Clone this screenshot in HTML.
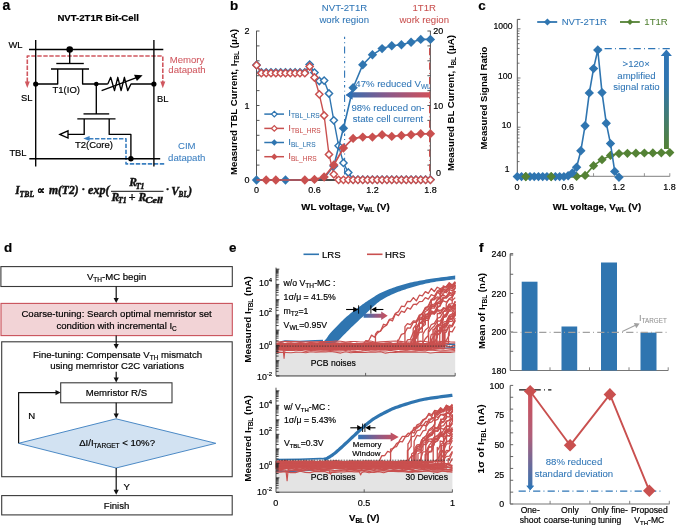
<!DOCTYPE html>
<html><head><meta charset="utf-8"><style>
html,body{margin:0;padding:0;background:#fff;width:685px;height:525px;overflow:hidden;}
svg{display:block;will-change:transform;}

</style></head><body>
<svg width="685" height="525" viewBox="0 0 685 525">
<rect width="685" height="525" fill="#fff"/>
<text x="2.50" y="9.60" font-size="14" font-weight="bold" text-anchor="start" fill="#000" stroke="#000" stroke-width="0.18" font-family='"Liberation Sans", sans-serif' >a</text>
<text x="57.40" y="20.60" font-size="9.6" font-weight="bold" text-anchor="start" fill="#000" stroke="#000" stroke-width="0.18" font-family='"Liberation Sans", sans-serif' >NVT-2T1R Bit-Cell</text>
<text x="8.40" y="48.30" font-size="9.4" font-weight="normal" text-anchor="start" fill="#000" stroke="#000" stroke-width="0.18" font-family='"Liberation Sans", sans-serif' >WL</text>
<text x="21.00" y="101.00" font-size="9.4" font-weight="normal" text-anchor="start" fill="#000" stroke="#000" stroke-width="0.18" font-family='"Liberation Sans", sans-serif' >SL</text>
<text x="157.00" y="101.60" font-size="9.4" font-weight="normal" text-anchor="start" fill="#000" stroke="#000" stroke-width="0.18" font-family='"Liberation Sans", sans-serif' >BL</text>
<text x="9.40" y="155.50" font-size="9.4" font-weight="normal" text-anchor="start" fill="#000" stroke="#000" stroke-width="0.18" font-family='"Liberation Sans", sans-serif' >TBL</text>
<text x="52.50" y="93.20" font-size="9.5" font-weight="normal" text-anchor="start" fill="#000" stroke="#000" stroke-width="0.18" font-family='"Liberation Sans", sans-serif' >T1(IO)</text>
<text x="74.90" y="147.80" font-size="9.5" font-weight="normal" text-anchor="start" fill="#000" stroke="#000" stroke-width="0.18" font-family='"Liberation Sans", sans-serif' >T2(Core)</text>
<polyline points="27.30,82.00 27.30,56.00 162.80,56.00 162.80,82.00" stroke="#d0575f" stroke-width="1.6" fill="none" stroke-linejoin="round" stroke-dasharray="4.4,1.6"/>
<polygon points="24.80,81.40 29.80,81.40 27.30,88.00" fill="#d0575f" stroke="none" stroke-width="1" />
<polygon points="160.30,81.40 165.30,81.40 162.80,88.20" fill="#d0575f" stroke="none" stroke-width="1" />
<text x="187.00" y="63.30" font-size="9.6" font-weight="normal" text-anchor="middle" fill="#d0575f" stroke="#d0575f" stroke-width="0.06" font-family='"Liberation Sans", sans-serif' >Memory</text>
<text x="187.00" y="73.30" font-size="9.6" font-weight="normal" text-anchor="middle" fill="#d0575f" stroke="#d0575f" stroke-width="0.06" font-family='"Liberation Sans", sans-serif' >datapath</text>
<polyline points="89.00,138.70 126.00,138.70 126.00,163.90 165.00,163.90" stroke="#3a7fc0" stroke-width="1.6" fill="none" stroke-linejoin="round" stroke-dasharray="4.4,1.6"/>
<polygon points="83.30,138.50 89.60,136.00 89.60,141.00" fill="#3a7fc0" stroke="none" stroke-width="1" />
<text x="186.80" y="149.20" font-size="9.6" font-weight="normal" text-anchor="middle" fill="#3a7fc0" stroke="#3a7fc0" stroke-width="0.06" font-family='"Liberation Sans", sans-serif' >CIM</text>
<text x="186.80" y="160.60" font-size="9.6" font-weight="normal" text-anchor="middle" fill="#3a7fc0" stroke="#3a7fc0" stroke-width="0.06" font-family='"Liberation Sans", sans-serif' >datapath</text>
<line x1="35.70" y1="40.00" x2="35.70" y2="166.50" stroke="#000" stroke-width="1.35" />
<line x1="153.90" y1="40.00" x2="153.90" y2="166.50" stroke="#000" stroke-width="1.35" />
<line x1="29.00" y1="49.50" x2="163.30" y2="49.50" stroke="#000" stroke-width="1.35" />
<line x1="29.30" y1="158.70" x2="160.20" y2="158.70" stroke="#000" stroke-width="1.35" />
<line x1="69.70" y1="49.50" x2="69.70" y2="63.50" stroke="#000" stroke-width="1.35" />
<line x1="56.30" y1="63.50" x2="83.80" y2="63.50" stroke="#000" stroke-width="1.35" />
<line x1="51.00" y1="69.00" x2="89.00" y2="69.00" stroke="#000" stroke-width="1.35" />
<polyline points="35.70,84.00 57.70,84.00 57.70,69.00" stroke="#000" stroke-width="1.35" fill="none" stroke-linejoin="round" />
<polyline points="82.60,69.00 82.60,84.00 107.80,84.00" stroke="#000" stroke-width="1.35" fill="none" stroke-linejoin="round" />
<polyline points="107.80,84.00 110.70,77.30 114.50,90.60 117.80,77.30 121.10,90.60 124.40,77.30 127.70,90.60 131.00,84.00 153.90,84.00" stroke="#000" stroke-width="1.35" fill="none" stroke-linejoin="round" />
<line x1="101.60" y1="90.60" x2="137.20" y2="77.40" stroke="#000" stroke-width="1.3" />
<polygon points="142.60,75.30 134.00,74.80 136.90,81.00" fill="#000" stroke="none" stroke-width="1" />
<line x1="96.30" y1="84.00" x2="96.30" y2="113.90" stroke="#000" stroke-width="1.35" />
<line x1="83.50" y1="113.90" x2="109.20" y2="113.90" stroke="#000" stroke-width="1.35" />
<line x1="77.30" y1="118.90" x2="115.50" y2="118.90" stroke="#000" stroke-width="1.35" />
<polyline points="84.20,118.90 84.20,134.40 68.00,134.40" stroke="#000" stroke-width="1.35" fill="none" stroke-linejoin="round" />
<polygon points="59.90,134.40 68.00,130.80 68.00,138.00" fill="#fff" stroke="#000" stroke-width="1.35" />
<polyline points="109.20,118.90 109.20,134.40 130.90,134.40 130.90,158.70" stroke="#000" stroke-width="1.35" fill="none" stroke-linejoin="round" />
<circle cx="69.70" cy="49.50" r="3.3" fill="#000"/>
<circle cx="35.70" cy="84.00" r="2.6" fill="#000"/>
<circle cx="96.30" cy="84.00" r="2.3" fill="#000"/>
<circle cx="153.90" cy="84.00" r="2.6" fill="#000"/>
<circle cx="130.90" cy="158.70" r="2.7" fill="#000"/>
<text x="15.3" y="194.1" font-size="11.5" style='font-family:"Liberation Serif", serif;font-weight:bold;font-style:italic' fill="#111" stroke="#111" stroke-width="0.42">I</text>
<text x="19.6" y="197.0" font-size="7.8" style='font-family:"Liberation Serif", serif;font-weight:bold;font-style:italic' fill="#111" stroke="#111" stroke-width="0.42" textLength="14.5" lengthAdjust="spacingAndGlyphs">TBL</text>
<text x="36.9" y="193.6" font-size="10.5" style='font-family:"Liberation Serif", serif;font-weight:bold' fill="#111" stroke="#111" stroke-width="0.25">∝</text>
<text x="48.9" y="194.1" font-size="11.5" style='font-family:"Liberation Serif", serif;font-weight:bold;font-style:italic' fill="#111" stroke="#111" stroke-width="0.42" textLength="29.8" lengthAdjust="spacingAndGlyphs">m(T2)</text>
<text x="81.6" y="193.3" font-size="11" style='font-family:"Liberation Serif", serif;font-weight:bold' fill="#111" stroke="#111" stroke-width="0.42">·</text>
<text x="88.1" y="194.1" font-size="11.5" style='font-family:"Liberation Serif", serif;font-weight:bold;font-style:italic' fill="#111" stroke="#111" stroke-width="0.42" textLength="21.5" lengthAdjust="spacingAndGlyphs">exp(</text>
<text x="129.2" y="185.9" font-size="11.5" style='font-family:"Liberation Serif", serif;font-weight:bold;font-style:italic' fill="#111" stroke="#111" stroke-width="0.42">R</text>
<text x="135.8" y="188.5" font-size="7.8" style='font-family:"Liberation Serif", serif;font-weight:bold;font-style:italic' fill="#111" stroke="#111" stroke-width="0.42" textLength="8.7" lengthAdjust="spacingAndGlyphs">T1</text>
<text x="111.4" y="200.8" font-size="11.5" style='font-family:"Liberation Serif", serif;font-weight:bold;font-style:italic' fill="#111" stroke="#111" stroke-width="0.42">R</text>
<text x="118.0" y="203.3" font-size="7.8" style='font-family:"Liberation Serif", serif;font-weight:bold;font-style:italic' fill="#111" stroke="#111" stroke-width="0.42" textLength="8.7" lengthAdjust="spacingAndGlyphs">T1</text>
<text x="128.6" y="201.0" font-size="12.5" style='font-family:"Liberation Serif", serif;font-weight:bold' fill="#111" stroke="#111" stroke-width="0.3">+</text>
<text x="138.6" y="200.8" font-size="11.5" style='font-family:"Liberation Serif", serif;font-weight:bold;font-style:italic' fill="#111" stroke="#111" stroke-width="0.42">R</text>
<text x="145.2" y="203.3" font-size="7.8" style='font-family:"Liberation Serif", serif;font-weight:bold;font-style:italic' fill="#111" stroke="#111" stroke-width="0.42" textLength="17.6" lengthAdjust="spacingAndGlyphs">Cell</text>
<text x="165.8" y="193.3" font-size="11" style='font-family:"Liberation Serif", serif;font-weight:bold' fill="#111" stroke="#111" stroke-width="0.42">·</text>
<text x="171.3" y="194.9" font-size="11.5" style='font-family:"Liberation Serif", serif;font-weight:bold;font-style:italic' fill="#111" stroke="#111" stroke-width="0.42">V</text>
<text x="178.6" y="197.2" font-size="7.8" style='font-family:"Liberation Serif", serif;font-weight:bold;font-style:italic' fill="#111" stroke="#111" stroke-width="0.42" textLength="9.2" lengthAdjust="spacingAndGlyphs">BL</text>
<text x="188.3" y="194.9" font-size="11.5" style='font-family:"Liberation Serif", serif;font-weight:bold;font-style:italic' fill="#111" stroke="#111" stroke-width="0.42">)</text>
<line x1="111.00" y1="191.30" x2="163.50" y2="191.30" stroke="#111" stroke-width="1.0" />
<text x="230.00" y="9.70" font-size="13.4" font-weight="bold" text-anchor="start" fill="#000" stroke="#000" stroke-width="0.18" font-family='"Liberation Sans", sans-serif' >b</text>
<text x="344.50" y="11.20" font-size="9.6" font-weight="normal" text-anchor="middle" fill="#2e75b6" stroke="#2e75b6" stroke-width="0.06" font-family='"Liberation Sans", sans-serif' >NVT-2T1R</text>
<text x="344.20" y="22.70" font-size="9.6" font-weight="normal" text-anchor="middle" fill="#2e75b6" stroke="#2e75b6" stroke-width="0.06" font-family='"Liberation Sans", sans-serif' >work region</text>
<text x="424.20" y="11.20" font-size="9.6" font-weight="normal" text-anchor="middle" fill="#c9504f" stroke="#c9504f" stroke-width="0.06" font-family='"Liberation Sans", sans-serif' >1T1R</text>
<text x="424.20" y="22.70" font-size="9.6" font-weight="normal" text-anchor="middle" fill="#c9504f" stroke="#c9504f" stroke-width="0.06" font-family='"Liberation Sans", sans-serif' >work region</text>
<line x1="256.50" y1="30.80" x2="256.50" y2="180.50" stroke="#555" stroke-width="1" />
<line x1="430.40" y1="30.80" x2="430.40" y2="176.00" stroke="#555" stroke-width="1" />
<line x1="256.50" y1="180.00" x2="259.50" y2="180.00" stroke="#444" stroke-width="0.9" />
<line x1="256.50" y1="165.10" x2="259.50" y2="165.10" stroke="#444" stroke-width="0.9" />
<line x1="427.40" y1="165.10" x2="430.40" y2="165.10" stroke="#444" stroke-width="0.9" />
<line x1="256.50" y1="150.20" x2="259.50" y2="150.20" stroke="#444" stroke-width="0.9" />
<line x1="427.40" y1="150.20" x2="430.40" y2="150.20" stroke="#444" stroke-width="0.9" />
<line x1="256.50" y1="135.30" x2="259.50" y2="135.30" stroke="#444" stroke-width="0.9" />
<line x1="427.40" y1="135.30" x2="430.40" y2="135.30" stroke="#444" stroke-width="0.9" />
<line x1="256.50" y1="120.40" x2="259.50" y2="120.40" stroke="#444" stroke-width="0.9" />
<line x1="427.40" y1="120.40" x2="430.40" y2="120.40" stroke="#444" stroke-width="0.9" />
<line x1="256.50" y1="105.50" x2="259.50" y2="105.50" stroke="#444" stroke-width="0.9" />
<line x1="427.40" y1="105.50" x2="430.40" y2="105.50" stroke="#444" stroke-width="0.9" />
<line x1="256.50" y1="90.60" x2="259.50" y2="90.60" stroke="#444" stroke-width="0.9" />
<line x1="427.40" y1="90.60" x2="430.40" y2="90.60" stroke="#444" stroke-width="0.9" />
<line x1="256.50" y1="75.70" x2="259.50" y2="75.70" stroke="#444" stroke-width="0.9" />
<line x1="427.40" y1="75.70" x2="430.40" y2="75.70" stroke="#444" stroke-width="0.9" />
<line x1="256.50" y1="60.80" x2="259.50" y2="60.80" stroke="#444" stroke-width="0.9" />
<line x1="427.40" y1="60.80" x2="430.40" y2="60.80" stroke="#444" stroke-width="0.9" />
<line x1="256.50" y1="45.90" x2="259.50" y2="45.90" stroke="#444" stroke-width="0.9" />
<line x1="427.40" y1="45.90" x2="430.40" y2="45.90" stroke="#444" stroke-width="0.9" />
<line x1="256.50" y1="31.00" x2="259.50" y2="31.00" stroke="#444" stroke-width="0.9" />
<line x1="427.40" y1="31.00" x2="430.40" y2="31.00" stroke="#444" stroke-width="0.9" />
<line x1="314.47" y1="180.00" x2="314.47" y2="177.00" stroke="#444" stroke-width="0.9" />
<line x1="372.43" y1="180.00" x2="372.43" y2="177.00" stroke="#444" stroke-width="0.9" />
<line x1="430.40" y1="180.00" x2="430.40" y2="177.00" stroke="#444" stroke-width="0.9" />
<line x1="256.50" y1="180.00" x2="430.40" y2="180.00" stroke="#111" stroke-width="1.6" />
<line x1="344.60" y1="36.70" x2="344.60" y2="180.00" stroke="#2e75b6" stroke-width="1.1" stroke-dasharray="2.4,3.2,0.9,3.2,7.2,3.2,0.9,3.2"/>
<line x1="429.60" y1="48.00" x2="429.60" y2="178.00" stroke="#c9504f" stroke-width="1.2" stroke-dasharray="7.2,3.2,0.9,3.2"/>
<text x="249.50" y="34.20" font-size="9" font-weight="normal" text-anchor="end" fill="#000" stroke="#000" stroke-width="0.18" font-family='"Liberation Sans", sans-serif' >2</text>
<text x="249.50" y="108.70" font-size="9" font-weight="normal" text-anchor="end" fill="#000" stroke="#000" stroke-width="0.18" font-family='"Liberation Sans", sans-serif' >1</text>
<text x="249.50" y="183.20" font-size="9" font-weight="normal" text-anchor="end" fill="#000" stroke="#000" stroke-width="0.18" font-family='"Liberation Sans", sans-serif' >0</text>
<text x="433.30" y="34.20" font-size="9" font-weight="normal" text-anchor="start" fill="#000" stroke="#000" stroke-width="0.18" font-family='"Liberation Sans", sans-serif' >20</text>
<text x="433.30" y="108.70" font-size="9" font-weight="normal" text-anchor="start" fill="#000" stroke="#000" stroke-width="0.18" font-family='"Liberation Sans", sans-serif' >10</text>
<text x="435.90" y="175.60" font-size="9" font-weight="normal" text-anchor="start" fill="#000" stroke="#000" stroke-width="0.18" font-family='"Liberation Sans", sans-serif' >0</text>
<text x="256.50" y="193.00" font-size="9" font-weight="normal" text-anchor="middle" fill="#000" stroke="#000" stroke-width="0.18" font-family='"Liberation Sans", sans-serif' >0</text>
<text x="314.47" y="193.00" font-size="9" font-weight="normal" text-anchor="middle" fill="#000" stroke="#000" stroke-width="0.18" font-family='"Liberation Sans", sans-serif' >0.6</text>
<text x="372.43" y="193.00" font-size="9" font-weight="normal" text-anchor="middle" fill="#000" stroke="#000" stroke-width="0.18" font-family='"Liberation Sans", sans-serif' >1.2</text>
<text x="430.40" y="193.00" font-size="9" font-weight="normal" text-anchor="middle" fill="#000" stroke="#000" stroke-width="0.18" font-family='"Liberation Sans", sans-serif' >1.8</text>
<text x="345.50" y="210.40" font-size="9.6" font-weight="bold" text-anchor="middle" fill="#000" stroke="#000" stroke-width="0.18" font-family='"Liberation Sans", sans-serif' >WL voltage, V<tspan font-size="6.5" baseline-shift="-2.3">WL</tspan> (V)</text>
<text transform="translate(237.3,102) rotate(-90)" font-size="9.6" font-weight="bold" text-anchor="middle" font-family='"Liberation Sans", sans-serif' fill="#000">Measured TBL Current, I<tspan font-size="6.5" baseline-shift="-2.3">TBL</tspan> (μA)</text>
<text transform="translate(454,103) rotate(-90)" font-size="9.6" font-weight="bold" text-anchor="middle" font-family='"Liberation Sans", sans-serif' fill="#000">Measured BL Current, I<tspan font-size="6.5" baseline-shift="-2.3">BL</tspan> (μA)</text>
<polyline points="256.50,65.00 261.33,72.30 266.16,72.30 270.99,72.30 275.82,72.30 280.65,72.30 285.48,72.30 290.31,72.30 295.14,72.30 299.98,72.30 304.81,72.30 309.64,64.60 314.47,72.60 319.30,81.00 324.13,80.60 328.96,93.50 333.79,120.30 338.62,145.80 343.45,162.90 348.28,172.50 353.11,179.60 357.94,179.60 362.77,179.60 367.60,179.60 372.43,179.60 377.26,179.60 382.09,179.60 386.92,179.60 391.76,179.60 396.59,179.60 401.42,179.60 406.25,179.60 411.08,179.60 415.91,179.60 420.74,179.60 425.57,179.60 430.40,179.60" stroke="#2f75b0" stroke-width="1.4" fill="none" stroke-linejoin="round" />
<polygon points="252.90,65.00 256.50,61.40 260.10,65.00 256.50,68.60" fill="#fff" stroke="#2f75b0" stroke-width="1.45" />
<polygon points="257.73,72.30 261.33,68.70 264.93,72.30 261.33,75.90" fill="#fff" stroke="#2f75b0" stroke-width="1.45" />
<polygon points="262.56,72.30 266.16,68.70 269.76,72.30 266.16,75.90" fill="#fff" stroke="#2f75b0" stroke-width="1.45" />
<polygon points="267.39,72.30 270.99,68.70 274.59,72.30 270.99,75.90" fill="#fff" stroke="#2f75b0" stroke-width="1.45" />
<polygon points="272.22,72.30 275.82,68.70 279.42,72.30 275.82,75.90" fill="#fff" stroke="#2f75b0" stroke-width="1.45" />
<polygon points="277.05,72.30 280.65,68.70 284.25,72.30 280.65,75.90" fill="#fff" stroke="#2f75b0" stroke-width="1.45" />
<polygon points="281.88,72.30 285.48,68.70 289.08,72.30 285.48,75.90" fill="#fff" stroke="#2f75b0" stroke-width="1.45" />
<polygon points="286.71,72.30 290.31,68.70 293.91,72.30 290.31,75.90" fill="#fff" stroke="#2f75b0" stroke-width="1.45" />
<polygon points="291.54,72.30 295.14,68.70 298.74,72.30 295.14,75.90" fill="#fff" stroke="#2f75b0" stroke-width="1.45" />
<polygon points="296.38,72.30 299.98,68.70 303.58,72.30 299.98,75.90" fill="#fff" stroke="#2f75b0" stroke-width="1.45" />
<polygon points="301.21,72.30 304.81,68.70 308.41,72.30 304.81,75.90" fill="#fff" stroke="#2f75b0" stroke-width="1.45" />
<polygon points="306.04,64.60 309.64,61.00 313.24,64.60 309.64,68.20" fill="#fff" stroke="#2f75b0" stroke-width="1.45" />
<polygon points="310.87,72.60 314.47,69.00 318.07,72.60 314.47,76.20" fill="#fff" stroke="#2f75b0" stroke-width="1.45" />
<polygon points="315.70,81.00 319.30,77.40 322.90,81.00 319.30,84.60" fill="#fff" stroke="#2f75b0" stroke-width="1.45" />
<polygon points="320.53,80.60 324.13,77.00 327.73,80.60 324.13,84.20" fill="#fff" stroke="#2f75b0" stroke-width="1.45" />
<polygon points="325.36,93.50 328.96,89.90 332.56,93.50 328.96,97.10" fill="#fff" stroke="#2f75b0" stroke-width="1.45" />
<polygon points="330.19,120.30 333.79,116.70 337.39,120.30 333.79,123.90" fill="#fff" stroke="#2f75b0" stroke-width="1.45" />
<polygon points="335.02,145.80 338.62,142.20 342.22,145.80 338.62,149.40" fill="#fff" stroke="#2f75b0" stroke-width="1.45" />
<polygon points="339.85,162.90 343.45,159.30 347.05,162.90 343.45,166.50" fill="#fff" stroke="#2f75b0" stroke-width="1.45" />
<polygon points="344.68,172.50 348.28,168.90 351.88,172.50 348.28,176.10" fill="#fff" stroke="#2f75b0" stroke-width="1.45" />
<polygon points="349.51,179.60 353.11,176.00 356.71,179.60 353.11,183.20" fill="#fff" stroke="#2f75b0" stroke-width="1.45" />
<polygon points="354.34,179.60 357.94,176.00 361.54,179.60 357.94,183.20" fill="#fff" stroke="#2f75b0" stroke-width="1.45" />
<polygon points="359.17,179.60 362.77,176.00 366.37,179.60 362.77,183.20" fill="#fff" stroke="#2f75b0" stroke-width="1.45" />
<polygon points="364.00,179.60 367.60,176.00 371.20,179.60 367.60,183.20" fill="#fff" stroke="#2f75b0" stroke-width="1.45" />
<polygon points="368.83,179.60 372.43,176.00 376.03,179.60 372.43,183.20" fill="#fff" stroke="#2f75b0" stroke-width="1.45" />
<polygon points="373.66,179.60 377.26,176.00 380.86,179.60 377.26,183.20" fill="#fff" stroke="#2f75b0" stroke-width="1.45" />
<polygon points="378.49,179.60 382.09,176.00 385.69,179.60 382.09,183.20" fill="#fff" stroke="#2f75b0" stroke-width="1.45" />
<polygon points="383.32,179.60 386.92,176.00 390.52,179.60 386.92,183.20" fill="#fff" stroke="#2f75b0" stroke-width="1.45" />
<polygon points="388.16,179.60 391.76,176.00 395.36,179.60 391.76,183.20" fill="#fff" stroke="#2f75b0" stroke-width="1.45" />
<polygon points="392.99,179.60 396.59,176.00 400.19,179.60 396.59,183.20" fill="#fff" stroke="#2f75b0" stroke-width="1.45" />
<polygon points="397.82,179.60 401.42,176.00 405.02,179.60 401.42,183.20" fill="#fff" stroke="#2f75b0" stroke-width="1.45" />
<polygon points="402.65,179.60 406.25,176.00 409.85,179.60 406.25,183.20" fill="#fff" stroke="#2f75b0" stroke-width="1.45" />
<polygon points="407.48,179.60 411.08,176.00 414.68,179.60 411.08,183.20" fill="#fff" stroke="#2f75b0" stroke-width="1.45" />
<polygon points="412.31,179.60 415.91,176.00 419.51,179.60 415.91,183.20" fill="#fff" stroke="#2f75b0" stroke-width="1.45" />
<polygon points="417.14,179.60 420.74,176.00 424.34,179.60 420.74,183.20" fill="#fff" stroke="#2f75b0" stroke-width="1.45" />
<polygon points="421.97,179.60 425.57,176.00 429.17,179.60 425.57,183.20" fill="#fff" stroke="#2f75b0" stroke-width="1.45" />
<polygon points="426.80,179.60 430.40,176.00 434.00,179.60 430.40,183.20" fill="#fff" stroke="#2f75b0" stroke-width="1.45" />
<polyline points="256.50,65.20 261.33,73.20 266.16,73.20 270.99,73.20 275.82,73.20 280.65,73.20 285.48,73.20 290.31,73.20 295.14,73.20 299.98,73.20 304.81,73.20 309.64,66.50 314.47,77.50 319.30,94.30 324.13,115.50 328.96,154.50 333.79,174.30 338.62,179.80 343.45,179.80 348.28,179.80 353.11,179.80 357.94,179.80 362.77,179.80 367.60,179.80 372.43,179.80 377.26,179.80 382.09,179.80 386.92,179.80 391.76,179.80 396.59,179.80 401.42,179.80 406.25,179.80 411.08,179.80 415.91,179.80 420.74,179.80 425.57,179.80 430.40,179.80" stroke="#c9504f" stroke-width="1.4" fill="none" stroke-linejoin="round" />
<polygon points="252.90,65.20 256.50,61.60 260.10,65.20 256.50,68.80" fill="#fff" stroke="#c9504f" stroke-width="1.45" />
<polygon points="257.73,73.20 261.33,69.60 264.93,73.20 261.33,76.80" fill="#fff" stroke="#c9504f" stroke-width="1.45" />
<polygon points="262.56,73.20 266.16,69.60 269.76,73.20 266.16,76.80" fill="#fff" stroke="#c9504f" stroke-width="1.45" />
<polygon points="267.39,73.20 270.99,69.60 274.59,73.20 270.99,76.80" fill="#fff" stroke="#c9504f" stroke-width="1.45" />
<polygon points="272.22,73.20 275.82,69.60 279.42,73.20 275.82,76.80" fill="#fff" stroke="#c9504f" stroke-width="1.45" />
<polygon points="277.05,73.20 280.65,69.60 284.25,73.20 280.65,76.80" fill="#fff" stroke="#c9504f" stroke-width="1.45" />
<polygon points="281.88,73.20 285.48,69.60 289.08,73.20 285.48,76.80" fill="#fff" stroke="#c9504f" stroke-width="1.45" />
<polygon points="286.71,73.20 290.31,69.60 293.91,73.20 290.31,76.80" fill="#fff" stroke="#c9504f" stroke-width="1.45" />
<polygon points="291.54,73.20 295.14,69.60 298.74,73.20 295.14,76.80" fill="#fff" stroke="#c9504f" stroke-width="1.45" />
<polygon points="296.38,73.20 299.98,69.60 303.58,73.20 299.98,76.80" fill="#fff" stroke="#c9504f" stroke-width="1.45" />
<polygon points="301.21,73.20 304.81,69.60 308.41,73.20 304.81,76.80" fill="#fff" stroke="#c9504f" stroke-width="1.45" />
<polygon points="306.04,66.50 309.64,62.90 313.24,66.50 309.64,70.10" fill="#fff" stroke="#c9504f" stroke-width="1.45" />
<polygon points="310.87,77.50 314.47,73.90 318.07,77.50 314.47,81.10" fill="#fff" stroke="#c9504f" stroke-width="1.45" />
<polygon points="315.70,94.30 319.30,90.70 322.90,94.30 319.30,97.90" fill="#fff" stroke="#c9504f" stroke-width="1.45" />
<polygon points="320.53,115.50 324.13,111.90 327.73,115.50 324.13,119.10" fill="#fff" stroke="#c9504f" stroke-width="1.45" />
<polygon points="325.36,154.50 328.96,150.90 332.56,154.50 328.96,158.10" fill="#fff" stroke="#c9504f" stroke-width="1.45" />
<polygon points="330.19,174.30 333.79,170.70 337.39,174.30 333.79,177.90" fill="#fff" stroke="#c9504f" stroke-width="1.45" />
<polygon points="335.02,179.80 338.62,176.20 342.22,179.80 338.62,183.40" fill="#fff" stroke="#c9504f" stroke-width="1.45" />
<polygon points="339.85,179.80 343.45,176.20 347.05,179.80 343.45,183.40" fill="#fff" stroke="#c9504f" stroke-width="1.45" />
<polygon points="344.68,179.80 348.28,176.20 351.88,179.80 348.28,183.40" fill="#fff" stroke="#c9504f" stroke-width="1.45" />
<polygon points="349.51,179.80 353.11,176.20 356.71,179.80 353.11,183.40" fill="#fff" stroke="#c9504f" stroke-width="1.45" />
<polygon points="354.34,179.80 357.94,176.20 361.54,179.80 357.94,183.40" fill="#fff" stroke="#c9504f" stroke-width="1.45" />
<polygon points="359.17,179.80 362.77,176.20 366.37,179.80 362.77,183.40" fill="#fff" stroke="#c9504f" stroke-width="1.45" />
<polygon points="364.00,179.80 367.60,176.20 371.20,179.80 367.60,183.40" fill="#fff" stroke="#c9504f" stroke-width="1.45" />
<polygon points="368.83,179.80 372.43,176.20 376.03,179.80 372.43,183.40" fill="#fff" stroke="#c9504f" stroke-width="1.45" />
<polygon points="373.66,179.80 377.26,176.20 380.86,179.80 377.26,183.40" fill="#fff" stroke="#c9504f" stroke-width="1.45" />
<polygon points="378.49,179.80 382.09,176.20 385.69,179.80 382.09,183.40" fill="#fff" stroke="#c9504f" stroke-width="1.45" />
<polygon points="383.32,179.80 386.92,176.20 390.52,179.80 386.92,183.40" fill="#fff" stroke="#c9504f" stroke-width="1.45" />
<polygon points="388.16,179.80 391.76,176.20 395.36,179.80 391.76,183.40" fill="#fff" stroke="#c9504f" stroke-width="1.45" />
<polygon points="392.99,179.80 396.59,176.20 400.19,179.80 396.59,183.40" fill="#fff" stroke="#c9504f" stroke-width="1.45" />
<polygon points="397.82,179.80 401.42,176.20 405.02,179.80 401.42,183.40" fill="#fff" stroke="#c9504f" stroke-width="1.45" />
<polygon points="402.65,179.80 406.25,176.20 409.85,179.80 406.25,183.40" fill="#fff" stroke="#c9504f" stroke-width="1.45" />
<polygon points="407.48,179.80 411.08,176.20 414.68,179.80 411.08,183.40" fill="#fff" stroke="#c9504f" stroke-width="1.45" />
<polygon points="412.31,179.80 415.91,176.20 419.51,179.80 415.91,183.40" fill="#fff" stroke="#c9504f" stroke-width="1.45" />
<polygon points="417.14,179.80 420.74,176.20 424.34,179.80 420.74,183.40" fill="#fff" stroke="#c9504f" stroke-width="1.45" />
<polygon points="421.97,179.80 425.57,176.20 429.17,179.80 425.57,183.40" fill="#fff" stroke="#c9504f" stroke-width="1.45" />
<polygon points="426.80,179.80 430.40,176.20 434.00,179.80 430.40,183.40" fill="#fff" stroke="#c9504f" stroke-width="1.45" />
<polyline points="256.50,180.00 266.16,180.00 275.82,180.00 285.48,180.00 295.14,180.00 304.81,180.00 314.47,179.50 324.13,178.00 333.79,166.00 343.45,128.30 353.11,87.80 362.77,64.70 372.43,54.80 382.09,48.60 391.76,45.70 401.42,44.70 411.08,42.30 420.74,39.40 430.40,39.40" stroke="#2f75b0" stroke-width="1.6" fill="none" stroke-linejoin="round" />
<polygon points="251.80,180.00 256.50,175.30 261.20,180.00 256.50,184.70" fill="#2f75b0" stroke="none" stroke-width="0" />
<polygon points="280.78,180.00 285.48,175.30 290.18,180.00 285.48,184.70" fill="#2f75b0" stroke="none" stroke-width="0" />
<polygon points="329.09,166.00 333.79,161.30 338.49,166.00 333.79,170.70" fill="#2f75b0" stroke="none" stroke-width="0" />
<polygon points="338.75,128.30 343.45,123.60 348.15,128.30 343.45,133.00" fill="#2f75b0" stroke="none" stroke-width="0" />
<polygon points="348.41,87.80 353.11,83.10 357.81,87.80 353.11,92.50" fill="#2f75b0" stroke="none" stroke-width="0" />
<polygon points="358.07,64.70 362.77,60.00 367.47,64.70 362.77,69.40" fill="#2f75b0" stroke="none" stroke-width="0" />
<polygon points="367.73,54.80 372.43,50.10 377.13,54.80 372.43,59.50" fill="#2f75b0" stroke="none" stroke-width="0" />
<polygon points="377.39,48.60 382.09,43.90 386.79,48.60 382.09,53.30" fill="#2f75b0" stroke="none" stroke-width="0" />
<polygon points="387.06,45.70 391.76,41.00 396.46,45.70 391.76,50.40" fill="#2f75b0" stroke="none" stroke-width="0" />
<polygon points="396.72,44.70 401.42,40.00 406.12,44.70 401.42,49.40" fill="#2f75b0" stroke="none" stroke-width="0" />
<polygon points="406.38,42.30 411.08,37.60 415.78,42.30 411.08,47.00" fill="#2f75b0" stroke="none" stroke-width="0" />
<polygon points="416.04,39.40 420.74,34.70 425.44,39.40 420.74,44.10" fill="#2f75b0" stroke="none" stroke-width="0" />
<polygon points="425.70,39.40 430.40,34.70 435.10,39.40 430.40,44.10" fill="#2f75b0" stroke="none" stroke-width="0" />
<polyline points="256.50,180.00 266.16,180.00 275.82,180.00 285.48,180.00 295.14,180.00 304.81,180.00 314.47,179.40 324.13,177.00 333.79,165.00 343.45,148.00 353.11,138.40 362.77,137.10 372.43,137.10 382.09,134.70 391.76,136.40 401.42,135.50 411.08,134.70 420.74,133.80 430.40,133.80" stroke="#c9504f" stroke-width="1.7" fill="none" stroke-linejoin="round" />
<polygon points="261.46,180.00 266.16,175.30 270.86,180.00 266.16,184.70" fill="#c9504f" stroke="none" stroke-width="0" />
<polygon points="271.12,180.00 275.82,175.30 280.52,180.00 275.82,184.70" fill="#c9504f" stroke="none" stroke-width="0" />
<polygon points="300.11,180.00 304.81,175.30 309.51,180.00 304.81,184.70" fill="#c9504f" stroke="none" stroke-width="0" />
<polygon points="309.77,179.40 314.47,174.70 319.17,179.40 314.47,184.10" fill="#c9504f" stroke="none" stroke-width="0" />
<polygon points="319.43,177.00 324.13,172.30 328.83,177.00 324.13,181.70" fill="#c9504f" stroke="none" stroke-width="0" />
<polygon points="329.09,165.00 333.79,160.30 338.49,165.00 333.79,169.70" fill="#c9504f" stroke="none" stroke-width="0" />
<polygon points="338.75,148.00 343.45,143.30 348.15,148.00 343.45,152.70" fill="#c9504f" stroke="none" stroke-width="0" />
<polygon points="348.41,138.40 353.11,133.70 357.81,138.40 353.11,143.10" fill="#c9504f" stroke="none" stroke-width="0" />
<polygon points="358.07,137.10 362.77,132.40 367.47,137.10 362.77,141.80" fill="#c9504f" stroke="none" stroke-width="0" />
<polygon points="367.73,137.10 372.43,132.40 377.13,137.10 372.43,141.80" fill="#c9504f" stroke="none" stroke-width="0" />
<polygon points="377.39,134.70 382.09,130.00 386.79,134.70 382.09,139.40" fill="#c9504f" stroke="none" stroke-width="0" />
<polygon points="387.06,136.40 391.76,131.70 396.46,136.40 391.76,141.10" fill="#c9504f" stroke="none" stroke-width="0" />
<polygon points="396.72,135.50 401.42,130.80 406.12,135.50 401.42,140.20" fill="#c9504f" stroke="none" stroke-width="0" />
<polygon points="406.38,134.70 411.08,130.00 415.78,134.70 411.08,139.40" fill="#c9504f" stroke="none" stroke-width="0" />
<polygon points="416.04,133.80 420.74,129.10 425.44,133.80 420.74,138.50" fill="#c9504f" stroke="none" stroke-width="0" />
<polygon points="425.70,133.80 430.40,129.10 435.10,133.80 430.40,138.50" fill="#c9504f" stroke="none" stroke-width="0" />
<defs><linearGradient id="gb" x1="0" x2="1" y1="0" y2="0"><stop offset="0" stop-color="#2f6fb3"/><stop offset="0.5" stop-color="#8a5a8a"/><stop offset="1" stop-color="#d0505a"/></linearGradient><linearGradient id="gc" x1="0" x2="0" y1="0" y2="1"><stop offset="0" stop-color="#2f75b6"/><stop offset="0.35" stop-color="#2f75b0"/><stop offset="1" stop-color="#548235"/></linearGradient><linearGradient id="gf" x1="0" x2="0" y1="0" y2="1"><stop offset="0" stop-color="#cf4f57"/><stop offset="0.45" stop-color="#b05f7a"/><stop offset="1" stop-color="#2f75b6"/></linearGradient><linearGradient id="ge" x1="0" x2="1" y1="0" y2="0"><stop offset="0" stop-color="#2f72b6"/><stop offset="0.5" stop-color="#8e5a86"/><stop offset="1" stop-color="#cf4f57"/></linearGradient></defs>
<polygon points="345.80,94.90 352.40,90.30 352.40,92.20 429.80,92.20 429.80,97.60 352.40,97.60 352.40,99.40" fill="url(#gb)" stroke="none" stroke-width="1" />
<polygon points="345.80,94.90 352.40,90.30 352.40,99.40" fill="#2f6fb3" stroke="none" stroke-width="1" />
<text x="355.30" y="86.70" font-size="9.6" font-weight="normal" text-anchor="start" fill="#2e75b6" stroke="#2e75b6" stroke-width="0.06" font-family='"Liberation Sans", sans-serif' >47% reduced V<tspan font-size="6.5" baseline-shift="-2.0">WL</tspan></text>
<text x="388.00" y="110.80" font-size="9.6" font-weight="normal" text-anchor="middle" fill="#2e75b6" stroke="#2e75b6" stroke-width="0.06" font-family='"Liberation Sans", sans-serif' >98% reduced on-</text>
<text x="388.00" y="122.40" font-size="9.6" font-weight="normal" text-anchor="middle" fill="#2e75b6" stroke="#2e75b6" stroke-width="0.06" font-family='"Liberation Sans", sans-serif' >state cell current</text>
<line x1="264.30" y1="114.10" x2="284.00" y2="114.10" stroke="#2f75b0" stroke-width="1.5" />
<polygon points="271.50,114.10 274.30,111.30 277.10,114.10 274.30,116.90" fill="#fff" stroke="#2f75b0" stroke-width="1.3" />
<text x="288.30" y="116.30" font-size="9.6" font-weight="normal" text-anchor="start" fill="#2f75b0" stroke="#2f75b0" stroke-width="0.06" font-family='"Liberation Sans", sans-serif' >I<tspan font-size="6.6" baseline-shift="-2.4">TBL_LRS</tspan></text>
<line x1="264.30" y1="128.40" x2="284.00" y2="128.40" stroke="#c9504f" stroke-width="1.5" />
<polygon points="271.50,128.40 274.30,125.60 277.10,128.40 274.30,131.20" fill="#fff" stroke="#c9504f" stroke-width="1.3" />
<text x="288.30" y="130.60" font-size="9.6" font-weight="normal" text-anchor="start" fill="#c9504f" stroke="#c9504f" stroke-width="0.06" font-family='"Liberation Sans", sans-serif' >I<tspan font-size="6.6" baseline-shift="-2.4">TBL_HRS</tspan></text>
<line x1="264.30" y1="142.50" x2="284.00" y2="142.50" stroke="#2f75b0" stroke-width="1.5" />
<polygon points="271.10,142.50 274.30,139.30 277.50,142.50 274.30,145.70" fill="#2f75b0" stroke="none" stroke-width="0" />
<text x="288.30" y="144.70" font-size="9.6" font-weight="normal" text-anchor="start" fill="#2f75b0" stroke="#2f75b0" stroke-width="0.06" font-family='"Liberation Sans", sans-serif' >I<tspan font-size="6.6" baseline-shift="-2.4">BL_LRS</tspan></text>
<line x1="264.30" y1="156.70" x2="284.00" y2="156.70" stroke="#c9504f" stroke-width="1.5" />
<polygon points="271.10,156.70 274.30,153.50 277.50,156.70 274.30,159.90" fill="#c9504f" stroke="none" stroke-width="0" />
<text x="288.30" y="158.90" font-size="9.6" font-weight="normal" text-anchor="start" fill="#c9504f" stroke="#c9504f" stroke-width="0.06" font-family='"Liberation Sans", sans-serif' >I<tspan font-size="6.6" baseline-shift="-2.4">BL_HRS</tspan></text>
<text x="478.30" y="9.70" font-size="13.4" font-weight="bold" text-anchor="start" fill="#000" stroke="#000" stroke-width="0.18" font-family='"Liberation Sans", sans-serif' >c</text>
<line x1="517.30" y1="19.40" x2="517.30" y2="176.40" stroke="#555" stroke-width="1" />
<line x1="517.30" y1="19.40" x2="520.30" y2="19.40" stroke="#555" stroke-width="1" />
<line x1="517.30" y1="176.40" x2="520.50" y2="176.40" stroke="#555" stroke-width="0.8" />
<line x1="517.30" y1="161.59" x2="519.50" y2="161.59" stroke="#555" stroke-width="0.8" />
<line x1="517.30" y1="152.93" x2="519.50" y2="152.93" stroke="#555" stroke-width="0.8" />
<line x1="517.30" y1="146.78" x2="519.50" y2="146.78" stroke="#555" stroke-width="0.8" />
<line x1="517.30" y1="142.01" x2="519.50" y2="142.01" stroke="#555" stroke-width="0.8" />
<line x1="517.30" y1="138.11" x2="519.50" y2="138.11" stroke="#555" stroke-width="0.8" />
<line x1="517.30" y1="134.82" x2="519.50" y2="134.82" stroke="#555" stroke-width="0.8" />
<line x1="517.30" y1="131.97" x2="519.50" y2="131.97" stroke="#555" stroke-width="0.8" />
<line x1="517.30" y1="129.45" x2="519.50" y2="129.45" stroke="#555" stroke-width="0.8" />
<line x1="517.30" y1="127.20" x2="520.50" y2="127.20" stroke="#555" stroke-width="0.8" />
<line x1="517.30" y1="112.39" x2="519.50" y2="112.39" stroke="#555" stroke-width="0.8" />
<line x1="517.30" y1="103.73" x2="519.50" y2="103.73" stroke="#555" stroke-width="0.8" />
<line x1="517.30" y1="97.58" x2="519.50" y2="97.58" stroke="#555" stroke-width="0.8" />
<line x1="517.30" y1="92.81" x2="519.50" y2="92.81" stroke="#555" stroke-width="0.8" />
<line x1="517.30" y1="88.91" x2="519.50" y2="88.91" stroke="#555" stroke-width="0.8" />
<line x1="517.30" y1="85.62" x2="519.50" y2="85.62" stroke="#555" stroke-width="0.8" />
<line x1="517.30" y1="82.77" x2="519.50" y2="82.77" stroke="#555" stroke-width="0.8" />
<line x1="517.30" y1="80.25" x2="519.50" y2="80.25" stroke="#555" stroke-width="0.8" />
<line x1="517.30" y1="78.00" x2="520.50" y2="78.00" stroke="#555" stroke-width="0.8" />
<line x1="517.30" y1="63.19" x2="519.50" y2="63.19" stroke="#555" stroke-width="0.8" />
<line x1="517.30" y1="54.53" x2="519.50" y2="54.53" stroke="#555" stroke-width="0.8" />
<line x1="517.30" y1="48.38" x2="519.50" y2="48.38" stroke="#555" stroke-width="0.8" />
<line x1="517.30" y1="43.61" x2="519.50" y2="43.61" stroke="#555" stroke-width="0.8" />
<line x1="517.30" y1="39.71" x2="519.50" y2="39.71" stroke="#555" stroke-width="0.8" />
<line x1="517.30" y1="36.42" x2="519.50" y2="36.42" stroke="#555" stroke-width="0.8" />
<line x1="517.30" y1="33.57" x2="519.50" y2="33.57" stroke="#555" stroke-width="0.8" />
<line x1="517.30" y1="31.05" x2="519.50" y2="31.05" stroke="#555" stroke-width="0.8" />
<line x1="517.30" y1="28.80" x2="520.50" y2="28.80" stroke="#555" stroke-width="0.8" />
<line x1="517.30" y1="176.40" x2="669.80" y2="176.40" stroke="#999" stroke-width="1.2" />
<line x1="542.72" y1="176.40" x2="542.72" y2="173.20" stroke="#888" stroke-width="0.9" />
<line x1="568.13" y1="176.40" x2="568.13" y2="173.20" stroke="#888" stroke-width="0.9" />
<line x1="593.55" y1="176.40" x2="593.55" y2="173.20" stroke="#888" stroke-width="0.9" />
<line x1="618.97" y1="176.40" x2="618.97" y2="173.20" stroke="#888" stroke-width="0.9" />
<line x1="644.38" y1="176.40" x2="644.38" y2="173.20" stroke="#888" stroke-width="0.9" />
<line x1="669.80" y1="176.40" x2="669.80" y2="173.20" stroke="#888" stroke-width="0.9" />
<text x="512.50" y="28.90" font-size="8.6" font-weight="normal" text-anchor="end" fill="#000" stroke="#000" stroke-width="0.18" font-family='"Liberation Sans", sans-serif' >1000</text>
<text x="512.30" y="79.20" font-size="8.6" font-weight="normal" text-anchor="end" fill="#000" stroke="#000" stroke-width="0.18" font-family='"Liberation Sans", sans-serif' >100</text>
<text x="511.30" y="127.60" font-size="8.6" font-weight="normal" text-anchor="end" fill="#000" stroke="#000" stroke-width="0.18" font-family='"Liberation Sans", sans-serif' >10</text>
<text x="509.60" y="172.20" font-size="8.6" font-weight="normal" text-anchor="end" fill="#000" stroke="#000" stroke-width="0.18" font-family='"Liberation Sans", sans-serif' >1</text>
<text x="517.00" y="189.80" font-size="9" font-weight="normal" text-anchor="middle" fill="#000" stroke="#000" stroke-width="0.18" font-family='"Liberation Sans", sans-serif' >0</text>
<text x="567.83" y="189.80" font-size="9" font-weight="normal" text-anchor="middle" fill="#000" stroke="#000" stroke-width="0.18" font-family='"Liberation Sans", sans-serif' >0.6</text>
<text x="618.67" y="189.80" font-size="9" font-weight="normal" text-anchor="middle" fill="#000" stroke="#000" stroke-width="0.18" font-family='"Liberation Sans", sans-serif' >1.2</text>
<text x="669.50" y="189.80" font-size="9" font-weight="normal" text-anchor="middle" fill="#000" stroke="#000" stroke-width="0.18" font-family='"Liberation Sans", sans-serif' >1.8</text>
<text x="597.00" y="210.20" font-size="9.6" font-weight="bold" text-anchor="middle" fill="#000" stroke="#000" stroke-width="0.18" font-family='"Liberation Sans", sans-serif' >WL voltage, V<tspan font-size="6.5" baseline-shift="-2.3">WL</tspan> (V)</text>
<text transform="translate(487.3,98) rotate(-90)" font-size="9.6" font-weight="bold" text-anchor="middle" font-family='"Liberation Sans", sans-serif' fill="#000">Measured Signal Ratio</text>
<line x1="537.20" y1="22.00" x2="557.20" y2="22.00" stroke="#2f75b0" stroke-width="1.8" />
<polygon points="543.80,22.00 547.40,18.40 551.00,22.00 547.40,25.60" fill="#2f75b0" stroke="none" stroke-width="0" />
<text x="561.70" y="25.40" font-size="9.6" font-weight="normal" text-anchor="start" fill="#2e75b6" stroke="#2e75b6" stroke-width="0.06" font-family='"Liberation Sans", sans-serif' >NVT-2T1R</text>
<line x1="620.00" y1="22.00" x2="639.80" y2="22.00" stroke="#548235" stroke-width="1.8" />
<polygon points="627.00,22.00 630.00,19.00 633.00,22.00 630.00,25.00" fill="#548235" stroke="none" stroke-width="0" />
<text x="644.30" y="25.40" font-size="9.6" font-weight="normal" text-anchor="start" fill="#548235" stroke="#548235" stroke-width="0.06" font-family='"Liberation Sans", sans-serif' >1T1R</text>
<line x1="600.50" y1="48.70" x2="672.60" y2="48.70" stroke="#2e75b6" stroke-width="1.2" stroke-dasharray="0.9,3.2,7.2,3.2"/>
<polyline points="551.19,176.60 559.66,177.20 568.13,177.20 576.61,176.40 585.08,175.40 593.55,165.70 602.02,159.70 610.49,155.40 618.97,153.60 627.44,153.30 635.91,153.20 644.38,153.00 652.86,152.90 661.33,152.80 669.80,152.60" stroke="#548235" stroke-width="1.6" fill="none" stroke-linejoin="round" />
<polygon points="521.17,176.60 525.77,172.00 530.37,176.60 525.77,181.20" fill="#548235" stroke="none" stroke-width="0" />
<polygon points="546.59,176.60 551.19,172.00 555.79,176.60 551.19,181.20" fill="#548235" stroke="none" stroke-width="0" />
<polygon points="572.01,176.40 576.61,171.80 581.21,176.40 576.61,181.00" fill="#548235" stroke="none" stroke-width="0" />
<polygon points="580.48,175.40 585.08,170.80 589.68,175.40 585.08,180.00" fill="#548235" stroke="none" stroke-width="0" />
<polygon points="588.95,165.70 593.55,161.10 598.15,165.70 593.55,170.30" fill="#548235" stroke="none" stroke-width="0" />
<polygon points="597.42,159.70 602.02,155.10 606.62,159.70 602.02,164.30" fill="#548235" stroke="none" stroke-width="0" />
<polygon points="605.89,155.40 610.49,150.80 615.09,155.40 610.49,160.00" fill="#548235" stroke="none" stroke-width="0" />
<polygon points="614.37,153.60 618.97,149.00 623.57,153.60 618.97,158.20" fill="#548235" stroke="none" stroke-width="0" />
<polygon points="622.84,153.30 627.44,148.70 632.04,153.30 627.44,157.90" fill="#548235" stroke="none" stroke-width="0" />
<polygon points="631.31,153.20 635.91,148.60 640.51,153.20 635.91,157.80" fill="#548235" stroke="none" stroke-width="0" />
<polygon points="639.78,153.00 644.38,148.40 648.98,153.00 644.38,157.60" fill="#548235" stroke="none" stroke-width="0" />
<polygon points="648.26,152.90 652.86,148.30 657.46,152.90 652.86,157.50" fill="#548235" stroke="none" stroke-width="0" />
<polygon points="656.73,152.80 661.33,148.20 665.93,152.80 661.33,157.40" fill="#548235" stroke="none" stroke-width="0" />
<polygon points="665.20,152.60 669.80,148.00 674.40,152.60 669.80,157.20" fill="#548235" stroke="none" stroke-width="0" />
<polyline points="517.30,176.60 521.54,176.60 525.77,176.60 530.01,176.60 534.24,176.60 538.48,176.60 542.72,176.60 546.95,176.60 551.19,176.60 555.42,176.60 559.66,176.60 563.90,176.60 568.13,175.70 572.37,172.90 576.61,167.30 580.84,150.70 585.08,125.70 589.31,92.90 593.55,68.60 597.79,50.00 602.02,92.60 606.26,123.20 610.49,143.60 614.73,171.40 618.97,177.20" stroke="#2f75b0" stroke-width="1.6" fill="none" stroke-linejoin="round" />
<polygon points="512.60,176.60 517.30,171.90 522.00,176.60 517.30,181.30" fill="#2f75b0" stroke="none" stroke-width="0" />
<polygon points="516.84,176.60 521.54,171.90 526.24,176.60 521.54,181.30" fill="#2f75b0" stroke="none" stroke-width="0" />
<polygon points="525.31,176.60 530.01,171.90 534.71,176.60 530.01,181.30" fill="#2f75b0" stroke="none" stroke-width="0" />
<polygon points="529.54,176.60 534.24,171.90 538.94,176.60 534.24,181.30" fill="#2f75b0" stroke="none" stroke-width="0" />
<polygon points="533.78,176.60 538.48,171.90 543.18,176.60 538.48,181.30" fill="#2f75b0" stroke="none" stroke-width="0" />
<polygon points="538.02,176.60 542.72,171.90 547.42,176.60 542.72,181.30" fill="#2f75b0" stroke="none" stroke-width="0" />
<polygon points="542.25,176.60 546.95,171.90 551.65,176.60 546.95,181.30" fill="#2f75b0" stroke="none" stroke-width="0" />
<polygon points="550.72,176.60 555.42,171.90 560.12,176.60 555.42,181.30" fill="#2f75b0" stroke="none" stroke-width="0" />
<polygon points="554.96,176.60 559.66,171.90 564.36,176.60 559.66,181.30" fill="#2f75b0" stroke="none" stroke-width="0" />
<polygon points="559.20,176.60 563.90,171.90 568.60,176.60 563.90,181.30" fill="#2f75b0" stroke="none" stroke-width="0" />
<polygon points="563.43,175.70 568.13,171.00 572.83,175.70 568.13,180.40" fill="#2f75b0" stroke="none" stroke-width="0" />
<polygon points="567.67,172.90 572.37,168.20 577.07,172.90 572.37,177.60" fill="#2f75b0" stroke="none" stroke-width="0" />
<polygon points="571.91,167.30 576.61,162.60 581.31,167.30 576.61,172.00" fill="#2f75b0" stroke="none" stroke-width="0" />
<polygon points="576.14,150.70 580.84,146.00 585.54,150.70 580.84,155.40" fill="#2f75b0" stroke="none" stroke-width="0" />
<polygon points="580.38,125.70 585.08,121.00 589.78,125.70 585.08,130.40" fill="#2f75b0" stroke="none" stroke-width="0" />
<polygon points="584.61,92.90 589.31,88.20 594.01,92.90 589.31,97.60" fill="#2f75b0" stroke="none" stroke-width="0" />
<polygon points="588.85,68.60 593.55,63.90 598.25,68.60 593.55,73.30" fill="#2f75b0" stroke="none" stroke-width="0" />
<polygon points="593.09,50.00 597.79,45.30 602.49,50.00 597.79,54.70" fill="#2f75b0" stroke="none" stroke-width="0" />
<polygon points="597.32,92.60 602.02,87.90 606.72,92.60 602.02,97.30" fill="#2f75b0" stroke="none" stroke-width="0" />
<polygon points="601.56,123.20 606.26,118.50 610.96,123.20 606.26,127.90" fill="#2f75b0" stroke="none" stroke-width="0" />
<polygon points="605.79,143.60 610.49,138.90 615.19,143.60 610.49,148.30" fill="#2f75b0" stroke="none" stroke-width="0" />
<polygon points="610.03,171.40 614.73,166.70 619.43,171.40 614.73,176.10" fill="#2f75b0" stroke="none" stroke-width="0" />
<polygon points="614.27,177.20 618.97,172.50 623.67,177.20 618.97,181.90" fill="#2f75b0" stroke="none" stroke-width="0" />
<polygon points="521.17,176.60 525.77,172.00 530.37,176.60 525.77,181.20" fill="#548235" stroke="none" stroke-width="0" />
<polygon points="546.59,176.60 551.19,172.00 555.79,176.60 551.19,181.20" fill="#548235" stroke="none" stroke-width="0" />
<polygon points="664.00,149.00 668.90,149.00 668.90,56.00 671.90,56.00 666.40,49.40 660.70,56.00 664.00,56.00" fill="url(#gc)" stroke="none" stroke-width="1" />
<text x="636.20" y="67.00" font-size="9.6" font-weight="normal" text-anchor="middle" fill="#2e75b6" stroke="#2e75b6" stroke-width="0.06" font-family='"Liberation Sans", sans-serif' >&gt;120×</text>
<text x="636.50" y="79.40" font-size="9.6" font-weight="normal" text-anchor="middle" fill="#2e75b6" stroke="#2e75b6" stroke-width="0.06" font-family='"Liberation Sans", sans-serif' >amplified</text>
<text x="636.50" y="90.10" font-size="9.6" font-weight="normal" text-anchor="middle" fill="#2e75b6" stroke="#2e75b6" stroke-width="0.06" font-family='"Liberation Sans", sans-serif' >signal ratio</text>
<text x="4.10" y="252.20" font-size="13.4" font-weight="bold" text-anchor="start" fill="#000" stroke="#000" stroke-width="0.18" font-family='"Liberation Sans", sans-serif' >d</text>
<text x="229.00" y="252.20" font-size="13.4" font-weight="bold" text-anchor="start" fill="#000" stroke="#000" stroke-width="0.18" font-family='"Liberation Sans", sans-serif' >e</text>
<rect x="0.9" y="266.6" width="231.4" height="19.9" fill="#fff" stroke="#3a3a3a" stroke-width="1.1"/>
<text x="116.60" y="280.40" font-size="9.6" font-weight="normal" text-anchor="middle" fill="#000" stroke="#000" stroke-width="0.18" font-family='"Liberation Sans", sans-serif' >V<tspan font-size="6.5" baseline-shift="-2.3">TH</tspan>-MC begin</text>
<rect x="1.0" y="303.4" width="231.3" height="32.2" fill="#f2d3d6" stroke="#c9505a" stroke-width="1.1"/>
<text x="116.60" y="317.20" font-size="9.6" font-weight="normal" text-anchor="middle" fill="#000" stroke="#000" stroke-width="0.18" font-family='"Liberation Sans", sans-serif' >Coarse-tuning: Search optimal memristor set</text>
<text x="116.60" y="328.70" font-size="9.6" font-weight="normal" text-anchor="middle" fill="#000" stroke="#000" stroke-width="0.18" font-family='"Liberation Sans", sans-serif' >condition with incremental I<tspan font-size="6.5" baseline-shift="-2.3">C</tspan></text>
<rect x="1.7" y="341.8" width="230.5" height="134.9" fill="none" stroke="#3a3a3a" stroke-width="1.1"/>
<text x="117.50" y="357.90" font-size="9.6" font-weight="normal" text-anchor="middle" fill="#000" stroke="#000" stroke-width="0.18" font-family='"Liberation Sans", sans-serif' >Fine-tuning: Compensate V<tspan font-size="6.5" baseline-shift="-2.3">TH</tspan> mismatch</text>
<text x="117.10" y="369.20" font-size="9.6" font-weight="normal" text-anchor="middle" fill="#000" stroke="#000" stroke-width="0.18" font-family='"Liberation Sans", sans-serif' >using memristor C2C variations</text>
<rect x="60.7" y="382.8" width="111.3" height="20" fill="#fff" stroke="#3a3a3a" stroke-width="1.1"/>
<text x="116.40" y="396.30" font-size="9.6" font-weight="normal" text-anchor="middle" fill="#000" stroke="#000" stroke-width="0.18" font-family='"Liberation Sans", sans-serif' >Memristor R/S</text>
<polygon points="116.00,418.80 215.80,443.30 116.00,468.00 18.60,443.30" fill="#d2e2f2" stroke="#3a7ec0" stroke-width="0.9" />
<text x="117.10" y="445.60" font-size="9.6" font-weight="normal" text-anchor="middle" fill="#000" stroke="#000" stroke-width="0.18" font-family='"Liberation Sans", sans-serif' >ΔI/I<tspan font-size="6.5" baseline-shift="-2.3">TARGET</tspan> &lt; 10%?</text>
<rect x="1.7" y="495.6" width="230.5" height="19.3" fill="#fff" stroke="#3a3a3a" stroke-width="1.1"/>
<text x="116.60" y="508.70" font-size="9.6" font-weight="normal" text-anchor="middle" fill="#000" stroke="#000" stroke-width="0.18" font-family='"Liberation Sans", sans-serif' >Finish</text>
<text x="28.20" y="419.40" font-size="9.6" font-weight="normal" text-anchor="start" fill="#000" stroke="#000" stroke-width="0.18" font-family='"Liberation Sans", sans-serif' >N</text>
<text x="123.50" y="489.50" font-size="9.6" font-weight="normal" text-anchor="start" fill="#000" stroke="#000" stroke-width="0.18" font-family='"Liberation Sans", sans-serif' >Y</text>
<line x1="116.20" y1="286.50" x2="116.20" y2="298.50" stroke="#111" stroke-width="1.2" />
<polygon points="113.60,298.00 118.80,298.00 116.20,303.00" fill="#111" stroke="none" stroke-width="1" />
<line x1="116.20" y1="335.60" x2="116.20" y2="344.50" stroke="#111" stroke-width="1.2" />
<polygon points="113.60,344.00 118.80,344.00 116.20,349.00" fill="#111" stroke="none" stroke-width="1" />
<line x1="116.20" y1="371.80" x2="116.20" y2="377.90" stroke="#111" stroke-width="1.2" />
<polygon points="113.60,377.40 118.80,377.40 116.20,382.40" fill="#111" stroke="none" stroke-width="1" />
<line x1="116.20" y1="402.80" x2="116.20" y2="414.10" stroke="#111" stroke-width="1.2" />
<polygon points="113.60,413.60 118.80,413.60 116.20,418.60" fill="#111" stroke="none" stroke-width="1" />
<line x1="116.20" y1="468.00" x2="116.20" y2="490.30" stroke="#111" stroke-width="1.2" />
<polygon points="113.60,489.80 118.80,489.80 116.20,494.80" fill="#111" stroke="none" stroke-width="1" />
<polyline points="18.60,443.30 18.60,392.60 56.00,392.60" stroke="#111" stroke-width="1.2" fill="none" stroke-linejoin="round" />
<polygon points="55.50,390.00 55.50,395.20 60.60,392.60" fill="#111" stroke="none" stroke-width="1" />
<line x1="303.50" y1="254.30" x2="319.00" y2="254.30" stroke="#2f75b0" stroke-width="1.6" />
<text x="322.00" y="258.20" font-size="9.6" font-weight="normal" text-anchor="start" fill="#000" stroke="#000" stroke-width="0.18" font-family='"Liberation Sans", sans-serif' >LRS</text>
<line x1="367.00" y1="254.30" x2="382.50" y2="254.30" stroke="#c9504f" stroke-width="1.6" />
<text x="385.10" y="258.20" font-size="9.6" font-weight="normal" text-anchor="start" fill="#000" stroke="#000" stroke-width="0.18" font-family='"Liberation Sans", sans-serif' >HRS</text>
<rect x="276.0" y="351.5" width="179.2" height="24.40" fill="#e4e4e4"/>
<rect x="276.0" y="466.5" width="176.39999999999998" height="25.80" fill="#e4e4e4"/>
<polyline points="276.50,352.50 278.00,347.00 281.00,342.00 285.00,341.00 300.00,341.50 315.00,340.80 323.00,340.50" stroke="#2f75b0" stroke-width="1.6" fill="none" stroke-linejoin="round" />
<polygon points="318.00,343.20 318.47,343.07 319.10,342.93 319.85,342.76 320.68,342.56 321.56,342.30 322.45,341.97 323.31,341.54 324.10,341.00 324.84,340.33 325.55,339.53 326.25,338.64 326.96,337.67 327.67,336.65 328.41,335.62 329.18,334.59 330.00,333.60 330.87,332.62 331.78,331.61 332.73,330.59 333.69,329.56 334.68,328.53 335.66,327.51 336.64,326.49 337.60,325.50 338.55,324.52 339.50,323.53 340.45,322.56 341.39,321.59 342.34,320.63 343.29,319.70 344.25,318.78 345.20,317.90 346.16,317.05 347.12,316.22 348.08,315.42 349.05,314.63 350.02,313.86 350.98,313.10 351.94,312.35 352.90,311.60 353.85,310.86 354.81,310.12 355.76,309.40 356.71,308.69 357.65,307.98 358.60,307.28 359.55,306.59 360.50,305.90 361.41,305.24 362.28,304.61 363.12,304.00 363.97,303.39 364.86,302.76 365.83,302.10 366.90,301.38 368.10,300.60 369.45,299.72 370.93,298.75 372.51,297.72 374.16,296.66 375.86,295.60 377.59,294.57 379.31,293.59 381.00,292.70 382.68,291.89 384.38,291.13 386.10,290.40 387.84,289.72 389.58,289.06 391.32,288.43 393.06,287.81 394.80,287.20 396.53,286.60 398.27,286.03 400.01,285.47 401.74,284.93 403.48,284.42 405.22,283.92 406.96,283.45 408.70,283.00 410.44,282.58 412.18,282.19 413.92,281.82 415.66,281.47 417.39,281.14 419.13,280.82 420.87,280.51 422.60,280.20 424.30,279.90 425.94,279.61 427.56,279.34 429.19,279.07 430.86,278.81 432.60,278.55 434.44,278.28 436.40,278.00 438.64,277.69 441.19,277.36 443.91,277.01 446.66,276.66 449.31,276.33 451.70,276.04 453.72,275.79 455.20,275.60 455.20,279.40 453.72,279.57 451.70,279.78 449.31,280.04 446.66,280.32 443.91,280.63 441.19,280.96 438.64,281.28 436.40,281.60 434.44,281.91 432.60,282.23 430.86,282.56 429.19,282.89 427.56,283.24 425.94,283.61 424.30,283.99 422.60,284.40 420.87,284.83 419.13,285.27 417.39,285.74 415.66,286.22 413.92,286.72 412.18,287.23 410.44,287.76 408.70,288.30 406.96,288.85 405.22,289.40 403.48,289.97 401.74,290.55 400.01,291.16 398.27,291.80 396.53,292.48 394.80,293.20 393.04,293.98 391.23,294.81 389.41,295.68 387.59,296.59 385.82,297.51 384.11,298.45 382.49,299.38 381.00,300.30 379.64,301.21 378.40,302.13 377.25,303.05 376.17,303.98 375.13,304.92 374.10,305.87 373.07,306.83 372.00,307.80 370.93,308.78 369.89,309.76 368.87,310.75 367.85,311.75 366.82,312.77 365.76,313.81 364.66,314.89 363.50,316.00 362.27,317.16 360.96,318.37 359.62,319.62 358.24,320.89 356.86,322.17 355.50,323.44 354.17,324.69 352.90,325.90 351.67,327.09 350.45,328.28 349.26,329.46 348.08,330.63 346.93,331.78 345.82,332.89 344.74,333.97 343.70,335.00 342.71,336.00 341.77,337.00 340.86,337.96 339.99,338.89 339.13,339.77 338.29,340.59 337.45,341.34 336.60,342.00 335.77,342.57 334.99,343.07 334.24,343.49 333.48,343.86 332.70,344.16 331.88,344.42 330.98,344.63 330.00,344.80 328.84,344.91 327.50,344.94 326.06,344.90 324.59,344.83 323.17,344.73 321.88,344.63 320.79,344.54 320.00,344.50" fill="#2f75b0" stroke="none" stroke-width="1" />
<polyline points="276.00,341.82 280.98,341.75 285.96,341.31 290.93,341.58 295.91,341.45 300.89,341.87 305.87,341.75 310.84,341.67 315.82,341.85 320.80,341.46 325.78,341.44 330.76,341.41 335.73,341.08 340.71,341.24 345.69,341.95 350.67,341.59 355.64,341.52 360.62,342.05 365.60,341.77 370.58,340.98 375.56,342.30 380.53,341.85 385.51,341.63 390.49,341.31 395.47,341.08 400.44,341.36 405.42,341.98 410.40,341.98 415.38,342.07 420.36,341.11 425.33,341.58 430.31,342.15 435.29,341.03 440.27,341.47 445.24,341.11 450.22,341.73 455.20,341.99" stroke="#c9504f" stroke-width="1.05" fill="none" stroke-linejoin="round" />
<polyline points="276.00,343.81 280.98,342.86 285.96,343.69 290.93,343.25 295.91,343.22 300.89,342.70 305.87,343.30 310.84,342.25 315.82,343.22 320.80,342.29 325.78,342.92 330.76,343.03 335.73,344.15 340.71,343.57 345.69,343.08 350.67,343.54 355.64,343.77 360.62,343.82 365.60,342.95 370.58,342.64 375.56,342.89 380.53,344.17 385.51,343.15 390.49,342.65 395.47,344.18 400.44,343.01 405.42,343.26 410.40,343.34 415.38,342.60 420.36,343.52 425.33,343.47 430.31,342.30 435.29,342.79 440.27,342.49 445.24,343.33 450.22,343.31 455.20,343.14" stroke="#c9504f" stroke-width="1.05" fill="none" stroke-linejoin="round" />
<polyline points="276.00,344.54 280.98,345.22 285.96,345.59 290.93,345.27 295.91,345.05 300.89,344.98 305.87,345.53 310.84,344.77 315.82,345.03 320.80,345.51 325.78,344.88 330.76,345.14 335.73,345.16 340.71,345.19 345.69,345.05 350.67,344.86 355.64,344.41 360.62,345.19 365.60,345.95 370.58,345.40 375.56,344.67 380.53,345.23 385.51,344.85 390.49,345.38 395.47,345.34 400.44,345.92 405.42,345.58 410.40,344.63 415.38,345.12 420.36,345.29 425.33,345.07 430.31,345.40 435.29,345.18 440.27,344.77 445.24,345.33 450.22,344.02 455.20,345.92" stroke="#c9504f" stroke-width="1.05" fill="none" stroke-linejoin="round" />
<polyline points="276.00,344.66 280.98,344.57 285.96,345.78 290.93,344.56 295.91,343.97 300.89,344.67 305.87,343.72 310.84,344.42 315.82,344.91 320.80,344.96 325.78,344.61 330.76,344.78 335.73,344.30 340.71,344.43 345.69,344.71 350.67,343.83 355.64,344.88 360.62,344.44 365.60,344.40 370.58,344.33 375.56,344.77 380.53,344.89 385.51,344.12 390.49,343.40 395.47,344.14 400.44,345.05 405.42,344.73 410.40,344.85 415.38,344.38 420.36,343.86 425.33,343.86 430.31,345.02 435.29,343.94 440.27,344.83 445.24,343.57 450.22,344.24 455.20,344.41" stroke="#2f75b0" stroke-width="1.3" fill="none" stroke-linejoin="round" />
<polyline points="276.00,348.69 280.98,347.48 285.96,347.99 290.93,348.04 295.91,346.92 300.89,346.71 305.87,347.01 310.84,347.41 315.82,347.12 320.80,348.11 325.78,347.50 330.76,347.06 335.73,347.78 340.71,347.33 345.69,347.12 350.67,347.88 355.64,347.90 360.62,347.29 365.60,348.00 370.58,348.00 375.56,347.18 380.53,347.92 385.51,347.64 390.49,347.59 395.47,346.78 400.44,348.33 405.42,348.35 410.40,347.84 415.38,347.71 420.36,348.06 425.33,347.64 430.31,347.97 435.29,347.01 440.27,348.21 445.24,348.17 450.22,347.65 455.20,347.37" stroke="#2f75b0" stroke-width="1.3" fill="none" stroke-linejoin="round" />
<polyline points="276.00,345.44 280.98,346.38 285.96,346.12 290.93,345.23 295.91,346.29 300.89,346.74 305.87,347.08 310.84,346.67 315.82,347.30 320.80,346.19 325.78,346.45 330.76,346.93 335.73,347.29 340.71,346.81 345.69,346.81 350.67,346.75 355.64,347.03 360.62,346.28 365.60,345.86 370.58,347.01 375.56,346.79 380.53,346.95 385.51,346.31 390.49,346.74 395.47,346.76 400.44,346.39 405.42,347.31 410.40,347.05 415.38,346.88 420.36,347.44 425.33,346.82 430.31,347.26 435.29,346.63 440.27,345.47 445.24,345.88 450.22,346.66 455.20,345.67" stroke="#c9504f" stroke-width="1.05" fill="none" stroke-linejoin="round" />
<polyline points="276.00,347.82 280.98,347.79 282.99,347.84 284.06,358.36 285.14,348.55 285.96,348.07 290.93,347.47 295.91,348.35 300.89,347.58 305.87,348.05 310.84,347.38 315.82,347.79 320.80,348.03 325.78,347.97 330.76,348.23 335.73,348.37 340.71,347.96 345.69,348.58 350.67,347.74 355.64,347.08 360.62,348.46 365.60,348.43 370.58,347.42 375.56,348.35 380.53,348.09 385.51,348.19 390.49,347.75 395.47,349.42 400.44,347.19 405.42,348.08 410.40,348.34 415.38,348.48 420.36,348.33 425.33,348.20 430.31,347.22 435.29,347.47 440.27,347.84 445.24,348.12 450.22,348.16 455.20,348.36" stroke="#c9504f" stroke-width="1.05" fill="none" stroke-linejoin="round" />
<polyline points="276.00,349.43 280.98,349.13 285.96,349.92 290.93,349.94 295.91,349.30 300.89,348.97 305.87,349.89 310.84,349.87 315.82,350.31 320.80,349.96 325.78,349.93 330.76,350.48 335.73,349.01 340.71,349.88 345.69,349.14 350.67,349.76 355.64,349.74 360.62,348.63 365.60,349.70 370.58,349.41 375.56,349.28 380.53,349.25 385.51,349.31 390.49,349.90 395.47,348.76 400.44,349.94 405.42,349.67 410.40,349.13 415.38,350.23 420.36,350.03 425.33,349.74 430.31,349.82 435.29,349.76 440.27,349.93 445.24,350.23 450.22,349.65 455.20,349.16" stroke="#c9504f" stroke-width="1.05" fill="none" stroke-linejoin="round" />
<polyline points="276.00,351.39 280.98,350.65 285.96,350.60 290.93,350.17 295.91,350.70 300.89,350.18 305.87,351.39 310.84,350.42 315.82,350.87 320.80,351.01 325.78,350.74 330.76,350.94 335.73,350.74 340.71,350.99 345.69,350.49 350.67,351.34 355.64,351.43 360.62,351.28 365.60,350.42 370.58,350.97 375.56,350.74 380.53,350.97 385.51,350.95 390.49,350.27 395.47,351.54 400.44,351.44 405.42,350.88 410.40,351.26 415.38,351.11 420.36,350.48 425.33,350.74 430.31,349.96 435.29,350.48 440.27,351.28 445.24,350.95 450.22,350.90 455.20,350.60" stroke="#c9504f" stroke-width="1.05" fill="none" stroke-linejoin="round" />
<polyline points="276.00,352.51 280.98,352.56 285.96,352.46 290.93,352.78 295.91,352.34 300.89,352.22 305.87,352.75 310.84,351.85 315.82,352.15 320.80,351.86 325.78,352.06 330.76,351.52 335.73,352.29 340.71,353.12 345.69,351.66 350.67,352.65 355.64,352.17 360.62,352.36 365.60,352.44 370.58,351.97 375.56,352.26 380.53,351.80 385.51,353.14 390.49,352.31 395.47,352.44 400.44,351.87 405.42,352.16 410.40,352.35 415.38,352.15 420.36,352.25 425.33,352.10 430.31,353.02 435.29,352.52 440.27,352.45 445.24,352.28 450.22,352.51 455.20,351.77" stroke="#c9504f" stroke-width="1.05" fill="none" stroke-linejoin="round" />
<polyline points="276.00,345.23 278.99,345.88 281.97,345.63 284.96,345.74 287.95,346.41 290.93,345.54 293.92,346.09 296.91,346.23 299.89,345.44 302.88,345.48 305.87,345.69 308.85,345.32 311.84,345.74 314.83,345.72 317.81,345.65 320.80,345.46 323.79,345.25 326.77,345.96 329.76,345.41 332.75,345.24 335.73,345.43 338.72,345.38 341.71,345.69 344.69,345.69 347.68,345.56 350.67,345.85 353.65,345.51 356.64,344.85 359.63,345.53 361.12,345.70 361.12,344.18 362.61,345.17 365.60,340.76 368.59,340.93 371.57,335.11 374.56,337.23 377.55,332.84 380.53,330.95 383.52,327.11 386.51,325.12 389.49,319.32 392.48,318.70 395.47,313.34 398.45,311.68 401.44,306.23 404.43,306.72 407.41,301.32 410.40,301.68 413.39,297.57 416.37,300.90 419.36,295.21 422.35,295.97 425.33,291.59 428.32,293.40 431.31,288.51 434.29,291.57 437.28,287.23 440.27,288.76 443.25,287.07 446.24,286.39 449.23,282.89 452.21,285.16 455.20,281.58" stroke="#c9504f" stroke-width="1.3" fill="none" stroke-linejoin="round" />
<polyline points="276.00,346.18 278.99,346.72 281.97,346.55 284.96,346.73 287.95,346.75 290.93,346.52 293.92,346.44 296.91,346.80 299.89,347.70 302.88,346.25 305.87,346.09 308.85,347.25 311.84,346.93 314.83,346.49 317.81,346.63 320.80,346.93 323.79,346.67 326.77,346.29 329.76,346.41 332.75,346.35 335.73,345.82 338.72,346.64 341.71,346.84 344.69,346.84 347.68,346.66 350.67,346.48 353.65,346.66 356.64,346.06 359.63,346.39 362.61,346.80 365.60,346.47 368.59,347.10 371.57,346.74 374.56,347.01 375.46,346.59 375.46,334.09 377.55,331.48 380.53,331.16 383.52,324.25 386.51,325.20 389.49,319.76 392.48,320.97 395.47,313.86 398.45,315.63 401.44,311.09 404.43,312.30 407.41,307.73 410.40,309.16 413.39,304.35 416.37,304.08 416.37,304.87 419.36,301.62 422.35,301.40 425.33,297.66 428.32,299.15 431.31,294.58 434.29,296.03 437.28,292.05 440.27,294.60 443.25,290.70 446.24,292.80 449.23,289.25 452.21,291.00 455.20,287.57" stroke="#c9504f" stroke-width="1.3" fill="none" stroke-linejoin="round" />
<polyline points="276.00,347.42 278.99,346.51 281.97,347.68 284.96,347.36 287.95,347.74 290.93,346.57 293.92,347.62 296.91,347.36 299.89,347.52 302.88,347.35 305.87,347.61 308.85,347.60 311.84,347.51 314.83,346.86 317.81,347.35 320.80,347.41 323.79,347.61 326.77,347.42 329.76,346.88 332.75,347.58 335.73,347.36 338.72,347.13 341.71,346.85 344.69,346.61 347.68,347.48 350.67,346.97 353.65,347.80 356.64,347.30 359.63,347.77 362.61,347.67 365.60,346.99 368.59,347.02 371.57,347.49 374.56,347.01 377.55,347.50 380.53,347.15 383.52,347.70 386.51,347.43 389.49,347.69 392.48,346.98 395.47,347.44 397.66,347.37 397.66,340.07 398.45,340.52 401.44,334.35 404.43,333.45 407.41,327.88 410.40,328.08 413.39,322.13 416.37,322.25 419.36,318.66 422.35,320.01 425.33,315.95 428.32,316.03 431.31,311.52 434.29,312.76 434.29,314.20 437.28,309.63 440.27,313.07 443.25,308.84 446.24,308.91 446.24,310.70 449.23,306.50 452.21,308.00 455.20,304.97" stroke="#c9504f" stroke-width="1.3" fill="none" stroke-linejoin="round" />
<polyline points="276.00,346.15 278.99,346.54 281.97,346.12 284.96,346.52 287.95,346.00 290.93,346.67 293.92,346.52 296.91,346.47 299.89,346.21 302.88,346.52 305.87,346.69 308.85,346.61 311.84,346.94 314.83,346.11 317.81,346.27 320.80,346.37 323.79,346.42 326.77,346.69 329.76,346.63 332.75,346.25 335.73,346.75 338.72,346.75 341.71,346.02 344.69,346.02 347.68,346.41 350.67,346.34 353.65,346.45 356.64,346.06 359.63,346.64 362.61,346.48 365.60,346.35 368.59,346.06 371.57,346.58 374.56,346.43 377.55,346.65 380.53,346.71 383.52,346.71 386.51,346.48 389.49,346.23 392.48,346.72 395.47,346.69 398.45,346.63 401.44,346.39 404.43,346.29 404.95,346.50 404.95,326.58 407.41,323.65 410.40,324.66 413.39,320.91 416.37,321.18 419.36,316.80 422.35,317.62 425.33,314.08 428.32,314.75 431.31,312.53 431.31,310.94 434.29,312.28 437.28,309.61 440.27,310.54 443.25,308.64 443.25,307.62 446.24,308.77 449.23,304.39 452.21,306.96 455.20,304.78 455.20,303.66" stroke="#c9504f" stroke-width="1.3" fill="none" stroke-linejoin="round" />
<polyline points="276.00,347.44 278.99,347.19 281.97,347.06 284.96,347.10 287.95,346.87 290.93,347.37 293.92,347.07 296.91,347.20 299.89,347.16 302.88,347.06 305.87,347.25 308.85,347.10 311.84,347.17 314.83,346.85 317.81,347.19 320.80,347.07 323.79,346.37 326.77,346.97 329.76,347.00 332.75,346.83 335.73,347.47 338.72,346.94 341.71,346.93 344.69,347.03 347.68,346.86 350.67,346.92 353.65,346.80 356.64,347.36 359.63,347.03 362.61,347.33 365.60,346.78 368.59,347.12 371.57,347.56 374.56,347.13 377.55,347.47 380.53,346.86 383.52,347.26 386.51,347.83 389.49,347.28 392.48,346.85 395.47,347.06 398.45,347.35 401.44,346.96 404.43,346.99 405.62,347.16 405.62,343.63 407.41,339.94 410.40,339.30 413.39,332.31 416.37,329.84 419.36,323.54 422.35,321.03 425.33,315.48 428.32,312.89 431.31,306.49 434.29,306.53 437.28,299.06 440.27,297.42 440.27,291.81 443.25,287.52 443.25,285.84 446.24,287.26 449.23,282.97 452.21,285.25 455.20,281.88" stroke="#c9504f" stroke-width="1.3" fill="none" stroke-linejoin="round" />
<polyline points="276.00,350.00 278.99,349.08 281.97,349.28 284.96,349.47 287.95,349.60 290.93,348.70 293.92,349.64 296.91,349.24 299.89,349.81 302.88,349.13 305.87,348.97 308.85,349.47 311.84,348.92 314.83,349.40 317.81,348.88 320.80,348.98 323.79,349.41 326.77,349.27 329.76,349.24 332.75,349.33 335.73,349.63 338.72,349.48 341.71,349.10 344.69,349.53 347.68,349.27 350.67,349.08 353.65,349.20 356.64,348.95 359.63,349.64 362.61,348.92 365.60,349.31 368.59,349.04 371.57,349.31 374.56,348.45 377.55,349.00 380.53,349.82 383.52,349.55 386.51,349.53 389.49,348.96 392.48,348.87 395.47,349.41 398.45,349.32 401.44,349.25 404.43,349.20 407.41,349.45 408.38,349.32 408.38,343.24 410.40,344.41 413.39,338.37 416.37,337.87 416.37,328.95 419.36,323.58 422.35,322.02 425.33,316.97 428.32,316.18 431.31,307.82 434.29,308.07 437.28,302.57 440.27,301.04 440.27,293.36 443.25,288.80 446.24,291.26 449.23,285.80 452.21,289.01 455.20,285.30" stroke="#c9504f" stroke-width="1.3" fill="none" stroke-linejoin="round" />
<polyline points="276.00,343.42 278.99,343.43 281.97,343.16 284.96,343.66 287.95,343.82 290.93,342.93 293.92,343.51 296.91,343.40 299.89,343.19 302.88,343.43 305.87,343.65 308.85,343.35 311.84,343.57 314.83,343.13 317.81,343.42 320.80,343.37 323.79,343.06 326.77,343.75 329.76,343.74 332.75,343.07 335.73,342.91 338.72,343.26 341.71,343.50 344.69,342.92 347.68,343.14 350.67,342.98 353.65,343.83 356.64,343.33 359.63,343.60 362.61,343.62 365.60,343.12 368.59,343.07 371.57,343.43 374.56,343.37 377.55,342.88 380.53,343.09 383.52,343.33 386.51,343.14 389.49,343.26 392.48,343.67 395.47,343.45 398.45,343.21 401.44,343.11 404.43,343.65 407.41,343.53 410.40,343.47 411.03,343.29 411.03,340.36 413.39,338.45 416.37,338.18 419.36,332.19 422.35,332.10 422.35,326.71 425.33,324.57 425.33,317.56 428.32,317.79 431.31,312.16 434.29,313.74 437.28,311.29 437.28,303.69 440.27,303.62 443.25,298.17 446.24,297.71 449.23,292.59 452.21,293.06 455.20,288.25 455.20,284.71" stroke="#c9504f" stroke-width="1.3" fill="none" stroke-linejoin="round" />
<polyline points="276.00,349.42 278.99,348.91 281.97,349.32 284.96,349.26 287.95,348.83 290.93,349.35 293.92,349.68 296.91,349.40 299.89,349.29 302.88,349.48 305.87,348.67 308.85,349.27 311.84,349.18 314.83,349.37 317.81,349.07 320.80,349.23 323.79,349.28 326.77,349.19 329.76,349.04 332.75,350.05 335.73,349.05 338.72,349.46 341.71,349.25 344.69,349.05 347.68,349.23 350.67,349.52 353.65,348.74 356.64,348.65 359.63,349.16 362.61,349.21 365.60,349.13 368.59,349.17 371.57,348.84 374.56,349.45 377.55,348.93 380.53,348.97 383.52,349.10 386.51,348.85 389.49,349.23 392.48,349.30 395.47,349.15 398.45,349.31 401.44,348.43 404.43,349.31 407.41,349.51 410.40,348.89 413.17,349.17 413.17,329.84 413.39,328.08 416.37,324.53 416.37,321.18 419.36,315.13 422.35,313.79 425.33,307.49 428.32,307.08 431.31,300.12 434.29,299.17 437.28,292.60 440.27,290.89 440.27,291.93 443.25,289.93 443.25,289.63 446.24,289.90 449.23,287.88 452.21,288.52 455.20,285.02" stroke="#c9504f" stroke-width="1.3" fill="none" stroke-linejoin="round" />
<polyline points="276.00,345.36 278.99,344.95 281.97,345.56 284.96,345.10 287.95,344.94 290.93,345.21 293.92,345.37 296.91,345.26 299.89,345.63 302.88,345.30 305.87,344.92 308.85,344.90 311.84,345.17 314.83,345.19 317.81,345.12 320.80,345.47 323.79,345.58 326.77,345.17 329.76,345.13 332.75,345.26 335.73,345.24 338.72,345.16 341.71,345.37 344.69,344.97 347.68,344.90 350.67,345.12 353.65,345.58 356.64,345.02 359.63,344.90 362.61,345.29 365.60,345.63 368.59,345.25 371.57,344.47 374.56,345.44 377.55,344.90 380.53,345.18 383.52,344.80 386.51,344.55 389.49,344.86 392.48,345.00 395.47,345.19 398.45,345.53 401.44,345.69 404.43,344.71 407.41,345.28 410.40,344.79 413.39,345.08 413.93,345.16 413.93,335.60 416.37,334.43 419.36,329.36 419.36,320.46 422.35,317.44 425.33,311.50 428.32,309.89 431.31,304.58 434.29,304.12 437.28,300.61 440.27,297.86 443.25,293.13 446.24,291.59 449.23,284.85 452.21,285.44 455.20,283.23 455.20,282.34" stroke="#c9504f" stroke-width="1.3" fill="none" stroke-linejoin="round" />
<polyline points="276.00,346.75 278.99,346.42 281.97,346.63 284.96,346.73 287.95,346.94 290.93,346.81 293.92,347.05 296.91,346.82 299.89,346.80 302.88,346.80 305.87,347.18 308.85,346.54 311.84,347.01 314.83,346.70 317.81,346.64 320.80,346.88 323.79,346.08 326.77,346.78 329.76,346.69 332.75,346.89 335.73,346.72 338.72,347.20 341.71,346.62 344.69,346.93 347.68,346.97 350.67,346.59 353.65,346.54 356.64,346.94 359.63,347.12 362.61,347.42 365.60,347.12 368.59,346.67 371.57,346.63 374.56,347.19 377.55,346.80 380.53,346.50 383.52,347.04 386.51,346.98 389.49,347.09 392.48,346.69 395.47,347.38 398.45,346.86 401.44,346.68 404.43,346.83 407.41,346.53 410.40,346.63 413.39,346.97 414.56,346.82 414.56,330.89 416.37,330.90 419.36,328.27 419.36,315.89 422.35,313.29 425.33,308.86 428.32,309.19 431.31,304.47 434.29,306.28 437.28,302.62 440.27,303.22 440.27,303.84 443.25,300.74 446.24,302.20 449.23,299.24 452.21,300.47 455.20,297.60" stroke="#c9504f" stroke-width="1.3" fill="none" stroke-linejoin="round" />
<polyline points="276.00,343.93 278.99,343.18 281.97,343.84 284.96,343.70 287.95,342.99 290.93,343.44 293.92,344.00 296.91,343.60 299.89,343.33 302.88,343.87 305.87,343.92 308.85,343.67 311.84,343.68 314.83,343.91 317.81,344.18 320.80,343.58 323.79,343.80 326.77,343.77 329.76,343.54 332.75,343.22 335.73,343.69 338.72,343.81 341.71,343.51 344.69,343.68 347.68,343.61 350.67,343.56 353.65,344.07 356.64,343.53 359.63,343.56 362.61,343.82 365.60,343.72 368.59,343.81 371.57,343.88 374.56,343.79 377.55,343.74 380.53,343.59 383.52,343.70 386.51,343.83 389.49,343.65 392.48,343.95 395.47,344.04 398.45,343.91 401.44,344.29 404.43,343.63 407.41,343.46 410.40,343.79 413.39,343.99 415.16,343.67 415.16,339.11 416.37,337.07 419.36,329.97 422.35,327.60 422.35,314.56 425.33,308.19 428.32,305.86 431.31,299.65 434.29,299.78 437.28,296.95 440.27,297.58 443.25,294.66 446.24,297.01 449.23,292.23 452.21,294.74 455.20,291.30" stroke="#c9504f" stroke-width="1.3" fill="none" stroke-linejoin="round" />
<polyline points="276.00,344.48 278.99,344.81 281.97,344.19 284.96,344.71 287.95,344.69 290.93,344.26 293.92,344.73 296.91,344.51 299.89,344.57 302.88,345.28 305.87,344.57 308.85,345.14 311.84,344.72 314.83,344.24 317.81,344.69 320.80,344.73 323.79,345.20 326.77,344.56 329.76,345.14 332.75,344.90 335.73,345.36 338.72,344.82 341.71,344.82 344.69,344.09 347.68,345.39 350.67,344.74 353.65,344.67 356.64,344.85 359.63,344.66 362.61,344.87 365.60,344.68 368.59,344.77 371.57,344.75 374.56,345.01 377.55,344.66 380.53,344.82 383.52,345.08 386.51,344.40 389.49,344.12 392.48,344.41 395.47,345.06 398.45,344.71 401.44,344.47 404.43,345.07 407.41,344.68 410.40,344.44 413.39,344.72 415.50,344.78 415.50,325.69 416.37,327.09 419.36,322.81 422.35,323.24 425.33,318.19 428.32,318.98 431.31,313.55 434.29,313.81 437.28,307.63 440.27,306.05 440.27,300.88 443.25,297.27 443.25,297.18 446.24,298.19 449.23,295.34 449.23,294.62 452.21,296.10 455.20,292.72" stroke="#c9504f" stroke-width="1.3" fill="none" stroke-linejoin="round" />
<polyline points="276.00,348.60 278.99,348.77 281.97,348.55 284.96,348.76 287.95,348.91 290.93,349.01 293.92,348.85 296.91,349.01 299.89,349.16 302.88,348.39 305.87,348.53 308.85,349.03 311.84,348.66 314.83,348.47 317.81,349.22 320.80,348.97 323.79,348.38 326.77,348.54 329.76,348.55 332.75,348.42 335.73,348.59 338.72,348.43 341.71,349.02 344.69,348.45 347.68,348.71 350.67,349.13 353.65,348.74 356.64,348.66 359.63,348.60 362.61,348.91 365.60,348.77 368.59,348.91 371.57,349.01 374.56,348.84 377.55,348.67 380.53,349.03 383.52,348.14 386.51,348.84 389.49,348.67 392.48,349.22 395.47,348.20 398.45,348.57 401.44,348.66 404.43,348.69 407.41,348.36 410.40,348.94 413.39,348.77 416.37,348.63 417.86,348.80 417.86,331.58 419.36,329.08 422.35,326.88 425.33,320.12 428.32,320.45 431.31,312.77 434.29,312.08 437.28,306.51 440.27,305.65 443.25,298.77 446.24,296.58 449.23,292.31 449.23,286.03 452.21,286.65 452.21,287.94 455.20,283.60" stroke="#c9504f" stroke-width="1.3" fill="none" stroke-linejoin="round" />
<polyline points="276.00,346.19 278.99,345.91 281.97,345.34 284.96,345.24 287.95,345.32 290.93,346.09 293.92,345.34 296.91,345.05 299.89,345.98 302.88,346.19 305.87,345.34 308.85,345.56 311.84,345.73 314.83,345.73 317.81,346.22 320.80,345.96 323.79,345.66 326.77,345.58 329.76,345.45 332.75,345.44 335.73,345.85 338.72,345.74 341.71,345.30 344.69,346.11 347.68,345.56 350.67,345.96 353.65,345.65 356.64,345.17 359.63,345.60 362.61,345.85 365.60,345.92 368.59,346.13 371.57,345.72 374.56,346.38 377.55,345.74 380.53,345.68 383.52,345.98 386.51,345.95 389.49,345.37 392.48,345.35 395.47,345.12 398.45,345.38 401.44,345.62 404.43,345.78 407.41,345.36 410.40,345.52 413.39,345.66 416.37,345.19 419.36,345.76 422.35,345.66 422.67,345.72 422.67,343.46 425.33,338.78 428.32,335.49 428.32,330.69 431.31,324.58 434.29,323.45 437.28,318.51 440.27,317.15 443.25,311.45 446.24,309.36 449.23,304.07 452.21,303.55 452.21,297.19 455.20,290.91" stroke="#c9504f" stroke-width="1.3" fill="none" stroke-linejoin="round" />
<polyline points="276.00,350.00 278.99,349.37 281.97,349.44 284.96,349.83 287.95,349.56 290.93,349.15 293.92,349.60 296.91,349.03 299.89,349.09 302.88,349.85 305.87,349.47 308.85,349.26 311.84,349.02 314.83,349.40 317.81,349.42 320.80,349.39 323.79,349.49 326.77,349.21 329.76,349.30 332.75,348.99 335.73,349.64 338.72,349.55 341.71,349.45 344.69,349.63 347.68,349.29 350.67,349.49 353.65,349.82 356.64,349.68 359.63,349.46 362.61,349.77 365.60,349.12 368.59,349.73 371.57,349.47 374.56,349.54 377.55,349.29 380.53,349.11 383.52,349.55 386.51,349.46 389.49,349.44 392.48,349.70 395.47,349.79 398.45,349.36 401.44,349.28 404.43,349.64 407.41,349.81 410.40,349.57 413.39,349.57 416.37,349.64 419.36,349.48 422.35,349.08 422.91,349.42 422.91,334.15 425.33,329.99 428.32,327.59 428.32,313.96 431.31,308.03 431.31,299.57 434.29,297.25 437.28,291.03 440.27,289.19 440.27,290.84 443.25,287.55 446.24,288.17 449.23,284.36 452.21,286.21 455.20,283.31" stroke="#c9504f" stroke-width="1.3" fill="none" stroke-linejoin="round" />
<polyline points="276.00,345.66 278.99,345.44 281.97,345.59 284.96,345.70 287.95,345.66 290.93,344.90 293.92,345.19 296.91,345.33 299.89,345.03 302.88,345.86 305.87,345.45 308.85,345.34 311.84,345.72 314.83,345.07 317.81,345.50 320.80,346.24 323.79,345.76 326.77,345.59 329.76,344.95 332.75,345.25 335.73,345.41 338.72,345.30 341.71,345.81 344.69,345.90 347.68,345.51 350.67,345.27 353.65,345.51 356.64,345.80 359.63,345.34 362.61,345.62 365.60,346.11 368.59,345.19 371.57,345.92 374.56,345.08 377.55,345.25 380.53,344.75 383.52,345.76 386.51,345.37 389.49,345.65 392.48,345.33 395.47,345.75 398.45,345.59 401.44,345.75 404.43,345.06 407.41,345.74 410.40,345.03 413.39,345.44 416.37,345.82 419.36,345.36 422.35,345.47 425.33,345.41 428.32,345.12 428.60,345.38 428.60,332.42 431.31,328.68 434.29,326.06 437.28,320.82 440.27,321.15 443.25,316.13 446.24,313.80 449.23,307.71 452.21,307.17 455.20,305.15 455.20,303.92" stroke="#c9504f" stroke-width="1.3" fill="none" stroke-linejoin="round" />
<polyline points="276.00,344.42 278.99,345.18 281.97,344.75 284.96,344.89 287.95,343.91 290.93,343.96 293.92,344.41 296.91,344.61 299.89,344.58 302.88,344.64 305.87,343.67 308.85,344.69 311.84,345.07 314.83,344.57 317.81,344.62 320.80,344.71 323.79,344.27 326.77,344.03 329.76,344.95 332.75,344.05 335.73,343.86 338.72,344.83 341.71,344.67 344.69,344.31 347.68,344.43 350.67,344.92 353.65,344.63 356.64,344.86 359.63,343.90 362.61,344.84 365.60,344.55 368.59,344.55 371.57,344.81 374.56,344.71 377.55,344.52 380.53,344.51 383.52,343.55 386.51,344.86 389.49,344.84 392.48,344.80 395.47,344.99 398.45,344.88 401.44,344.63 404.43,344.54 407.41,344.53 410.40,344.36 413.39,344.37 416.37,344.13 419.36,344.56 422.35,344.70 425.33,344.40 428.32,344.72 430.39,344.59 430.39,338.27 431.31,334.37 434.29,333.91 437.28,327.21 440.27,324.56 443.25,317.74 446.24,314.94 449.23,310.72 452.21,309.11 455.20,301.38" stroke="#c9504f" stroke-width="1.3" fill="none" stroke-linejoin="round" />
<polyline points="276.00,348.86 278.99,349.22 281.97,348.79 284.96,349.09 287.95,348.54 290.93,349.32 293.92,348.60 296.91,349.25 299.89,348.83 302.88,348.95 305.87,349.43 308.85,349.61 311.84,349.09 314.83,349.13 317.81,349.22 320.80,348.83 323.79,348.95 326.77,348.86 329.76,349.35 332.75,349.08 335.73,349.09 338.72,348.74 341.71,348.67 344.69,349.19 347.68,349.05 350.67,349.76 353.65,348.44 356.64,348.93 359.63,348.89 362.61,348.94 365.60,349.09 368.59,349.56 371.57,349.32 374.56,349.28 377.55,349.11 380.53,349.37 383.52,348.98 386.51,348.85 389.49,348.99 392.48,349.00 395.47,348.34 398.45,349.28 401.44,349.24 404.43,348.80 407.41,349.15 410.40,348.53 413.39,349.24 416.37,349.05 419.36,348.53 422.35,349.52 425.33,348.73 428.32,348.96 431.31,348.98 431.48,349.06 431.48,339.32 434.29,335.96 437.28,331.25 440.27,331.17 443.25,326.26 446.24,325.67 449.23,319.95 452.21,319.05 455.20,315.48 455.20,304.76" stroke="#c9504f" stroke-width="1.3" fill="none" stroke-linejoin="round" />
<polyline points="276.00,347.58 278.99,347.72 281.97,347.33 284.96,347.53 287.95,347.90 290.93,347.73 293.92,347.67 296.91,346.90 299.89,347.89 302.88,347.82 305.87,347.15 308.85,347.08 311.84,347.62 314.83,347.11 317.81,347.54 320.80,347.79 323.79,347.55 326.77,347.25 329.76,347.08 332.75,347.58 335.73,347.90 338.72,347.45 341.71,347.65 344.69,347.72 347.68,347.39 350.67,347.45 353.65,347.88 356.64,347.72 359.63,347.10 362.61,347.58 365.60,346.98 368.59,348.24 371.57,347.84 374.56,347.51 377.55,347.81 380.53,347.47 383.52,347.49 386.51,347.92 389.49,346.97 392.48,346.99 395.47,348.02 398.45,347.60 401.44,347.91 404.43,347.64 407.41,347.65 410.40,347.59 413.39,347.18 416.37,347.16 419.36,347.61 422.35,347.39 425.33,347.32 428.32,347.98 431.31,347.49 431.78,347.52 431.78,342.98 434.29,342.22 437.28,337.35 437.28,325.49 440.27,325.46 443.25,317.58 446.24,316.73 449.23,309.83 452.21,307.63 455.20,301.86" stroke="#c9504f" stroke-width="1.3" fill="none" stroke-linejoin="round" />
<polyline points="276.00,345.64 278.99,345.59 281.97,344.93 284.96,345.49 287.95,345.59 290.93,345.18 293.92,345.54 296.91,345.59 299.89,344.88 302.88,345.43 305.87,345.58 308.85,345.24 311.84,345.34 314.83,345.88 317.81,345.43 320.80,345.15 323.79,345.43 326.77,345.16 329.76,345.64 332.75,345.04 335.73,345.40 338.72,345.52 341.71,345.67 344.69,345.02 347.68,345.31 350.67,345.41 353.65,345.19 356.64,345.34 359.63,345.40 362.61,345.19 365.60,345.43 368.59,345.02 371.57,344.60 374.56,345.80 377.55,345.29 380.53,345.42 383.52,345.11 386.51,345.88 389.49,344.65 392.48,345.06 395.47,344.67 398.45,344.95 401.44,345.60 404.43,345.34 407.41,344.80 410.40,344.95 413.39,345.52 416.37,345.21 419.36,344.88 422.35,344.90 425.33,345.40 428.32,345.17 431.31,345.13 432.94,345.29 432.94,329.35 434.29,329.15 437.28,325.22 437.28,313.39 440.27,313.63 443.25,308.45 446.24,308.10 446.24,304.05 449.23,298.61 452.21,297.11 455.20,291.20" stroke="#c9504f" stroke-width="1.3" fill="none" stroke-linejoin="round" />
<polyline points="276.00,349.23 278.99,348.91 281.97,348.88 284.96,349.33 287.95,348.97 290.93,348.33 293.92,349.01 296.91,349.22 299.89,349.03 302.88,348.73 305.87,349.46 308.85,348.97 311.84,349.29 314.83,349.42 317.81,349.36 320.80,349.31 323.79,349.13 326.77,348.82 329.76,349.78 332.75,348.91 335.73,348.77 338.72,348.66 341.71,349.21 344.69,348.92 347.68,348.99 350.67,349.03 353.65,348.91 356.64,349.23 359.63,348.76 362.61,349.91 365.60,349.26 368.59,349.38 371.57,349.36 374.56,349.12 377.55,349.19 380.53,348.92 383.52,348.96 386.51,348.80 389.49,349.44 392.48,349.23 395.47,349.20 398.45,349.02 401.44,348.95 404.43,348.98 407.41,348.86 410.40,349.03 413.39,349.21 416.37,348.67 419.36,349.26 422.35,348.60 425.33,348.53 428.32,349.43 431.31,349.10 433.95,349.19 433.95,336.88 434.29,336.24 437.28,330.20 440.27,330.59 443.25,324.75 446.24,323.47 449.23,316.24 452.21,316.33 455.20,312.60" stroke="#c9504f" stroke-width="1.3" fill="none" stroke-linejoin="round" />
<polyline points="276.00,347.27 278.99,346.73 281.97,346.15 284.96,347.30 287.95,346.52 290.93,345.56 293.92,346.58 296.91,346.49 299.89,346.60 302.88,346.33 305.87,346.45 308.85,346.39 311.84,346.92 314.83,346.58 317.81,346.43 320.80,346.57 323.79,346.41 326.77,346.26 329.76,346.18 332.75,346.51 335.73,346.40 338.72,346.69 341.71,346.68 344.69,346.35 347.68,346.96 350.67,346.22 353.65,346.92 356.64,346.60 359.63,346.81 362.61,346.84 365.60,346.44 368.59,347.10 371.57,346.15 374.56,347.08 377.55,346.36 380.53,346.66 383.52,346.67 386.51,346.48 389.49,346.19 392.48,346.52 395.47,346.79 398.45,346.57 401.44,346.28 404.43,346.88 407.41,346.49 410.40,346.20 413.39,346.76 416.37,346.62 419.36,346.30 422.35,346.75 425.33,346.58 428.32,346.66 431.31,346.50 434.04,346.57 434.04,330.03 434.29,329.85 437.28,325.05 440.27,323.75 443.25,316.78 446.24,315.98 449.23,310.87 452.21,311.16 455.20,304.96" stroke="#c9504f" stroke-width="1.3" fill="none" stroke-linejoin="round" />
<polyline points="276.00,345.97 278.99,346.20 281.97,346.22 284.96,346.33 287.95,346.45 290.93,346.10 293.92,346.11 296.91,345.93 299.89,346.04 302.88,346.14 305.87,345.81 308.85,345.73 311.84,346.26 314.83,345.97 317.81,345.98 320.80,346.97 323.79,345.99 326.77,345.66 329.76,346.97 332.75,345.47 335.73,346.65 338.72,346.49 341.71,346.20 344.69,346.26 347.68,346.56 350.67,345.95 353.65,346.04 356.64,346.01 359.63,345.43 362.61,346.16 365.60,346.18 368.59,346.21 371.57,346.40 374.56,346.99 377.55,346.02 380.53,346.59 383.52,346.52 386.51,345.96 389.49,345.80 392.48,346.28 395.47,345.97 398.45,346.04 401.44,345.66 404.43,346.26 407.41,345.96 410.40,346.19 413.39,345.75 416.37,345.83 419.36,346.42 422.35,345.97 425.33,346.06 428.32,345.60 431.31,346.02 434.29,346.60 436.14,346.12 436.14,334.76 437.28,333.33 440.27,332.84 443.25,327.00 446.24,327.14 449.23,321.36 452.21,321.28 455.20,314.47" stroke="#c9504f" stroke-width="1.3" fill="none" stroke-linejoin="round" />
<polyline points="276.00,344.84 278.99,344.70 281.97,344.61 284.96,344.23 287.95,344.73 290.93,344.91 293.92,345.29 296.91,344.68 299.89,344.17 302.88,344.75 305.87,344.58 308.85,345.28 311.84,344.67 314.83,344.58 317.81,344.73 320.80,344.68 323.79,344.89 326.77,344.82 329.76,344.17 332.75,344.88 335.73,344.13 338.72,344.94 341.71,344.14 344.69,344.56 347.68,344.33 350.67,344.58 353.65,344.37 356.64,343.80 359.63,345.22 362.61,344.70 365.60,344.39 368.59,344.07 371.57,344.91 374.56,344.50 377.55,344.25 380.53,344.67 383.52,344.50 386.51,344.43 389.49,344.21 392.48,344.38 395.47,344.39 398.45,344.71 401.44,344.66 404.43,343.84 407.41,344.90 410.40,344.62 413.39,344.72 416.37,344.49 419.36,344.78 422.35,344.29 425.33,344.74 428.32,344.69 431.31,344.98 434.29,344.66 436.91,344.51 436.91,335.15 437.28,335.34 440.27,333.13 443.25,327.23 446.24,325.09 449.23,318.72 452.21,318.32 455.20,313.68" stroke="#c9504f" stroke-width="1.3" fill="none" stroke-linejoin="round" />
<polyline points="276.00,345.45 278.99,344.97 281.97,344.95 284.96,345.12 287.95,344.86 290.93,345.13 293.92,344.62 296.91,344.56 299.89,344.84 302.88,345.18 305.87,345.32 308.85,344.62 311.84,345.04 314.83,344.63 317.81,344.79 320.80,344.96 323.79,344.35 326.77,345.17 329.76,344.72 332.75,344.95 335.73,344.84 338.72,344.64 341.71,344.62 344.69,344.34 347.68,345.48 350.67,345.20 353.65,345.31 356.64,344.93 359.63,344.80 362.61,344.99 365.60,344.86 368.59,344.35 371.57,345.40 374.56,345.23 377.55,344.42 380.53,344.96 383.52,345.34 386.51,345.27 389.49,345.16 392.48,344.99 395.47,345.26 398.45,344.33 401.44,345.02 404.43,344.96 407.41,345.56 410.40,345.70 413.39,345.20 416.37,345.20 419.36,345.36 422.35,344.83 425.33,345.21 428.32,345.18 431.31,344.42 434.29,345.31 437.28,344.85 439.74,344.95 439.74,326.98 440.27,328.63 443.25,322.18 446.24,321.46 449.23,315.33 452.21,313.90 455.20,307.52" stroke="#c9504f" stroke-width="1.3" fill="none" stroke-linejoin="round" />
<polyline points="276.00,344.71 278.99,344.64 281.97,344.29 284.96,344.50 287.95,344.55 290.93,344.16 293.92,344.73 296.91,345.04 299.89,344.78 302.88,344.31 305.87,344.92 308.85,344.88 311.84,344.47 314.83,343.86 317.81,344.74 320.80,344.28 323.79,344.14 326.77,344.78 329.76,344.82 332.75,344.69 335.73,344.83 338.72,344.61 341.71,344.99 344.69,344.69 347.68,344.66 350.67,343.98 353.65,345.04 356.64,344.59 359.63,344.86 362.61,344.63 365.60,344.75 368.59,344.87 371.57,344.69 374.56,344.85 377.55,344.56 380.53,344.31 383.52,344.46 386.51,344.59 389.49,344.42 392.48,344.68 395.47,344.47 398.45,343.79 401.44,344.49 404.43,344.00 407.41,344.38 410.40,344.74 413.39,344.53 416.37,344.93 419.36,344.45 422.35,344.25 425.33,344.47 428.32,344.35 431.31,344.59 434.29,344.75 437.28,345.18 440.27,344.47 442.45,344.60 442.45,321.41 443.25,319.88 443.25,311.64 446.24,311.09 449.23,306.20 452.21,307.17 455.20,301.32" stroke="#c9504f" stroke-width="1.3" fill="none" stroke-linejoin="round" />
<polyline points="276.00,346.60 278.99,346.70 281.97,346.41 284.96,346.19 287.95,346.56 290.93,346.48 293.92,346.98 296.91,345.89 299.89,346.78 302.88,346.50 305.87,346.94 308.85,346.36 311.84,346.80 314.83,346.49 317.81,346.70 320.80,346.60 323.79,346.62 326.77,346.78 329.76,346.56 332.75,346.76 335.73,346.62 338.72,346.64 341.71,346.84 344.69,346.45 347.68,346.33 350.67,346.47 353.65,346.99 356.64,346.36 359.63,346.26 362.61,347.03 365.60,346.21 368.59,347.23 371.57,346.43 374.56,346.32 377.55,346.14 380.53,346.07 383.52,346.39 386.51,346.24 389.49,346.05 392.48,345.97 395.47,346.43 398.45,346.27 401.44,346.88 404.43,346.75 407.41,346.10 410.40,346.39 413.39,346.87 416.37,346.56 419.36,347.03 422.35,346.54 425.33,346.22 428.32,347.03 431.31,346.53 434.29,346.41 437.28,346.55 440.27,346.47 443.17,346.49 443.17,330.40 443.25,330.07 446.24,330.36 449.23,325.26 452.21,325.86 455.20,319.97" stroke="#c9504f" stroke-width="1.3" fill="none" stroke-linejoin="round" />
<polyline points="276.00,343.65 278.99,344.15 281.97,343.65 284.96,344.12 287.95,344.23 290.93,343.86 293.92,344.12 296.91,343.91 299.89,344.04 302.88,344.32 305.87,344.01 308.85,344.13 311.84,344.59 314.83,344.02 317.81,344.29 320.80,344.50 323.79,343.91 326.77,344.15 329.76,344.51 332.75,344.08 335.73,343.92 338.72,344.92 341.71,344.53 344.69,344.54 347.68,344.67 350.67,344.03 353.65,344.47 356.64,344.77 359.63,344.22 362.61,344.25 365.60,344.50 368.59,344.01 371.57,343.74 374.56,344.26 377.55,343.96 380.53,344.20 383.52,343.73 386.51,344.63 389.49,344.77 392.48,344.49 395.47,344.38 398.45,344.07 401.44,344.31 404.43,344.96 407.41,344.67 410.40,344.28 413.39,344.04 416.37,344.14 419.36,344.15 422.35,344.23 425.33,344.51 428.32,343.95 431.31,344.72 434.29,343.94 437.28,344.15 440.27,344.22 443.25,343.96 443.67,344.20 443.67,342.01 446.24,340.46 449.23,335.16 449.23,327.19 452.21,326.63 455.20,320.63" stroke="#c9504f" stroke-width="1.3" fill="none" stroke-linejoin="round" />
<polyline points="276.00,346.29 278.99,346.16 281.97,346.15 284.96,346.00 287.95,346.53 290.93,345.74 293.92,346.32 296.91,345.84 299.89,345.82 302.88,345.64 305.87,346.32 308.85,345.91 311.84,346.02 314.83,346.32 317.81,345.68 320.80,345.86 323.79,346.07 326.77,346.16 329.76,346.42 332.75,345.54 335.73,346.37 338.72,346.08 341.71,345.89 344.69,345.88 347.68,346.64 350.67,346.41 353.65,346.48 356.64,346.75 359.63,346.16 362.61,346.00 365.60,346.22 368.59,345.82 371.57,345.94 374.56,346.02 377.55,345.51 380.53,346.41 383.52,345.98 386.51,345.97 389.49,345.88 392.48,346.08 395.47,346.13 398.45,345.86 401.44,346.04 404.43,345.99 407.41,346.57 410.40,345.94 413.39,345.74 416.37,345.91 419.36,345.70 422.35,345.67 425.33,345.55 428.32,346.41 431.31,346.23 434.29,346.10 437.28,346.09 440.27,346.18 443.25,346.02 443.99,346.06 443.99,324.13 446.24,323.15 449.23,317.95 452.21,316.40 455.20,312.30" stroke="#c9504f" stroke-width="1.3" fill="none" stroke-linejoin="round" />
<polyline points="276.00,348.71 278.99,348.52 281.97,348.38 284.96,348.38 287.95,348.51 290.93,348.83 293.92,348.67 296.91,348.15 299.89,348.17 302.88,348.69 305.87,348.42 308.85,349.09 311.84,348.27 314.83,348.63 317.81,349.27 320.80,348.88 323.79,348.69 326.77,348.72 329.76,348.62 332.75,348.85 335.73,349.15 338.72,348.12 341.71,348.91 344.69,348.95 347.68,349.05 350.67,348.72 353.65,348.24 356.64,348.24 359.63,348.00 362.61,348.80 365.60,348.63 368.59,348.19 371.57,348.66 374.56,348.48 377.55,348.04 380.53,348.91 383.52,348.92 386.51,348.42 389.49,348.80 392.48,348.68 395.47,348.22 398.45,348.48 401.44,348.16 404.43,348.82 407.41,348.59 410.40,348.49 413.39,348.49 416.37,349.22 419.36,348.93 422.35,348.44 425.33,349.18 428.32,349.12 431.31,348.84 434.29,348.76 437.28,348.36 440.27,348.42 443.25,348.75 444.44,348.61 444.44,332.83 446.24,332.23 449.23,325.40 452.21,325.14 455.20,317.98" stroke="#c9504f" stroke-width="1.3" fill="none" stroke-linejoin="round" />
<polyline points="276.00,345.93 278.99,346.57 281.97,345.89 284.96,345.56 287.95,346.21 290.93,345.96 293.92,345.81 296.91,346.15 299.89,345.89 302.88,346.25 305.87,345.47 308.85,345.32 311.84,345.86 314.83,345.83 317.81,345.67 320.80,345.89 323.79,345.77 326.77,345.91 329.76,345.73 332.75,346.03 335.73,345.99 338.72,346.15 341.71,345.91 344.69,345.94 347.68,345.40 350.67,345.42 353.65,346.17 356.64,345.88 359.63,345.53 362.61,345.82 365.60,346.02 368.59,345.77 371.57,346.39 374.56,345.76 377.55,346.16 380.53,345.62 383.52,345.80 386.51,345.58 389.49,345.28 392.48,345.76 395.47,345.58 398.45,346.12 401.44,346.25 404.43,345.89 407.41,345.95 410.40,346.34 413.39,346.03 416.37,346.26 419.36,346.34 422.35,345.66 425.33,345.83 428.32,345.69 431.31,345.93 434.29,345.74 437.28,345.77 440.27,346.14 443.25,345.95 444.97,345.94 444.97,323.27 446.24,323.60 449.23,316.83 452.21,315.69 455.20,311.27" stroke="#c9504f" stroke-width="1.3" fill="none" stroke-linejoin="round" />
<polyline points="276.00,344.21 278.99,343.55 281.97,343.99 284.96,343.86 287.95,344.17 290.93,343.59 293.92,343.86 296.91,343.78 299.89,344.38 302.88,343.60 305.87,344.05 308.85,344.36 311.84,343.17 314.83,343.14 317.81,343.72 320.80,344.34 323.79,343.72 326.77,343.44 329.76,343.95 332.75,343.41 335.73,343.38 338.72,343.51 341.71,343.49 344.69,344.02 347.68,343.84 350.67,344.04 353.65,344.14 356.64,343.44 359.63,343.78 362.61,343.43 365.60,343.77 368.59,343.99 371.57,343.28 374.56,343.33 377.55,343.75 380.53,343.53 383.52,344.24 386.51,343.86 389.49,343.30 392.48,343.64 395.47,343.72 398.45,343.25 401.44,343.26 404.43,343.98 407.41,343.82 410.40,343.60 413.39,344.01 416.37,343.51 419.36,343.48 422.35,343.66 425.33,344.13 428.32,343.74 431.31,343.69 434.29,343.57 437.28,343.69 440.27,343.79 443.25,343.16 446.24,343.26 448.47,343.69 448.47,333.43 449.23,331.35 452.21,331.89 455.20,326.47" stroke="#c9504f" stroke-width="1.3" fill="none" stroke-linejoin="round" />
<line x1="276.00" y1="346.10" x2="455.20" y2="346.10" stroke="#333" stroke-width="0.8" stroke-dasharray="1.5,1.2"/>
<polyline points="276.50,459.50 300.00,459.20 320.00,458.60 327.30,458.80" stroke="#2f75b0" stroke-width="1.6" fill="none" stroke-linejoin="round" />
<polyline points="276.50,471.00 290.00,471.50 305.00,470.50 312.00,470.00" stroke="#2f75b0" stroke-width="1.6" fill="none" stroke-linejoin="round" />
<polyline points="324.00,459.20 324.23,459.14 324.52,459.09 324.85,459.04 325.24,458.96 325.68,458.84 326.19,458.67 326.76,458.43 327.40,458.10 328.11,457.70 328.88,457.26 329.72,456.76 330.62,456.20 331.58,455.57 332.60,454.87 333.67,454.08 334.80,453.20 336.02,452.20 337.34,451.06 338.74,449.83 340.19,448.52 341.66,447.19 343.12,445.85 344.54,444.54 345.90,443.30 347.21,442.09 348.52,440.87 349.81,439.66 351.08,438.46 352.32,437.28 353.53,436.14 354.69,435.04 355.80,434.00 356.83,433.04 357.77,432.15 358.65,431.32 359.50,430.52 360.35,429.73 361.23,428.93 362.17,428.09 363.20,427.20 364.30,426.25 365.43,425.27 366.60,424.25 367.81,423.23 369.06,422.19 370.36,421.17 371.70,420.17 373.10,419.20 374.58,418.25 376.14,417.29 377.77,416.35 379.44,415.42 381.13,414.51 382.80,413.63 384.43,412.79 386.00,412.00 387.44,411.27 388.75,410.61 389.99,410.00 391.24,409.41 392.55,408.83 394.01,408.23 395.67,407.59 397.60,406.90 399.87,406.12 402.45,405.27 405.25,404.38 408.18,403.47 411.16,402.58 414.09,401.73 416.90,400.96 419.50,400.30 421.91,399.75 424.23,399.27 426.48,398.87 428.66,398.51 430.78,398.19 432.88,397.90 434.94,397.60 437.00,397.30 439.13,396.99 441.36,396.68 443.61,396.39 445.79,396.11 447.85,395.86 449.68,395.64 451.23,395.45 452.40,395.30" stroke="#2f75b0" stroke-width="3.2" fill="none" stroke-linejoin="round" />
<polyline points="275.80,464.14 280.71,463.71 285.61,463.81 290.52,464.54 295.42,463.94 300.33,464.50 305.23,463.25 310.14,464.36 315.04,465.02 319.95,464.33 324.86,464.09 329.76,463.73 334.67,463.15 339.57,464.64 344.48,463.85 349.38,464.70 354.29,463.71 359.19,463.93 364.10,464.02 369.01,464.07 373.91,464.14 378.82,463.73 383.72,463.75 388.63,464.15 393.53,463.71 398.44,463.80 403.34,463.51 408.25,464.30 413.16,463.52 418.06,464.57 422.97,463.06 427.87,465.10 432.78,464.12 437.68,464.14 442.59,463.26 447.49,463.50 452.40,465.48" stroke="#c9504f" stroke-width="1.2" fill="none" stroke-linejoin="round" />
<polyline points="275.80,466.09 280.71,465.47 285.61,465.01 290.52,466.40 295.42,465.32 300.33,466.03 305.23,465.12 310.14,465.58 315.04,465.25 319.95,466.31 324.86,464.94 329.76,464.19 334.67,465.58 339.57,465.68 344.48,465.45 349.38,466.35 354.29,465.56 359.19,465.49 364.10,466.31 369.01,466.77 373.91,465.05 378.82,465.72 383.72,465.64 388.63,465.77 393.53,465.89 398.44,465.54 403.34,465.82 408.25,465.53 413.16,466.04 418.06,465.36 422.97,465.60 427.87,464.30 432.78,464.77 437.68,465.81 442.59,465.28 447.49,466.25 452.40,465.46" stroke="#c9504f" stroke-width="1.2" fill="none" stroke-linejoin="round" />
<polyline points="275.80,466.38 280.71,466.73 285.61,466.86 290.52,466.95 295.42,467.06 300.33,466.67 305.23,467.22 310.14,466.00 315.04,466.30 319.95,466.79 324.86,466.40 329.76,467.29 334.67,467.37 339.57,466.36 344.48,466.44 349.38,467.38 354.29,467.57 359.19,466.39 364.10,466.40 369.01,467.14 373.91,466.21 378.82,466.10 383.72,466.54 388.63,465.93 393.53,466.24 398.44,466.63 403.34,466.49 408.25,467.24 413.16,466.67 418.06,465.63 422.97,466.77 427.87,466.18 432.78,466.99 437.68,467.19 442.59,466.38 447.49,467.09 452.40,467.47" stroke="#c9504f" stroke-width="1.2" fill="none" stroke-linejoin="round" />
<polyline points="275.80,467.65 280.71,467.12 285.61,467.38 290.52,468.86 295.42,466.71 300.33,467.71 305.23,469.36 310.14,467.41 315.04,466.84 319.95,468.42 324.86,467.69 329.76,468.88 334.67,468.37 339.57,467.12 344.48,466.83 349.38,467.84 354.29,466.71 359.19,468.53 364.10,467.45 369.01,467.38 373.91,467.59 378.82,469.18 383.72,468.54 388.63,468.17 393.53,467.71 398.44,468.29 403.34,467.27 408.25,468.55 413.16,466.71 418.06,467.84 422.97,466.78 427.87,467.63 432.78,467.40 437.68,468.55 442.59,467.79 447.49,467.13 452.40,468.43" stroke="#c9504f" stroke-width="1.2" fill="none" stroke-linejoin="round" />
<polyline points="275.80,468.31 280.71,468.50 285.61,468.55 290.52,468.80 295.42,469.24 300.33,469.11 305.23,469.02 310.14,468.65 315.04,468.17 319.95,469.39 324.86,469.52 329.76,468.72 334.67,468.48 339.57,468.12 344.48,468.81 349.38,469.18 354.29,468.38 359.19,468.28 364.10,468.41 369.01,468.37 373.91,468.83 378.82,468.63 383.72,469.38 388.63,467.91 393.53,469.19 398.44,468.92 403.34,468.57 408.25,468.73 413.16,467.83 418.06,468.87 422.97,469.39 427.87,469.25 432.78,468.64 437.68,469.04 442.59,468.61 447.49,469.88 452.40,469.08" stroke="#c9504f" stroke-width="1.2" fill="none" stroke-linejoin="round" />
<polyline points="275.80,468.36 280.71,469.42 285.61,470.02 286.04,470.90 287.10,480.70 288.16,469.39 290.52,470.50 295.42,469.95 300.33,470.06 305.23,470.47 310.14,469.39 315.04,469.77 319.95,469.44 324.86,469.87 329.76,469.74 334.67,470.54 339.57,469.94 344.48,469.91 349.38,469.49 354.29,469.64 359.19,470.71 364.10,470.13 369.01,469.20 373.91,470.46 378.82,470.01 383.72,469.25 388.63,469.89 393.53,470.20 398.44,470.66 403.34,470.58 408.25,469.40 413.16,470.55 418.06,470.20 422.97,469.64 427.87,468.57 432.78,470.02 437.68,470.24 442.59,469.58 447.49,469.84 452.40,470.30" stroke="#c9504f" stroke-width="1.2" fill="none" stroke-linejoin="round" />
<polyline points="275.80,471.37 280.71,470.55 285.61,471.23 290.52,470.54 295.42,470.72 300.33,470.73 305.23,470.02 310.14,469.95 315.04,470.94 319.95,470.57 324.86,470.05 329.76,470.91 334.67,471.13 339.57,470.66 344.48,470.01 349.38,471.11 354.29,470.49 359.19,471.03 364.10,470.54 369.01,471.41 373.91,472.50 378.82,470.93 383.72,470.59 388.63,471.04 393.53,470.29 398.44,470.63 403.34,470.50 408.25,471.67 413.16,471.28 418.06,471.87 422.97,471.42 427.87,470.67 432.78,471.18 437.68,471.08 442.59,470.73 447.49,471.68 452.40,470.73" stroke="#c9504f" stroke-width="1.2" fill="none" stroke-linejoin="round" />
<polyline points="275.80,472.15 280.71,472.23 285.61,471.69 290.52,472.66 295.42,472.64 300.33,471.28 305.23,472.29 310.14,472.63 315.04,471.31 319.95,471.67 324.86,471.67 329.49,473.23 329.76,471.40 330.55,474.18 331.61,472.36 334.67,472.39 339.57,471.90 344.48,471.87 349.38,471.42 354.29,471.87 359.19,471.53 359.51,471.98 360.57,474.90 361.63,472.75 364.10,471.60 369.01,472.77 373.91,471.95 378.82,471.68 383.72,472.72 388.63,471.18 393.53,471.39 398.44,471.53 403.34,471.66 408.25,472.16 413.16,472.03 418.06,471.38 422.97,471.22 427.87,470.80 432.78,471.96 437.68,472.34 442.59,471.04 447.49,471.59 452.40,472.11" stroke="#c9504f" stroke-width="1.2" fill="none" stroke-linejoin="round" />
<polyline points="275.80,466.64 280.71,467.82 285.61,466.33 290.52,467.15 295.42,467.77 300.33,467.32 305.23,466.93 310.14,466.58 315.04,466.84 319.95,467.99 324.86,468.26 329.76,467.76 334.67,466.89 339.57,467.60 344.48,467.53 349.38,468.85 354.29,466.66 359.19,467.08 364.10,466.73 369.01,466.54 373.91,466.34 378.82,466.73 383.72,467.54 388.63,467.34 393.53,467.80 398.44,466.75 403.34,466.86 408.25,467.09 413.16,465.59 418.06,466.74 422.97,466.82 427.87,466.88 432.78,466.28 437.68,468.30 442.59,467.31 447.49,464.44 452.40,467.05" stroke="#c9504f" stroke-width="1.2" fill="none" stroke-linejoin="round" />
<polyline points="275.80,468.60 280.71,470.07 285.61,467.98 290.52,467.55 295.42,469.72 300.33,469.79 305.23,467.60 310.14,469.47 315.04,468.98 319.95,468.74 324.86,469.54 329.76,468.67 334.67,468.41 339.57,468.18 344.48,468.21 349.38,467.15 354.29,469.64 359.19,469.00 364.10,470.16 369.01,469.68 373.91,470.06 378.82,467.81 383.72,470.75 388.63,466.91 393.53,469.11 398.44,468.20 403.34,469.86 408.25,469.40 413.16,469.43 418.06,467.27 422.97,468.86 427.87,467.25 432.78,469.92 437.68,468.83 442.59,469.20 447.49,469.72 452.40,468.77" stroke="#c9504f" stroke-width="1.2" fill="none" stroke-linejoin="round" />
<polyline points="275.80,464.61 278.74,464.65 281.69,465.25 284.63,464.64 287.57,464.31 290.52,464.45 293.46,464.69 296.40,464.68 299.35,464.96 302.29,464.32 305.23,465.07 308.18,464.49 311.12,464.51 314.06,464.45 317.01,464.36 319.95,464.41 322.89,464.28 325.84,464.81 328.78,464.59 331.72,464.91 334.67,464.63 337.61,464.76 340.55,464.74 343.50,464.21 346.44,464.68 349.38,464.93 352.33,464.43 355.27,464.51 358.21,464.57 361.16,464.40 364.10,464.56 367.04,464.81 369.99,464.18 372.93,465.02 375.87,464.36 376.46,464.63 376.46,463.18 378.82,462.12 381.76,455.76 384.70,455.61 387.65,451.45 390.59,452.29 393.53,447.36 396.48,446.72 399.42,441.37 402.36,441.85 405.31,436.95 408.25,436.14 411.19,432.07 414.14,433.04 417.08,426.31 420.02,425.59 422.97,420.79 425.91,418.10 428.85,414.61 431.80,416.42 434.74,410.31 437.68,411.45 440.63,407.76 443.57,410.40 446.51,405.14 449.46,407.54 452.40,404.23" stroke="#c9504f" stroke-width="1.3" fill="none" stroke-linejoin="round" />
<polyline points="275.80,463.43 278.74,463.44 281.69,464.06 284.63,464.00 287.57,463.53 290.52,463.54 293.46,463.07 296.40,463.73 299.35,463.45 302.29,463.26 305.23,463.61 308.18,463.94 311.12,463.13 314.06,463.84 317.01,463.23 319.95,463.28 322.89,463.05 325.84,463.55 328.78,463.45 331.72,463.37 334.67,463.57 337.61,462.74 340.55,463.82 343.50,463.58 346.44,463.57 349.38,463.36 352.33,463.47 355.27,463.85 358.21,463.29 361.16,463.28 364.10,463.60 367.04,463.31 369.99,463.25 372.93,463.46 375.87,463.45 378.82,463.96 381.76,463.70 384.70,463.25 387.65,463.42 390.59,463.54 390.59,449.24 393.53,448.45 396.48,443.60 399.42,441.91 399.42,440.63 402.36,436.44 405.31,436.47 408.25,433.23 411.19,433.70 414.14,427.36 417.08,428.14 420.02,425.61 422.97,425.53 425.91,421.31 428.85,422.10 431.80,417.30 434.74,418.15 437.68,411.96 440.63,412.77 443.57,411.19 443.57,410.51 446.51,411.05 449.46,408.56 452.40,408.21" stroke="#c9504f" stroke-width="1.3" fill="none" stroke-linejoin="round" />
<polyline points="275.80,463.59 278.74,463.63 281.69,463.74 284.63,463.30 287.57,463.73 290.52,463.61 293.46,463.69 296.40,463.70 299.35,463.06 302.29,464.10 305.23,464.13 308.18,463.46 311.12,464.14 314.06,463.73 317.01,464.08 319.95,463.50 322.89,463.78 325.84,463.58 328.78,463.99 331.72,463.82 334.67,464.44 337.61,463.54 340.55,463.66 343.50,463.78 346.44,463.77 349.38,463.89 352.33,463.80 355.27,463.23 358.21,463.96 361.16,463.92 364.10,463.58 367.04,463.71 369.99,463.96 372.93,463.30 375.87,463.30 378.82,463.88 381.76,463.25 384.70,464.19 387.65,463.33 390.59,464.25 393.53,463.67 396.48,463.82 399.42,463.89 399.92,463.80 399.92,464.58 402.36,463.98 405.31,460.81 408.25,460.30 411.19,456.36 414.14,455.34 417.08,450.94 420.02,450.98 422.97,445.67 422.97,444.14 425.91,444.78 428.85,440.94 431.80,441.54 434.74,439.41 434.74,438.57 437.68,439.55 440.63,436.01 443.57,437.21 446.51,435.55 446.51,434.80 449.46,436.23 452.40,433.09" stroke="#c9504f" stroke-width="1.3" fill="none" stroke-linejoin="round" />
<polyline points="275.80,464.71 278.74,464.97 281.69,465.00 284.63,464.92 287.57,464.64 290.52,464.73 293.46,464.51 296.40,464.24 299.35,464.77 302.29,464.82 305.23,464.57 308.18,464.55 311.12,465.31 314.06,464.87 317.01,464.66 319.95,464.51 322.89,464.82 325.84,464.98 328.78,464.09 331.72,465.59 334.67,464.28 337.61,464.88 340.55,464.81 343.50,464.70 346.44,464.60 349.38,464.98 352.33,465.10 355.27,464.61 358.21,464.34 361.16,464.79 364.10,464.05 367.04,465.07 369.99,464.47 372.93,464.57 375.87,464.33 378.82,465.02 381.76,464.52 384.70,464.74 387.65,465.37 390.59,464.84 393.53,465.12 396.48,464.81 399.42,464.53 402.36,464.73 405.31,464.17 407.43,464.70 407.43,450.62 408.25,450.05 411.19,446.42 411.19,436.99 414.14,436.20 417.08,430.66 420.02,429.94 422.97,424.91 425.91,425.87 428.85,419.05 431.80,419.11 434.74,417.01 434.74,415.94 437.68,417.46 440.63,415.08 440.63,414.57 443.57,414.11 443.57,414.68 446.51,412.95 449.46,413.52 452.40,411.21 452.40,409.05" stroke="#c9504f" stroke-width="1.3" fill="none" stroke-linejoin="round" />
<polyline points="275.80,466.35 278.74,466.54 281.69,466.70 284.63,466.44 287.57,465.88 290.52,466.07 293.46,466.46 296.40,466.95 299.35,465.93 302.29,466.14 305.23,466.84 308.18,466.31 311.12,466.56 314.06,465.96 317.01,466.07 319.95,466.44 322.89,466.89 325.84,466.34 328.78,465.51 331.72,466.11 334.67,466.40 337.61,465.98 340.55,466.40 343.50,465.78 346.44,466.75 349.38,466.38 352.33,465.81 355.27,465.92 358.21,466.09 361.16,466.68 364.10,466.24 367.04,466.06 369.99,466.38 372.93,466.25 375.87,466.00 378.82,466.37 381.76,466.10 384.70,466.33 387.65,466.59 390.59,466.70 393.53,466.47 396.48,466.52 399.42,465.97 402.36,466.24 405.31,466.82 407.93,466.28 407.93,443.66 408.25,443.76 411.19,438.19 411.19,431.68 414.14,430.14 417.08,424.90 420.02,423.55 422.97,419.62 425.91,418.69 428.85,413.37 431.80,414.75 434.74,410.66 437.68,411.10 440.63,409.37 443.57,409.55 446.51,405.48 449.46,406.67 449.46,408.40 452.40,405.71 452.40,405.39" stroke="#c9504f" stroke-width="1.3" fill="none" stroke-linejoin="round" />
<polyline points="275.80,464.29 278.74,463.84 281.69,463.58 284.63,464.35 287.57,464.51 290.52,464.86 293.46,464.18 296.40,464.47 299.35,463.87 302.29,463.65 305.23,464.67 308.18,464.29 311.12,463.75 314.06,464.68 317.01,464.60 319.95,464.00 322.89,464.14 325.84,464.78 328.78,464.11 331.72,464.35 334.67,464.24 337.61,464.13 340.55,463.74 343.50,463.99 346.44,464.52 349.38,463.83 352.33,464.03 355.27,464.11 358.21,464.45 361.16,464.51 364.10,464.24 367.04,463.82 369.99,464.11 372.93,464.20 375.87,464.16 378.82,464.16 381.76,464.34 384.70,464.24 387.65,464.80 390.59,464.27 393.53,463.99 396.48,464.19 399.42,463.82 402.36,463.80 405.31,464.35 408.25,464.63 411.19,464.25 411.62,464.27 411.62,453.94 414.14,451.96 417.08,447.31 420.02,445.34 422.97,441.02 425.91,440.58 428.85,435.26 431.80,435.21 434.74,429.28 434.74,420.57 437.68,419.37 440.63,414.34 443.57,415.50 446.51,412.90 449.46,413.31 452.40,411.98 452.40,410.70" stroke="#c9504f" stroke-width="1.3" fill="none" stroke-linejoin="round" />
<polyline points="275.80,462.82 278.74,463.23 281.69,462.74 284.63,462.95 287.57,462.88 290.52,463.17 293.46,462.87 296.40,462.86 299.35,463.38 302.29,463.40 305.23,463.48 308.18,462.64 311.12,463.14 314.06,462.81 317.01,463.49 319.95,463.70 322.89,463.23 325.84,462.93 328.78,463.23 331.72,463.01 334.67,462.92 337.61,462.94 340.55,463.12 343.50,463.11 346.44,463.13 349.38,463.17 352.33,463.13 355.27,463.71 358.21,463.08 361.16,463.17 364.10,463.24 367.04,463.17 369.99,463.33 372.93,463.00 375.87,463.54 378.82,463.45 381.76,463.23 384.70,462.95 387.65,463.17 390.59,462.99 393.53,463.26 396.48,462.98 399.42,463.03 402.36,462.62 405.31,463.02 408.25,463.00 411.19,462.80 411.87,463.15 411.87,455.73 414.14,455.66 417.08,448.61 420.02,447.53 422.97,441.00 425.91,439.26 428.85,434.81 431.80,433.94 434.74,428.29 437.68,429.08 440.63,423.47 443.57,421.91 446.51,416.57 449.46,416.99 452.40,410.87" stroke="#c9504f" stroke-width="1.3" fill="none" stroke-linejoin="round" />
<polyline points="275.80,462.11 278.74,462.12 281.69,462.88 284.63,461.92 287.57,462.08 290.52,462.32 293.46,462.63 296.40,462.70 299.35,462.53 302.29,462.30 305.23,462.22 308.18,462.19 311.12,462.19 314.06,462.26 317.01,462.34 319.95,462.66 322.89,461.66 325.84,462.00 328.78,461.98 331.72,462.31 334.67,462.66 337.61,461.83 340.55,462.52 343.50,462.69 346.44,462.09 349.38,461.85 352.33,462.37 355.27,462.25 358.21,462.06 361.16,462.21 364.10,462.26 367.04,462.05 369.99,462.03 372.93,462.43 375.87,462.24 378.82,462.15 381.76,462.00 384.70,462.18 387.65,462.38 390.59,462.22 393.53,462.55 396.48,462.31 399.42,461.95 402.36,462.24 405.31,462.18 408.25,462.13 411.19,462.28 413.92,462.28 413.92,453.07 414.14,455.01 417.08,450.07 420.02,449.48 420.02,445.04 422.97,437.95 425.91,436.17 428.85,430.66 431.80,429.74 434.74,423.40 434.74,414.39 437.68,413.71 440.63,409.92 443.57,410.07 446.51,407.01 449.46,406.88 449.46,408.60 452.40,405.24" stroke="#c9504f" stroke-width="1.3" fill="none" stroke-linejoin="round" />
<polyline points="275.80,462.00 278.74,461.08 281.69,461.60 284.63,461.31 287.57,461.72 290.52,461.62 293.46,462.07 296.40,461.81 299.35,461.88 302.29,461.40 305.23,461.71 308.18,461.57 311.12,461.59 314.06,461.52 317.01,462.13 319.95,461.33 322.89,462.06 325.84,461.60 328.78,461.37 331.72,461.75 334.67,461.07 337.61,461.40 340.55,461.64 343.50,461.88 346.44,461.98 349.38,461.50 352.33,461.64 355.27,461.54 358.21,461.47 361.16,461.72 364.10,461.65 367.04,461.49 369.99,461.93 372.93,461.80 375.87,461.87 378.82,461.57 381.76,461.76 384.70,461.50 387.65,461.81 390.59,462.02 393.53,461.68 396.48,461.81 399.42,461.96 402.36,461.66 405.31,461.74 408.25,461.98 411.19,461.72 413.92,461.64 413.92,446.72 414.14,445.46 414.14,441.26 417.08,435.27 420.02,436.01 422.97,430.96 425.91,430.19 425.91,426.80 428.85,422.78 431.80,421.88 434.74,418.64 434.74,411.49 437.68,413.34 440.63,408.50 443.57,410.91 446.51,407.46 449.46,408.45 452.40,405.05" stroke="#c9504f" stroke-width="1.3" fill="none" stroke-linejoin="round" />
<polyline points="275.80,461.51 278.74,461.03 281.69,462.04 284.63,460.52 287.57,460.88 290.52,461.66 293.46,461.29 296.40,461.32 299.35,461.05 302.29,461.80 305.23,461.70 308.18,461.88 311.12,461.52 314.06,461.68 317.01,461.61 319.95,461.57 322.89,461.75 325.84,460.81 328.78,461.44 331.72,461.10 334.67,461.23 337.61,461.50 340.55,461.84 343.50,461.70 346.44,461.67 349.38,461.40 352.33,460.94 355.27,461.53 358.21,462.03 361.16,461.61 364.10,461.51 367.04,461.42 369.99,462.26 372.93,461.70 375.87,461.16 378.82,461.09 381.76,460.94 384.70,461.56 387.65,461.63 390.59,461.66 393.53,461.95 396.48,461.88 399.42,461.38 402.36,461.13 405.31,461.71 408.25,462.28 411.19,461.40 414.14,461.85 414.91,461.53 414.91,447.99 417.08,444.79 420.02,444.38 422.97,438.25 425.91,436.17 428.85,429.66 431.80,427.62 434.74,424.63 434.74,412.61 437.68,415.20 440.63,412.06 440.63,410.67 443.57,411.90 446.51,407.45 449.46,411.34 452.40,408.19 452.40,406.82" stroke="#c9504f" stroke-width="1.3" fill="none" stroke-linejoin="round" />
<polyline points="275.80,464.83 278.74,465.26 281.69,465.29 284.63,465.06 287.57,465.41 290.52,465.02 293.46,465.48 296.40,464.94 299.35,465.45 302.29,465.71 305.23,464.46 308.18,464.81 311.12,465.22 314.06,465.56 317.01,465.23 319.95,465.28 322.89,465.38 325.84,464.90 328.78,465.30 331.72,464.79 334.67,465.18 337.61,464.60 340.55,465.50 343.50,465.18 346.44,465.10 349.38,465.50 352.33,465.36 355.27,465.31 358.21,464.94 361.16,465.19 364.10,465.05 367.04,465.51 369.99,465.08 372.93,465.69 375.87,464.96 378.82,465.62 381.76,464.98 384.70,465.16 387.65,465.52 390.59,465.38 393.53,465.13 396.48,465.40 399.42,465.71 402.36,464.66 405.31,465.27 408.25,464.80 411.19,465.25 414.14,465.96 416.06,465.17 416.06,449.11 417.08,446.44 420.02,445.92 422.97,440.73 425.91,439.20 428.85,433.96 431.80,431.91 434.74,427.68 437.68,427.79 440.63,420.75 443.57,418.59 446.51,413.08 449.46,411.36 452.40,406.73" stroke="#c9504f" stroke-width="1.3" fill="none" stroke-linejoin="round" />
<polyline points="275.80,463.27 278.74,463.33 281.69,463.00 284.63,462.84 287.57,463.17 290.52,462.98 293.46,463.11 296.40,463.47 299.35,463.13 302.29,463.11 305.23,462.90 308.18,462.87 311.12,463.38 314.06,463.76 317.01,464.11 319.95,463.65 322.89,463.74 325.84,463.37 328.78,463.69 331.72,464.05 334.67,463.88 337.61,463.44 340.55,463.27 343.50,463.27 346.44,463.30 349.38,463.81 352.33,462.88 355.27,463.01 358.21,462.96 361.16,463.33 364.10,462.81 367.04,463.04 369.99,463.40 372.93,463.26 375.87,463.22 378.82,463.17 381.76,462.89 384.70,463.57 387.65,463.65 390.59,462.93 393.53,463.42 396.48,463.23 399.42,462.66 402.36,462.90 405.31,463.62 408.25,463.40 411.19,463.55 414.14,463.49 417.08,462.96 417.97,463.19 417.97,453.75 420.02,452.73 422.97,449.92 422.97,442.95 425.91,442.52 428.85,439.21 431.80,438.87 431.80,440.10 434.74,436.36 437.68,437.11 440.63,433.11 443.57,435.44 446.51,431.61 449.46,433.70 452.40,430.74" stroke="#c9504f" stroke-width="1.3" fill="none" stroke-linejoin="round" />
<polyline points="275.80,466.99 278.74,467.01 281.69,466.92 284.63,466.76 287.57,467.26 290.52,467.17 293.46,467.46 296.40,467.20 299.35,467.14 302.29,467.40 305.23,467.06 308.18,467.07 311.12,467.60 314.06,467.13 317.01,466.98 319.95,467.33 322.89,467.15 325.84,467.37 328.78,467.87 331.72,467.19 334.67,467.05 337.61,467.62 340.55,466.35 343.50,466.70 346.44,467.53 349.38,466.93 352.33,467.15 355.27,467.18 358.21,467.70 361.16,467.00 364.10,467.25 367.04,467.55 369.99,467.27 372.93,466.88 375.87,467.47 378.82,467.19 381.76,467.19 384.70,467.19 387.65,466.83 390.59,467.00 393.53,466.76 396.48,467.41 399.42,467.41 402.36,467.54 405.31,467.31 408.25,466.93 411.19,467.71 414.14,466.95 417.08,466.98 419.28,467.26 419.28,459.81 420.02,460.70 422.97,451.82 425.91,451.72 428.85,445.66 431.80,441.98 434.74,437.12 437.68,435.35 440.63,431.68 443.57,433.82 446.51,429.14 449.46,431.66 452.40,428.32" stroke="#c9504f" stroke-width="1.3" fill="none" stroke-linejoin="round" />
<polyline points="275.80,463.82 278.74,463.81 281.69,463.50 284.63,463.53 287.57,463.41 290.52,463.57 293.46,463.98 296.40,464.21 299.35,463.92 302.29,463.60 305.23,463.03 308.18,463.85 311.12,464.06 314.06,463.49 317.01,463.73 319.95,463.94 322.89,463.44 325.84,464.48 328.78,463.81 331.72,463.62 334.67,463.41 337.61,463.56 340.55,464.15 343.50,463.69 346.44,463.56 349.38,464.02 352.33,463.64 355.27,463.41 358.21,463.94 361.16,464.13 364.10,463.78 367.04,463.86 369.99,463.99 372.93,463.19 375.87,463.59 378.82,463.98 381.76,463.51 384.70,464.13 387.65,463.77 390.59,463.34 393.53,463.14 396.48,463.31 399.42,463.23 402.36,463.60 405.31,463.71 408.25,464.16 411.19,463.81 414.14,463.71 417.08,463.49 420.02,463.45 421.24,463.64 421.24,440.58 422.97,438.32 425.91,438.05 428.85,434.23 431.80,434.41 434.74,428.77 437.68,427.87 440.63,421.48 443.57,421.82 446.51,418.19 446.51,408.08 449.46,410.03 452.40,407.64 452.40,407.39" stroke="#c9504f" stroke-width="1.3" fill="none" stroke-linejoin="round" />
<polyline points="275.80,465.72 278.74,465.37 281.69,465.17 284.63,465.38 287.57,465.44 290.52,465.70 293.46,465.41 296.40,465.26 299.35,465.09 302.29,465.51 305.23,465.21 308.18,465.22 311.12,465.82 314.06,465.40 317.01,465.44 319.95,465.31 322.89,465.73 325.84,466.07 328.78,465.44 331.72,466.04 334.67,465.51 337.61,465.39 340.55,465.53 343.50,465.26 346.44,465.61 349.38,465.76 352.33,465.51 355.27,465.50 358.21,465.50 361.16,465.85 364.10,465.49 367.04,465.53 369.99,464.92 372.93,465.74 375.87,465.45 378.82,465.36 381.76,465.26 384.70,465.63 387.65,465.16 390.59,465.02 393.53,465.61 396.48,465.31 399.42,465.24 402.36,465.36 405.31,465.46 408.25,464.95 411.19,465.64 414.14,465.30 417.08,465.57 420.02,465.23 422.97,465.70 425.10,465.42 425.10,454.45 425.91,455.07 428.85,447.52 431.80,446.47 434.74,442.35 434.74,430.84 437.68,430.91 440.63,427.68 443.57,429.53 446.51,426.04 449.46,426.68 452.40,423.58" stroke="#c9504f" stroke-width="1.3" fill="none" stroke-linejoin="round" />
<polyline points="275.80,462.02 278.74,462.39 281.69,461.74 284.63,462.13 287.57,462.06 290.52,461.92 293.46,461.89 296.40,462.50 299.35,461.67 302.29,461.98 305.23,462.11 308.18,462.27 311.12,461.81 314.06,461.83 317.01,462.30 319.95,462.20 322.89,462.03 325.84,462.03 328.78,462.30 331.72,461.96 334.67,461.58 337.61,462.33 340.55,461.77 343.50,462.22 346.44,462.07 349.38,462.44 352.33,461.80 355.27,462.20 358.21,462.12 361.16,462.34 364.10,462.22 367.04,461.91 369.99,461.80 372.93,461.89 375.87,462.67 378.82,462.29 381.76,461.75 384.70,461.48 387.65,461.91 390.59,462.48 393.53,462.35 396.48,461.97 399.42,462.44 402.36,462.28 405.31,461.99 408.25,462.05 411.19,461.61 414.14,462.35 417.08,461.84 420.02,462.19 422.97,462.23 425.78,462.02 425.78,441.91 425.91,441.34 428.85,436.86 431.80,435.29 434.74,430.80 437.68,431.32 440.63,426.43 443.57,425.69 446.51,420.86 449.46,420.55 452.40,417.87" stroke="#c9504f" stroke-width="1.3" fill="none" stroke-linejoin="round" />
<polyline points="275.80,466.61 278.74,466.39 281.69,466.70 284.63,466.53 287.57,465.89 290.52,466.97 293.46,466.71 296.40,466.83 299.35,466.39 302.29,466.42 305.23,466.74 308.18,466.36 311.12,466.72 314.06,467.13 317.01,466.94 319.95,466.39 322.89,466.29 325.84,466.52 328.78,466.35 331.72,466.45 334.67,466.44 337.61,466.86 340.55,466.69 343.50,467.25 346.44,466.22 349.38,466.21 352.33,466.82 355.27,466.49 358.21,466.86 361.16,466.49 364.10,466.43 367.04,466.84 369.99,466.38 372.93,466.74 375.87,466.18 378.82,466.70 381.76,466.62 384.70,466.81 387.65,466.60 390.59,466.79 393.53,466.66 396.48,467.01 399.42,466.17 402.36,466.47 405.31,466.54 408.25,466.39 411.19,466.05 414.14,466.33 417.08,466.08 420.02,466.40 422.97,466.33 425.91,466.43 427.11,466.49 427.11,455.32 428.85,452.49 431.80,451.68 431.80,444.51 434.74,438.72 437.68,438.17 440.63,432.87 440.63,419.06 443.57,419.35 446.51,413.04 449.46,413.41 449.46,415.16 452.40,410.65" stroke="#c9504f" stroke-width="1.3" fill="none" stroke-linejoin="round" />
<polyline points="275.80,465.57 278.74,465.82 281.69,465.85 284.63,466.14 287.57,466.09 290.52,465.63 293.46,465.65 296.40,465.82 299.35,466.04 302.29,465.93 305.23,465.63 308.18,465.61 311.12,465.55 314.06,466.01 317.01,466.48 319.95,465.56 322.89,465.43 325.84,465.71 328.78,464.99 331.72,466.29 334.67,465.90 337.61,465.57 340.55,465.84 343.50,466.12 346.44,465.65 349.38,465.74 352.33,465.55 355.27,466.07 358.21,465.44 361.16,466.17 364.10,465.90 367.04,465.52 369.99,466.07 372.93,465.61 375.87,465.81 378.82,465.52 381.76,465.80 384.70,465.53 387.65,465.97 390.59,466.07 393.53,465.43 396.48,465.66 399.42,465.17 402.36,466.11 405.31,465.61 408.25,466.35 411.19,465.58 414.14,465.32 417.08,465.95 420.02,465.60 422.97,466.34 425.91,465.40 427.94,465.80 427.94,448.92 428.85,446.72 431.80,446.95 434.74,440.20 437.68,439.17 440.63,434.50 443.57,434.32 446.51,429.61 446.51,421.75 449.46,419.83 452.40,414.31" stroke="#c9504f" stroke-width="1.3" fill="none" stroke-linejoin="round" />
<polyline points="275.80,466.13 278.74,465.68 281.69,465.70 284.63,466.15 287.57,465.56 290.52,466.08 293.46,466.32 296.40,465.92 299.35,465.80 302.29,466.22 305.23,466.41 308.18,465.98 311.12,465.83 314.06,466.08 317.01,466.01 319.95,466.57 322.89,466.29 325.84,465.95 328.78,465.99 331.72,466.08 334.67,466.50 337.61,465.83 340.55,466.30 343.50,465.49 346.44,466.17 349.38,466.13 352.33,465.78 355.27,465.70 358.21,465.94 361.16,466.29 364.10,466.32 367.04,466.65 369.99,466.27 372.93,465.85 375.87,466.19 378.82,465.90 381.76,466.01 384.70,465.83 387.65,466.10 390.59,465.64 393.53,466.13 396.48,465.71 399.42,466.03 402.36,465.96 405.31,465.80 408.25,466.16 411.19,465.89 414.14,465.95 417.08,466.04 420.02,465.76 422.97,466.12 425.91,466.17 428.08,466.04 428.08,454.12 428.85,451.58 431.80,450.87 434.74,442.39 437.68,440.59 440.63,433.75 443.57,430.60 446.51,425.90 449.46,425.72 452.40,421.77 452.40,414.44" stroke="#c9504f" stroke-width="1.3" fill="none" stroke-linejoin="round" />
<polyline points="275.80,462.13 278.74,462.70 281.69,462.52 284.63,462.51 287.57,462.66 290.52,462.93 293.46,462.47 296.40,462.32 299.35,462.79 302.29,461.97 305.23,462.50 308.18,462.41 311.12,462.77 314.06,462.81 317.01,462.62 319.95,462.17 322.89,462.65 325.84,462.10 328.78,462.30 331.72,462.62 334.67,461.88 337.61,462.40 340.55,462.82 343.50,462.24 346.44,462.71 349.38,462.46 352.33,462.37 355.27,462.81 358.21,462.11 361.16,462.22 364.10,462.07 367.04,462.43 369.99,462.18 372.93,462.38 375.87,462.16 378.82,462.42 381.76,462.60 384.70,462.31 387.65,462.43 390.59,461.84 393.53,462.45 396.48,462.20 399.42,462.51 402.36,461.88 405.31,462.38 408.25,462.56 411.19,462.42 414.14,462.19 417.08,462.54 420.02,462.12 422.97,461.95 425.91,462.41 428.85,462.55 431.80,462.49 433.19,462.38 433.19,446.81 434.74,442.23 437.68,440.61 440.63,435.38 443.57,435.94 446.51,430.61 449.46,428.32 452.40,423.15" stroke="#c9504f" stroke-width="1.3" fill="none" stroke-linejoin="round" />
<polyline points="275.80,464.22 278.74,463.92 281.69,464.16 284.63,464.17 287.57,463.90 290.52,464.70 293.46,463.70 296.40,464.55 299.35,464.44 302.29,464.36 305.23,464.43 308.18,464.89 311.12,464.05 314.06,464.16 317.01,464.21 319.95,464.50 322.89,464.37 325.84,464.09 328.78,464.26 331.72,464.37 334.67,464.17 337.61,464.12 340.55,464.65 343.50,464.24 346.44,464.24 349.38,464.34 352.33,464.43 355.27,463.98 358.21,464.10 361.16,464.22 364.10,463.52 367.04,464.45 369.99,464.99 372.93,464.62 375.87,464.34 378.82,463.79 381.76,464.29 384.70,465.02 387.65,464.21 390.59,463.95 393.53,463.85 396.48,464.46 399.42,464.57 402.36,464.50 405.31,463.87 408.25,464.70 411.19,464.04 414.14,463.84 417.08,464.52 420.02,463.83 422.97,464.31 425.91,463.92 428.85,464.14 431.80,464.36 434.74,464.49 435.18,464.32 435.18,460.95 437.68,459.05 440.63,454.18 443.57,450.43 443.57,439.90 446.51,436.18 446.51,431.12 449.46,431.68 452.40,429.94 452.40,428.70" stroke="#c9504f" stroke-width="1.3" fill="none" stroke-linejoin="round" />
<polyline points="275.80,467.15 278.74,466.90 281.69,467.41 284.63,467.05 287.57,467.28 290.52,467.40 293.46,466.97 296.40,466.87 299.35,466.66 302.29,466.79 305.23,467.32 308.18,467.27 311.12,466.90 314.06,467.41 317.01,466.97 319.95,466.97 322.89,467.09 325.84,467.41 328.78,467.38 331.72,467.39 334.67,466.91 337.61,467.07 340.55,467.44 343.50,467.02 346.44,466.75 349.38,467.64 352.33,467.67 355.27,467.25 358.21,467.08 361.16,467.45 364.10,467.21 367.04,467.33 369.99,467.18 372.93,466.97 375.87,467.30 378.82,467.27 381.76,466.84 384.70,467.29 387.65,467.10 390.59,467.47 393.53,466.89 396.48,467.50 399.42,467.21 402.36,467.51 405.31,467.58 408.25,466.89 411.19,467.06 414.14,467.02 417.08,467.49 420.02,467.02 422.97,466.99 425.91,467.11 428.85,467.23 431.80,466.67 434.74,467.01 437.29,467.21 437.29,447.29 437.68,450.23 440.63,444.69 443.57,442.30 443.57,434.57 446.51,428.93 449.46,430.41 452.40,427.35" stroke="#c9504f" stroke-width="1.3" fill="none" stroke-linejoin="round" />
<polyline points="275.80,465.21 278.74,465.31 281.69,465.83 284.63,465.42 287.57,465.21 290.52,464.99 293.46,465.14 296.40,464.86 299.35,465.58 302.29,465.17 305.23,465.23 308.18,465.28 311.12,465.24 314.06,465.03 317.01,464.81 319.95,465.68 322.89,465.41 325.84,465.78 328.78,465.18 331.72,464.83 334.67,465.51 337.61,464.90 340.55,464.95 343.50,464.92 346.44,465.11 349.38,465.11 352.33,465.43 355.27,464.76 358.21,465.45 361.16,465.38 364.10,465.28 367.04,465.47 369.99,464.67 372.93,465.16 375.87,465.51 378.82,465.37 381.76,464.91 384.70,465.22 387.65,465.12 390.59,465.72 393.53,464.65 396.48,464.91 399.42,465.36 402.36,465.31 405.31,465.60 408.25,464.79 411.19,464.66 414.14,465.20 417.08,465.19 420.02,465.37 422.97,465.24 425.91,465.86 428.85,466.07 431.80,465.12 434.74,464.72 437.68,465.01 438.94,465.17 438.94,453.48 440.63,450.68 443.57,450.39 446.51,443.89 449.46,443.62 452.40,437.75" stroke="#c9504f" stroke-width="1.3" fill="none" stroke-linejoin="round" />
<polyline points="275.80,461.58 278.74,461.68 281.69,460.74 284.63,461.57 287.57,461.82 290.52,461.24 293.46,460.82 296.40,461.58 299.35,461.25 302.29,461.63 305.23,460.99 308.18,461.48 311.12,461.50 314.06,461.08 317.01,461.83 319.95,461.32 322.89,461.37 325.84,461.54 328.78,461.49 331.72,462.16 334.67,461.08 337.61,461.09 340.55,461.79 343.50,461.64 346.44,461.85 349.38,461.35 352.33,461.45 355.27,461.36 358.21,461.41 361.16,461.37 364.10,461.32 367.04,461.36 369.99,461.08 372.93,461.30 375.87,461.38 378.82,461.63 381.76,461.60 384.70,461.78 387.65,461.27 390.59,461.36 393.53,461.89 396.48,461.58 399.42,461.35 402.36,461.48 405.31,461.90 408.25,461.27 411.19,461.68 414.14,461.37 417.08,461.33 420.02,461.25 422.97,461.51 425.91,461.56 428.85,461.35 431.80,461.27 434.74,461.44 437.68,461.55 440.14,461.44 440.14,440.98 440.63,441.04 443.57,441.87 446.51,436.14 449.46,435.57 452.40,430.84" stroke="#c9504f" stroke-width="1.3" fill="none" stroke-linejoin="round" />
<polyline points="275.80,465.96 278.74,465.95 281.69,465.82 284.63,465.81 287.57,466.24 290.52,465.91 293.46,466.05 296.40,466.12 299.35,465.67 302.29,465.93 305.23,465.96 308.18,466.04 311.12,466.19 314.06,465.96 317.01,465.63 319.95,465.74 322.89,465.90 325.84,465.79 328.78,466.33 331.72,465.98 334.67,465.85 337.61,466.15 340.55,465.19 343.50,465.73 346.44,465.90 349.38,466.25 352.33,466.65 355.27,465.35 358.21,465.32 361.16,466.00 364.10,465.97 367.04,465.97 369.99,465.50 372.93,465.71 375.87,465.71 378.82,465.77 381.76,466.05 384.70,465.77 387.65,466.53 390.59,465.78 393.53,465.93 396.48,465.96 399.42,465.61 402.36,465.93 405.31,465.85 408.25,466.03 411.19,465.90 414.14,465.56 417.08,466.16 420.02,466.02 422.97,465.50 425.91,465.63 428.85,465.29 431.80,466.18 434.74,465.84 437.68,466.10 440.63,465.89 440.96,465.87 440.96,458.70 443.57,454.63 443.57,445.42 446.51,441.75 446.51,432.40 449.46,429.25 449.46,422.79 452.40,418.25" stroke="#c9504f" stroke-width="1.3" fill="none" stroke-linejoin="round" />
<polyline points="275.80,464.32 278.74,464.37 281.69,464.46 284.63,464.02 287.57,464.27 290.52,464.28 293.46,464.61 296.40,464.42 299.35,464.75 302.29,464.59 305.23,464.24 308.18,464.33 311.12,464.06 314.06,464.37 317.01,464.30 319.95,463.93 322.89,464.05 325.84,464.40 328.78,464.20 331.72,464.01 334.67,464.00 337.61,464.24 340.55,464.54 343.50,463.76 346.44,464.21 349.38,464.37 352.33,464.76 355.27,464.32 358.21,464.09 361.16,464.20 364.10,464.48 367.04,464.40 369.99,464.02 372.93,464.51 375.87,463.97 378.82,464.47 381.76,464.28 384.70,464.30 387.65,464.50 390.59,464.38 393.53,464.47 396.48,464.12 399.42,464.23 402.36,464.51 405.31,464.68 408.25,464.02 411.19,464.53 414.14,464.27 417.08,464.31 420.02,464.28 422.97,464.29 425.91,464.27 428.85,464.31 431.80,464.44 434.74,463.98 437.68,464.01 440.63,464.63 441.59,464.25 441.59,445.38 443.57,445.07 446.51,441.59 449.46,440.59 452.40,433.95" stroke="#c9504f" stroke-width="1.3" fill="none" stroke-linejoin="round" />
<polyline points="275.80,464.69 278.74,465.12 281.69,464.76 284.63,464.49 287.57,465.15 290.52,464.50 293.46,465.08 296.40,465.30 299.35,464.91 302.29,464.75 305.23,465.09 308.18,464.63 311.12,464.59 314.06,465.36 317.01,464.07 319.95,464.45 322.89,465.05 325.84,464.93 328.78,464.88 331.72,464.64 334.67,464.64 337.61,464.90 340.55,464.96 343.50,464.33 346.44,464.62 349.38,465.15 352.33,464.43 355.27,464.72 358.21,464.73 361.16,464.39 364.10,464.70 367.04,464.53 369.99,464.47 372.93,464.55 375.87,464.91 378.82,464.46 381.76,464.37 384.70,464.21 387.65,464.13 390.59,464.49 393.53,465.21 396.48,464.96 399.42,464.79 402.36,464.68 405.31,464.87 408.25,464.82 411.19,464.83 414.14,464.02 417.08,464.64 420.02,463.89 422.97,464.85 425.91,464.91 428.85,464.55 431.80,464.78 434.74,464.97 437.68,464.36 440.63,465.25 443.01,464.73 443.01,459.57 443.57,459.17 446.51,452.90 449.46,450.18 449.46,446.47 452.40,440.26" stroke="#c9504f" stroke-width="1.3" fill="none" stroke-linejoin="round" />
<polyline points="275.80,462.16 278.74,461.51 281.69,461.57 284.63,461.48 287.57,461.77 290.52,461.51 293.46,461.67 296.40,461.49 299.35,461.55 302.29,461.03 305.23,461.40 308.18,461.43 311.12,461.20 314.06,461.55 317.01,461.57 319.95,461.22 322.89,461.54 325.84,461.52 328.78,462.33 331.72,461.89 334.67,462.16 337.61,461.43 340.55,461.21 343.50,461.60 346.44,461.52 349.38,461.42 352.33,462.07 355.27,461.51 358.21,461.07 361.16,461.53 364.10,461.08 367.04,461.31 369.99,461.23 372.93,461.32 375.87,461.65 378.82,461.84 381.76,461.66 384.70,461.74 387.65,461.94 390.59,461.63 393.53,461.35 396.48,461.60 399.42,461.75 402.36,461.14 405.31,461.20 408.25,461.45 411.19,461.76 414.14,460.88 417.08,461.64 420.02,461.21 422.97,461.40 425.91,461.62 428.85,461.54 431.80,461.52 434.74,461.04 437.68,461.10 440.63,461.42 443.57,461.41 443.66,461.48 443.66,455.02 446.51,450.43 449.46,450.56 452.40,446.03" stroke="#c9504f" stroke-width="1.3" fill="none" stroke-linejoin="round" />
<polyline points="275.80,468.02 278.74,467.61 281.69,467.31 284.63,467.67 287.57,467.69 290.52,467.27 293.46,467.31 296.40,468.53 299.35,467.74 302.29,467.54 305.23,467.36 308.18,467.92 311.12,467.28 314.06,467.45 317.01,467.26 319.95,467.55 322.89,467.37 325.84,467.96 328.78,467.28 331.72,467.59 334.67,468.00 337.61,467.65 340.55,467.43 343.50,468.06 346.44,467.27 349.38,467.04 352.33,467.83 355.27,467.56 358.21,467.86 361.16,467.29 364.10,467.57 367.04,467.79 369.99,467.63 372.93,467.54 375.87,467.99 378.82,467.39 381.76,467.22 384.70,468.04 387.65,467.90 390.59,467.54 393.53,467.02 396.48,467.62 399.42,467.85 402.36,467.78 405.31,467.73 408.25,468.03 411.19,467.46 414.14,467.41 417.08,467.99 420.02,467.73 422.97,467.47 425.91,467.90 428.85,467.94 431.80,467.71 434.74,468.12 437.68,467.74 440.63,468.27 443.57,467.77 443.90,467.62 443.90,459.17 446.51,456.39 449.46,456.03 452.40,451.24" stroke="#c9504f" stroke-width="1.3" fill="none" stroke-linejoin="round" />
<polyline points="275.80,466.23 278.74,465.89 281.69,466.05 284.63,466.37 287.57,465.90 290.52,466.09 293.46,466.27 296.40,466.08 299.35,465.74 302.29,466.42 305.23,466.22 308.18,465.91 311.12,466.00 314.06,465.93 317.01,466.63 319.95,466.46 322.89,466.02 325.84,465.69 328.78,466.19 331.72,465.64 334.67,466.15 337.61,466.64 340.55,466.65 343.50,466.31 346.44,465.54 349.38,466.03 352.33,465.76 355.27,465.89 358.21,465.66 361.16,465.87 364.10,466.17 367.04,465.78 369.99,465.77 372.93,466.18 375.87,466.24 378.82,465.91 381.76,465.91 384.70,465.99 387.65,466.11 390.59,466.38 393.53,465.46 396.48,466.00 399.42,465.93 402.36,465.87 405.31,466.59 408.25,465.88 411.19,466.16 414.14,466.21 417.08,466.12 420.02,465.78 422.97,465.88 425.91,465.58 428.85,466.04 431.80,465.71 434.74,465.83 437.68,465.97 440.63,466.10 443.57,465.59 444.47,466.05 444.47,445.31 446.51,441.83 449.46,441.72 452.40,435.79" stroke="#c9504f" stroke-width="1.3" fill="none" stroke-linejoin="round" />
<polyline points="275.80,467.52 278.74,467.44 281.69,467.60 284.63,467.97 287.57,468.01 290.52,467.68 293.46,467.98 296.40,467.58 299.35,467.73 302.29,467.24 305.23,467.75 308.18,467.45 311.12,468.11 314.06,468.00 317.01,467.19 319.95,467.34 322.89,467.07 325.84,467.28 328.78,467.49 331.72,467.31 334.67,467.54 337.61,467.21 340.55,467.77 343.50,467.49 346.44,467.07 349.38,467.80 352.33,467.75 355.27,467.47 358.21,467.49 361.16,467.84 364.10,467.52 367.04,467.60 369.99,467.39 372.93,467.59 375.87,467.13 378.82,467.73 381.76,466.95 384.70,467.88 387.65,467.51 390.59,467.83 393.53,467.04 396.48,467.50 399.42,467.38 402.36,467.96 405.31,467.61 408.25,467.62 411.19,467.13 414.14,467.87 417.08,467.25 420.02,467.45 422.97,467.29 425.91,467.46 428.85,467.86 431.80,467.51 434.74,467.89 437.68,467.75 440.63,467.14 443.57,467.40 446.51,468.14 446.55,467.59 446.55,464.59 449.46,463.99 452.40,458.39" stroke="#c9504f" stroke-width="1.3" fill="none" stroke-linejoin="round" />
<polyline points="275.80,464.61 278.74,464.78 281.69,464.22 284.63,464.31 287.57,464.64 290.52,464.15 293.46,464.35 296.40,464.09 299.35,464.47 302.29,464.06 305.23,464.39 308.18,464.58 311.12,464.60 314.06,464.58 317.01,464.44 319.95,464.35 322.89,464.12 325.84,463.92 328.78,464.25 331.72,464.46 334.67,464.42 337.61,464.60 340.55,464.28 343.50,464.16 346.44,464.28 349.38,464.63 352.33,464.24 355.27,464.02 358.21,464.18 361.16,465.04 364.10,464.63 367.04,464.69 369.99,464.16 372.93,464.81 375.87,464.11 378.82,464.70 381.76,463.90 384.70,464.24 387.65,463.87 390.59,464.40 393.53,464.29 396.48,464.34 399.42,464.64 402.36,464.88 405.31,464.35 408.25,464.53 411.19,464.48 414.14,464.36 417.08,464.47 420.02,464.79 422.97,464.73 425.91,464.23 428.85,464.48 431.80,464.37 434.74,464.46 437.68,463.95 440.63,464.95 443.57,463.89 446.51,464.37 448.20,464.39 448.20,458.56 449.46,459.49 452.40,452.33" stroke="#c9504f" stroke-width="1.3" fill="none" stroke-linejoin="round" />
<line x1="276.00" y1="460.20" x2="452.40" y2="460.20" stroke="#333" stroke-width="0.8" stroke-dasharray="1.5,1.2"/>
<line x1="276.00" y1="267.60" x2="276.00" y2="375.90" stroke="#555" stroke-width="1" />
<line x1="276.00" y1="375.90" x2="455.20" y2="375.90" stroke="#888" stroke-width="1.6" />
<line x1="276.00" y1="375.90" x2="279.40" y2="375.90" stroke="#222" stroke-width="0.85" />
<line x1="276.00" y1="371.31" x2="278.60" y2="371.31" stroke="#222" stroke-width="0.85" />
<line x1="276.00" y1="368.62" x2="278.60" y2="368.62" stroke="#222" stroke-width="0.85" />
<line x1="276.00" y1="366.72" x2="278.60" y2="366.72" stroke="#222" stroke-width="0.85" />
<line x1="276.00" y1="365.24" x2="278.60" y2="365.24" stroke="#222" stroke-width="0.85" />
<line x1="276.00" y1="364.03" x2="278.60" y2="364.03" stroke="#222" stroke-width="0.85" />
<line x1="276.00" y1="363.01" x2="278.60" y2="363.01" stroke="#222" stroke-width="0.85" />
<line x1="276.00" y1="362.13" x2="278.60" y2="362.13" stroke="#222" stroke-width="0.85" />
<line x1="276.00" y1="361.35" x2="278.60" y2="361.35" stroke="#222" stroke-width="0.85" />
<line x1="276.00" y1="360.65" x2="279.40" y2="360.65" stroke="#222" stroke-width="0.85" />
<line x1="276.00" y1="356.06" x2="278.60" y2="356.06" stroke="#222" stroke-width="0.85" />
<line x1="276.00" y1="353.37" x2="278.60" y2="353.37" stroke="#222" stroke-width="0.85" />
<line x1="276.00" y1="351.47" x2="278.60" y2="351.47" stroke="#222" stroke-width="0.85" />
<line x1="276.00" y1="349.99" x2="278.60" y2="349.99" stroke="#222" stroke-width="0.85" />
<line x1="276.00" y1="348.78" x2="278.60" y2="348.78" stroke="#222" stroke-width="0.85" />
<line x1="276.00" y1="347.76" x2="278.60" y2="347.76" stroke="#222" stroke-width="0.85" />
<line x1="276.00" y1="346.88" x2="278.60" y2="346.88" stroke="#222" stroke-width="0.85" />
<line x1="276.00" y1="346.10" x2="278.60" y2="346.10" stroke="#222" stroke-width="0.85" />
<line x1="276.00" y1="345.40" x2="279.40" y2="345.40" stroke="#222" stroke-width="0.85" />
<line x1="276.00" y1="340.81" x2="278.60" y2="340.81" stroke="#222" stroke-width="0.85" />
<line x1="276.00" y1="338.12" x2="278.60" y2="338.12" stroke="#222" stroke-width="0.85" />
<line x1="276.00" y1="336.22" x2="278.60" y2="336.22" stroke="#222" stroke-width="0.85" />
<line x1="276.00" y1="334.74" x2="278.60" y2="334.74" stroke="#222" stroke-width="0.85" />
<line x1="276.00" y1="333.53" x2="278.60" y2="333.53" stroke="#222" stroke-width="0.85" />
<line x1="276.00" y1="332.51" x2="278.60" y2="332.51" stroke="#222" stroke-width="0.85" />
<line x1="276.00" y1="331.63" x2="278.60" y2="331.63" stroke="#222" stroke-width="0.85" />
<line x1="276.00" y1="330.85" x2="278.60" y2="330.85" stroke="#222" stroke-width="0.85" />
<line x1="276.00" y1="330.15" x2="279.40" y2="330.15" stroke="#222" stroke-width="0.85" />
<line x1="276.00" y1="325.56" x2="278.60" y2="325.56" stroke="#222" stroke-width="0.85" />
<line x1="276.00" y1="322.87" x2="278.60" y2="322.87" stroke="#222" stroke-width="0.85" />
<line x1="276.00" y1="320.97" x2="278.60" y2="320.97" stroke="#222" stroke-width="0.85" />
<line x1="276.00" y1="319.49" x2="278.60" y2="319.49" stroke="#222" stroke-width="0.85" />
<line x1="276.00" y1="318.28" x2="278.60" y2="318.28" stroke="#222" stroke-width="0.85" />
<line x1="276.00" y1="317.26" x2="278.60" y2="317.26" stroke="#222" stroke-width="0.85" />
<line x1="276.00" y1="316.38" x2="278.60" y2="316.38" stroke="#222" stroke-width="0.85" />
<line x1="276.00" y1="315.60" x2="278.60" y2="315.60" stroke="#222" stroke-width="0.85" />
<line x1="276.00" y1="314.90" x2="279.40" y2="314.90" stroke="#222" stroke-width="0.85" />
<line x1="276.00" y1="310.31" x2="278.60" y2="310.31" stroke="#222" stroke-width="0.85" />
<line x1="276.00" y1="307.62" x2="278.60" y2="307.62" stroke="#222" stroke-width="0.85" />
<line x1="276.00" y1="305.72" x2="278.60" y2="305.72" stroke="#222" stroke-width="0.85" />
<line x1="276.00" y1="304.24" x2="278.60" y2="304.24" stroke="#222" stroke-width="0.85" />
<line x1="276.00" y1="303.03" x2="278.60" y2="303.03" stroke="#222" stroke-width="0.85" />
<line x1="276.00" y1="302.01" x2="278.60" y2="302.01" stroke="#222" stroke-width="0.85" />
<line x1="276.00" y1="301.13" x2="278.60" y2="301.13" stroke="#222" stroke-width="0.85" />
<line x1="276.00" y1="300.35" x2="278.60" y2="300.35" stroke="#222" stroke-width="0.85" />
<line x1="276.00" y1="299.65" x2="279.40" y2="299.65" stroke="#222" stroke-width="0.85" />
<line x1="276.00" y1="295.06" x2="278.60" y2="295.06" stroke="#222" stroke-width="0.85" />
<line x1="276.00" y1="292.37" x2="278.60" y2="292.37" stroke="#222" stroke-width="0.85" />
<line x1="276.00" y1="290.47" x2="278.60" y2="290.47" stroke="#222" stroke-width="0.85" />
<line x1="276.00" y1="288.99" x2="278.60" y2="288.99" stroke="#222" stroke-width="0.85" />
<line x1="276.00" y1="287.78" x2="278.60" y2="287.78" stroke="#222" stroke-width="0.85" />
<line x1="276.00" y1="286.76" x2="278.60" y2="286.76" stroke="#222" stroke-width="0.85" />
<line x1="276.00" y1="285.88" x2="278.60" y2="285.88" stroke="#222" stroke-width="0.85" />
<line x1="276.00" y1="285.10" x2="278.60" y2="285.10" stroke="#222" stroke-width="0.85" />
<line x1="276.00" y1="284.40" x2="279.40" y2="284.40" stroke="#222" stroke-width="0.85" />
<line x1="276.00" y1="279.81" x2="278.60" y2="279.81" stroke="#222" stroke-width="0.85" />
<line x1="276.00" y1="277.12" x2="278.60" y2="277.12" stroke="#222" stroke-width="0.85" />
<line x1="276.00" y1="275.22" x2="278.60" y2="275.22" stroke="#222" stroke-width="0.85" />
<line x1="276.00" y1="273.74" x2="278.60" y2="273.74" stroke="#222" stroke-width="0.85" />
<line x1="276.00" y1="272.53" x2="278.60" y2="272.53" stroke="#222" stroke-width="0.85" />
<line x1="276.00" y1="271.51" x2="278.60" y2="271.51" stroke="#222" stroke-width="0.85" />
<line x1="276.00" y1="270.63" x2="278.60" y2="270.63" stroke="#222" stroke-width="0.85" />
<line x1="276.00" y1="269.85" x2="278.60" y2="269.85" stroke="#222" stroke-width="0.85" />
<line x1="276.00" y1="269.15" x2="279.40" y2="269.15" stroke="#222" stroke-width="0.85" />
<line x1="365.60" y1="375.90" x2="365.60" y2="372.90" stroke="#555" stroke-width="0.9" />
<line x1="455.20" y1="375.90" x2="455.20" y2="372.90" stroke="#555" stroke-width="0.9" />
<line x1="276.00" y1="387.70" x2="276.00" y2="492.30" stroke="#555" stroke-width="1" />
<line x1="276.00" y1="492.30" x2="452.40" y2="492.30" stroke="#888" stroke-width="1.6" />
<line x1="276.00" y1="492.30" x2="279.40" y2="492.30" stroke="#222" stroke-width="0.85" />
<line x1="276.00" y1="487.94" x2="278.60" y2="487.94" stroke="#222" stroke-width="0.85" />
<line x1="276.00" y1="485.38" x2="278.60" y2="485.38" stroke="#222" stroke-width="0.85" />
<line x1="276.00" y1="483.57" x2="278.60" y2="483.57" stroke="#222" stroke-width="0.85" />
<line x1="276.00" y1="482.16" x2="278.60" y2="482.16" stroke="#222" stroke-width="0.85" />
<line x1="276.00" y1="481.02" x2="278.60" y2="481.02" stroke="#222" stroke-width="0.85" />
<line x1="276.00" y1="480.05" x2="278.60" y2="480.05" stroke="#222" stroke-width="0.85" />
<line x1="276.00" y1="479.21" x2="278.60" y2="479.21" stroke="#222" stroke-width="0.85" />
<line x1="276.00" y1="478.46" x2="278.60" y2="478.46" stroke="#222" stroke-width="0.85" />
<line x1="276.00" y1="477.80" x2="279.40" y2="477.80" stroke="#222" stroke-width="0.85" />
<line x1="276.00" y1="473.44" x2="278.60" y2="473.44" stroke="#222" stroke-width="0.85" />
<line x1="276.00" y1="470.88" x2="278.60" y2="470.88" stroke="#222" stroke-width="0.85" />
<line x1="276.00" y1="469.07" x2="278.60" y2="469.07" stroke="#222" stroke-width="0.85" />
<line x1="276.00" y1="467.66" x2="278.60" y2="467.66" stroke="#222" stroke-width="0.85" />
<line x1="276.00" y1="466.52" x2="278.60" y2="466.52" stroke="#222" stroke-width="0.85" />
<line x1="276.00" y1="465.55" x2="278.60" y2="465.55" stroke="#222" stroke-width="0.85" />
<line x1="276.00" y1="464.71" x2="278.60" y2="464.71" stroke="#222" stroke-width="0.85" />
<line x1="276.00" y1="463.96" x2="278.60" y2="463.96" stroke="#222" stroke-width="0.85" />
<line x1="276.00" y1="463.30" x2="279.40" y2="463.30" stroke="#222" stroke-width="0.85" />
<line x1="276.00" y1="458.94" x2="278.60" y2="458.94" stroke="#222" stroke-width="0.85" />
<line x1="276.00" y1="456.38" x2="278.60" y2="456.38" stroke="#222" stroke-width="0.85" />
<line x1="276.00" y1="454.57" x2="278.60" y2="454.57" stroke="#222" stroke-width="0.85" />
<line x1="276.00" y1="453.16" x2="278.60" y2="453.16" stroke="#222" stroke-width="0.85" />
<line x1="276.00" y1="452.02" x2="278.60" y2="452.02" stroke="#222" stroke-width="0.85" />
<line x1="276.00" y1="451.05" x2="278.60" y2="451.05" stroke="#222" stroke-width="0.85" />
<line x1="276.00" y1="450.21" x2="278.60" y2="450.21" stroke="#222" stroke-width="0.85" />
<line x1="276.00" y1="449.46" x2="278.60" y2="449.46" stroke="#222" stroke-width="0.85" />
<line x1="276.00" y1="448.80" x2="279.40" y2="448.80" stroke="#222" stroke-width="0.85" />
<line x1="276.00" y1="444.44" x2="278.60" y2="444.44" stroke="#222" stroke-width="0.85" />
<line x1="276.00" y1="441.88" x2="278.60" y2="441.88" stroke="#222" stroke-width="0.85" />
<line x1="276.00" y1="440.07" x2="278.60" y2="440.07" stroke="#222" stroke-width="0.85" />
<line x1="276.00" y1="438.66" x2="278.60" y2="438.66" stroke="#222" stroke-width="0.85" />
<line x1="276.00" y1="437.52" x2="278.60" y2="437.52" stroke="#222" stroke-width="0.85" />
<line x1="276.00" y1="436.55" x2="278.60" y2="436.55" stroke="#222" stroke-width="0.85" />
<line x1="276.00" y1="435.71" x2="278.60" y2="435.71" stroke="#222" stroke-width="0.85" />
<line x1="276.00" y1="434.96" x2="278.60" y2="434.96" stroke="#222" stroke-width="0.85" />
<line x1="276.00" y1="434.30" x2="279.40" y2="434.30" stroke="#222" stroke-width="0.85" />
<line x1="276.00" y1="429.94" x2="278.60" y2="429.94" stroke="#222" stroke-width="0.85" />
<line x1="276.00" y1="427.38" x2="278.60" y2="427.38" stroke="#222" stroke-width="0.85" />
<line x1="276.00" y1="425.57" x2="278.60" y2="425.57" stroke="#222" stroke-width="0.85" />
<line x1="276.00" y1="424.16" x2="278.60" y2="424.16" stroke="#222" stroke-width="0.85" />
<line x1="276.00" y1="423.02" x2="278.60" y2="423.02" stroke="#222" stroke-width="0.85" />
<line x1="276.00" y1="422.05" x2="278.60" y2="422.05" stroke="#222" stroke-width="0.85" />
<line x1="276.00" y1="421.21" x2="278.60" y2="421.21" stroke="#222" stroke-width="0.85" />
<line x1="276.00" y1="420.46" x2="278.60" y2="420.46" stroke="#222" stroke-width="0.85" />
<line x1="276.00" y1="419.80" x2="279.40" y2="419.80" stroke="#222" stroke-width="0.85" />
<line x1="276.00" y1="415.44" x2="278.60" y2="415.44" stroke="#222" stroke-width="0.85" />
<line x1="276.00" y1="412.88" x2="278.60" y2="412.88" stroke="#222" stroke-width="0.85" />
<line x1="276.00" y1="411.07" x2="278.60" y2="411.07" stroke="#222" stroke-width="0.85" />
<line x1="276.00" y1="409.66" x2="278.60" y2="409.66" stroke="#222" stroke-width="0.85" />
<line x1="276.00" y1="408.52" x2="278.60" y2="408.52" stroke="#222" stroke-width="0.85" />
<line x1="276.00" y1="407.55" x2="278.60" y2="407.55" stroke="#222" stroke-width="0.85" />
<line x1="276.00" y1="406.71" x2="278.60" y2="406.71" stroke="#222" stroke-width="0.85" />
<line x1="276.00" y1="405.96" x2="278.60" y2="405.96" stroke="#222" stroke-width="0.85" />
<line x1="276.00" y1="405.30" x2="279.40" y2="405.30" stroke="#222" stroke-width="0.85" />
<line x1="276.00" y1="400.94" x2="278.60" y2="400.94" stroke="#222" stroke-width="0.85" />
<line x1="276.00" y1="398.38" x2="278.60" y2="398.38" stroke="#222" stroke-width="0.85" />
<line x1="276.00" y1="396.57" x2="278.60" y2="396.57" stroke="#222" stroke-width="0.85" />
<line x1="276.00" y1="395.16" x2="278.60" y2="395.16" stroke="#222" stroke-width="0.85" />
<line x1="276.00" y1="394.02" x2="278.60" y2="394.02" stroke="#222" stroke-width="0.85" />
<line x1="276.00" y1="393.05" x2="278.60" y2="393.05" stroke="#222" stroke-width="0.85" />
<line x1="276.00" y1="392.21" x2="278.60" y2="392.21" stroke="#222" stroke-width="0.85" />
<line x1="276.00" y1="391.46" x2="278.60" y2="391.46" stroke="#222" stroke-width="0.85" />
<line x1="276.00" y1="390.80" x2="279.40" y2="390.80" stroke="#222" stroke-width="0.85" />
<line x1="364.20" y1="492.30" x2="364.20" y2="489.30" stroke="#555" stroke-width="0.9" />
<line x1="452.40" y1="492.30" x2="452.40" y2="489.30" stroke="#555" stroke-width="0.9" />
<text x="272.20" y="286.10" font-size="8.8" font-weight="normal" text-anchor="end" fill="#000" stroke="#000" stroke-width="0.18" font-family='"Liberation Sans", sans-serif' >10<tspan font-size="6" dy="-4">4</tspan></text>
<text x="272.20" y="407.60" font-size="8.8" font-weight="normal" text-anchor="end" fill="#000" stroke="#000" stroke-width="0.18" font-family='"Liberation Sans", sans-serif' >10<tspan font-size="6" dy="-4">4</tspan></text>
<text x="272.20" y="316.20" font-size="8.8" font-weight="normal" text-anchor="end" fill="#000" stroke="#000" stroke-width="0.18" font-family='"Liberation Sans", sans-serif' >10<tspan font-size="6" dy="-4">2</tspan></text>
<text x="272.20" y="435.30" font-size="8.8" font-weight="normal" text-anchor="end" fill="#000" stroke="#000" stroke-width="0.18" font-family='"Liberation Sans", sans-serif' >10<tspan font-size="6" dy="-4">2</tspan></text>
<text x="272.20" y="348.90" font-size="8.8" font-weight="normal" text-anchor="end" fill="#000" stroke="#000" stroke-width="0.18" font-family='"Liberation Sans", sans-serif' >10<tspan font-size="6" dy="-4">0</tspan></text>
<text x="272.20" y="468.60" font-size="8.8" font-weight="normal" text-anchor="end" fill="#000" stroke="#000" stroke-width="0.18" font-family='"Liberation Sans", sans-serif' >10<tspan font-size="6" dy="-4">0</tspan></text>
<text x="272.20" y="379.80" font-size="8.8" font-weight="normal" text-anchor="end" fill="#000" stroke="#000" stroke-width="0.18" font-family='"Liberation Sans", sans-serif' >10<tspan font-size="6" dy="-4">-2</tspan></text>
<text x="272.20" y="495.20" font-size="8.8" font-weight="normal" text-anchor="end" fill="#000" stroke="#000" stroke-width="0.18" font-family='"Liberation Sans", sans-serif' >10<tspan font-size="6" dy="-4">-2</tspan></text>
<text x="275.80" y="506.20" font-size="9" font-weight="normal" text-anchor="middle" fill="#000" stroke="#000" stroke-width="0.18" font-family='"Liberation Sans", sans-serif' >0</text>
<text x="364.10" y="506.20" font-size="9" font-weight="normal" text-anchor="middle" fill="#000" stroke="#000" stroke-width="0.18" font-family='"Liberation Sans", sans-serif' >0.5</text>
<text x="452.40" y="506.20" font-size="9" font-weight="normal" text-anchor="middle" fill="#000" stroke="#000" stroke-width="0.18" font-family='"Liberation Sans", sans-serif' >1</text>
<text x="364.30" y="520.50" font-size="9.6" font-weight="bold" text-anchor="middle" fill="#000" stroke="#000" stroke-width="0.18" font-family='"Liberation Sans", sans-serif' >V<tspan font-size="6.5" baseline-shift="-2.3">BL</tspan> (V)</text>
<text transform="translate(251,319.5) rotate(-90)" font-size="9.85" font-weight="bold" text-anchor="middle" font-family='"Liberation Sans", sans-serif' fill="#000">Measured I<tspan font-size="6.5" baseline-shift="-2.3">TBL</tspan> (nA)</text>
<text transform="translate(251,438.5) rotate(-90)" font-size="9.85" font-weight="bold" text-anchor="middle" font-family='"Liberation Sans", sans-serif' fill="#000">Measured I<tspan font-size="6.5" baseline-shift="-2.3">TBL</tspan> (nA)</text>
<text x="283.60" y="286.40" font-size="8.7" font-weight="normal" text-anchor="start" fill="#000" stroke="#000" stroke-width="0.18" font-family='"Liberation Sans", sans-serif' >w/o V<tspan font-size="6.6" baseline-shift="-2.4">TH</tspan>-MC :</text>
<text x="283.60" y="300.40" font-size="8.7" font-weight="normal" text-anchor="start" fill="#000" stroke="#000" stroke-width="0.18" font-family='"Liberation Sans", sans-serif' >1σ/μ = 41.5%</text>
<text x="283.60" y="314.30" font-size="8.7" font-weight="normal" text-anchor="start" fill="#000" stroke="#000" stroke-width="0.18" font-family='"Liberation Sans", sans-serif' >m<tspan font-size="6.6" baseline-shift="-2.4">T2</tspan>=1</text>
<text x="283.60" y="328.30" font-size="8.7" font-weight="normal" text-anchor="start" fill="#000" stroke="#000" stroke-width="0.18" font-family='"Liberation Sans", sans-serif' >V<tspan font-size="6.6" baseline-shift="-2.4">WL</tspan>=0.95V</text>
<text x="333.30" y="365.50" font-size="8.6" font-weight="normal" text-anchor="middle" fill="#000" stroke="#000" stroke-width="0.18" font-family='"Liberation Sans", sans-serif' >PCB noises</text>
<text x="283.90" y="409.50" font-size="8.7" font-weight="normal" text-anchor="start" fill="#000" stroke="#000" stroke-width="0.18" font-family='"Liberation Sans", sans-serif' >w/ V<tspan font-size="6" baseline-shift="-2.2">TH</tspan>-MC :</text>
<text x="283.90" y="422.50" font-size="8.7" font-weight="normal" text-anchor="start" fill="#000" stroke="#000" stroke-width="0.18" font-family='"Liberation Sans", sans-serif' >1σ/μ = 5.43%</text>
<text x="283.90" y="446.30" font-size="8.7" font-weight="normal" text-anchor="start" fill="#000" stroke="#000" stroke-width="0.18" font-family='"Liberation Sans", sans-serif' >V<tspan font-size="6" baseline-shift="-2.2">TBL</tspan>=0.3V</text>
<text x="333.20" y="480.20" font-size="8.6" font-weight="normal" text-anchor="middle" fill="#000" stroke="#000" stroke-width="0.18" font-family='"Liberation Sans", sans-serif' >PCB noises</text>
<text x="426.70" y="480.20" font-size="8.6" font-weight="normal" text-anchor="middle" fill="#000" stroke="#000" stroke-width="0.18" font-family='"Liberation Sans", sans-serif' >30 Devices</text>
<text x="367.10" y="446.70" font-size="7.9" font-weight="normal" text-anchor="middle" fill="#000" stroke="#000" stroke-width="0.18" font-family='"Liberation Sans", sans-serif' >Memory</text>
<text x="366.40" y="455.60" font-size="7.9" font-weight="normal" text-anchor="middle" fill="#000" stroke="#000" stroke-width="0.18" font-family='"Liberation Sans", sans-serif' >Window</text>
<line x1="346.10" y1="309.50" x2="354.20" y2="309.50" stroke="#000" stroke-width="1.1" />
<polygon points="358.20,309.50 353.20,306.70 353.20,312.30" fill="#000" stroke="none" stroke-width="1" />
<line x1="358.60" y1="305.30" x2="358.60" y2="313.70" stroke="#000" stroke-width="0.9" />
<line x1="370.90" y1="305.30" x2="370.90" y2="313.70" stroke="#000" stroke-width="0.9" />
<polygon points="371.30,309.50 376.30,306.70 376.30,312.30" fill="#000" stroke="none" stroke-width="1" />
<line x1="375.30" y1="309.50" x2="383.40" y2="309.50" stroke="#000" stroke-width="1.1" />
<line x1="350.30" y1="427.80" x2="358.20" y2="427.80" stroke="#000" stroke-width="1.1" />
<polygon points="362.20,427.80 357.20,425.00 357.20,430.60" fill="#000" stroke="none" stroke-width="1" />
<line x1="362.60" y1="423.60" x2="362.60" y2="432.00" stroke="#000" stroke-width="0.9" />
<line x1="364.90" y1="423.60" x2="364.90" y2="432.00" stroke="#000" stroke-width="0.9" />
<polygon points="365.30,427.80 370.30,425.00 370.30,430.60" fill="#000" stroke="none" stroke-width="1" />
<line x1="369.30" y1="427.80" x2="375.50" y2="427.80" stroke="#000" stroke-width="1.1" />
<polygon points="363.60,313.80 381.20,313.80 381.20,311.55 387.70,315.80 381.20,320.05 381.20,317.80 363.60,317.80" fill="url(#ge)" stroke="none" stroke-width="1" />
<polygon points="358.20,434.85 390.70,434.85 390.70,432.60 398.70,437.10 390.70,441.60 390.70,439.35 358.20,439.35" fill="url(#ge)" stroke="none" stroke-width="1" />
<text x="479.00" y="252.30" font-size="13.4" font-weight="bold" text-anchor="start" fill="#000" stroke="#000" stroke-width="0.18" font-family='"Liberation Sans", sans-serif' >f</text>
<line x1="510.20" y1="253.70" x2="510.20" y2="370.50" stroke="#555" stroke-width="1" />
<line x1="510.20" y1="253.70" x2="513.20" y2="253.70" stroke="#555" stroke-width="1" />
<line x1="510.20" y1="370.50" x2="513.20" y2="370.50" stroke="#555" stroke-width="0.9" />
<line x1="510.20" y1="351.25" x2="513.20" y2="351.25" stroke="#555" stroke-width="0.9" />
<line x1="510.20" y1="332.00" x2="513.20" y2="332.00" stroke="#555" stroke-width="0.9" />
<line x1="510.20" y1="312.75" x2="513.20" y2="312.75" stroke="#555" stroke-width="0.9" />
<line x1="510.20" y1="293.50" x2="513.20" y2="293.50" stroke="#555" stroke-width="0.9" />
<line x1="510.20" y1="274.25" x2="513.20" y2="274.25" stroke="#555" stroke-width="0.9" />
<line x1="510.20" y1="255.00" x2="513.20" y2="255.00" stroke="#555" stroke-width="0.9" />
<line x1="510.20" y1="370.50" x2="668.20" y2="370.50" stroke="#777" stroke-width="1.1" />
<line x1="550.00" y1="370.50" x2="550.00" y2="367.30" stroke="#777" stroke-width="0.9" />
<line x1="589.50" y1="370.50" x2="589.50" y2="367.30" stroke="#777" stroke-width="0.9" />
<line x1="629.00" y1="370.50" x2="629.00" y2="367.30" stroke="#777" stroke-width="0.9" />
<line x1="668.20" y1="370.50" x2="668.20" y2="367.30" stroke="#777" stroke-width="0.9" />
<text x="506.30" y="257.10" font-size="8.8" font-weight="normal" text-anchor="end" fill="#000" stroke="#000" stroke-width="0.18" font-family='"Liberation Sans", sans-serif' >240</text>
<text x="506.30" y="296.80" font-size="8.8" font-weight="normal" text-anchor="end" fill="#000" stroke="#000" stroke-width="0.18" font-family='"Liberation Sans", sans-serif' >220</text>
<text x="506.30" y="335.30" font-size="8.8" font-weight="normal" text-anchor="end" fill="#000" stroke="#000" stroke-width="0.18" font-family='"Liberation Sans", sans-serif' >200</text>
<text x="506.30" y="373.80" font-size="8.8" font-weight="normal" text-anchor="end" fill="#000" stroke="#000" stroke-width="0.18" font-family='"Liberation Sans", sans-serif' >180</text>
<rect x="521.7" y="281.7" width="15.799999999999955" height="88.80000000000001" fill="#2f75b0"/>
<rect x="561.5" y="326.5" width="15.700000000000045" height="44.0" fill="#2f75b0"/>
<rect x="601" y="262.5" width="16" height="108.0" fill="#2f75b0"/>
<rect x="640.5" y="332.6" width="16.0" height="37.89999999999998" fill="#2f75b0"/>
<line x1="510.20" y1="332.30" x2="667.70" y2="332.30" stroke="#a0a0a0" stroke-width="1.2" stroke-dasharray="7.2,3.2,0.9,3.2"/>
<line x1="622.30" y1="331.50" x2="636.50" y2="324.80" stroke="#a0a0a0" stroke-width="1.1" />
<polygon points="639.60,323.40 633.80,323.00 636.30,328.20" fill="#a0a0a0" stroke="none" stroke-width="1" />
<text x="639.10" y="320.90" font-size="9.2" font-weight="normal" text-anchor="start" fill="#909090" stroke="#909090" stroke-width="0.06" font-family='"Liberation Sans", sans-serif' >I<tspan font-size="6.3" baseline-shift="-2.3">TARGET</tspan></text>
<text transform="translate(485.2,311) rotate(-90)" font-size="9.6" font-weight="bold" text-anchor="middle" font-family='"Liberation Sans", sans-serif' fill="#000">Mean of I<tspan font-size="6.5" baseline-shift="-2.3">TBL</tspan> (nA)</text>
<line x1="510.20" y1="385.50" x2="510.20" y2="504.00" stroke="#555" stroke-width="1" />
<line x1="510.20" y1="504.00" x2="513.20" y2="504.00" stroke="#555" stroke-width="0.9" />
<line x1="510.20" y1="492.14" x2="513.20" y2="492.14" stroke="#555" stroke-width="0.9" />
<line x1="510.20" y1="480.28" x2="513.20" y2="480.28" stroke="#555" stroke-width="0.9" />
<line x1="510.20" y1="468.42" x2="513.20" y2="468.42" stroke="#555" stroke-width="0.9" />
<line x1="510.20" y1="456.56" x2="513.20" y2="456.56" stroke="#555" stroke-width="0.9" />
<line x1="510.20" y1="444.70" x2="513.20" y2="444.70" stroke="#555" stroke-width="0.9" />
<line x1="510.20" y1="432.84" x2="513.20" y2="432.84" stroke="#555" stroke-width="0.9" />
<line x1="510.20" y1="420.98" x2="513.20" y2="420.98" stroke="#555" stroke-width="0.9" />
<line x1="510.20" y1="409.12" x2="513.20" y2="409.12" stroke="#555" stroke-width="0.9" />
<line x1="510.20" y1="397.26" x2="513.20" y2="397.26" stroke="#555" stroke-width="0.9" />
<line x1="510.20" y1="385.40" x2="513.20" y2="385.40" stroke="#555" stroke-width="0.9" />
<line x1="510.20" y1="504.00" x2="669.50" y2="504.00" stroke="#777" stroke-width="1.1" />
<line x1="550.10" y1="504.00" x2="550.10" y2="500.80" stroke="#777" stroke-width="0.9" />
<line x1="589.90" y1="504.00" x2="589.90" y2="500.80" stroke="#777" stroke-width="0.9" />
<line x1="629.70" y1="504.00" x2="629.70" y2="500.80" stroke="#777" stroke-width="0.9" />
<line x1="669.30" y1="504.00" x2="669.30" y2="500.80" stroke="#777" stroke-width="0.9" />
<text x="504.20" y="388.60" font-size="8.8" font-weight="normal" text-anchor="end" fill="#000" stroke="#000" stroke-width="0.18" font-family='"Liberation Sans", sans-serif' >100</text>
<text x="504.20" y="418.25" font-size="8.8" font-weight="normal" text-anchor="end" fill="#000" stroke="#000" stroke-width="0.18" font-family='"Liberation Sans", sans-serif' >75</text>
<text x="504.20" y="447.90" font-size="8.8" font-weight="normal" text-anchor="end" fill="#000" stroke="#000" stroke-width="0.18" font-family='"Liberation Sans", sans-serif' >50</text>
<text x="504.20" y="477.55" font-size="8.8" font-weight="normal" text-anchor="end" fill="#000" stroke="#000" stroke-width="0.18" font-family='"Liberation Sans", sans-serif' >25</text>
<text x="504.20" y="507.20" font-size="8.8" font-weight="normal" text-anchor="end" fill="#000" stroke="#000" stroke-width="0.18" font-family='"Liberation Sans", sans-serif' >0</text>
<text transform="translate(484.2,439) rotate(-90)" font-size="9.9" font-weight="bold" text-anchor="middle" font-family='"Liberation Sans", sans-serif' fill="#000" textLength="69.5" lengthAdjust="spacingAndGlyphs">1σ of I<tspan font-size="6.7" baseline-shift="-2.3">TBL</tspan> (nA)</text>
<line x1="519.10" y1="389.90" x2="551.40" y2="389.90" stroke="#111" stroke-width="1.1" stroke-dasharray="7.2,3.2,0.9,3.2"/>
<line x1="518.60" y1="491.20" x2="661.00" y2="491.20" stroke="#2e75b6" stroke-width="1.2" stroke-dasharray="7.2,3.2,0.9,3.2"/>
<polyline points="530.20,391.30 570.10,445.30 609.90,394.40 649.30,490.70" stroke="#c9504f" stroke-width="1.9" fill="none" stroke-linejoin="round" />
<polygon points="528.10,391.30 532.40,391.30 532.40,485.70 534.00,485.70 530.20,490.30 526.40,485.70 528.10,485.70" fill="url(#gf)" stroke="none" stroke-width="1" />
<polygon points="534.00,485.70 530.20,490.30 526.40,485.70" fill="#2e75b6" stroke="none" stroke-width="1" />
<polygon points="523.90,391.30 530.20,385.00 536.50,391.30 530.20,397.60" fill="#c9504f" stroke="none" stroke-width="0" />
<polygon points="563.80,445.30 570.10,439.00 576.40,445.30 570.10,451.60" fill="#c9504f" stroke="none" stroke-width="0" />
<polygon points="603.60,394.40 609.90,388.10 616.20,394.40 609.90,400.70" fill="#c9504f" stroke="none" stroke-width="0" />
<polygon points="643.00,490.70 649.30,484.40 655.60,490.70 649.30,497.00" fill="#c9504f" stroke="none" stroke-width="0" />
<text x="574.00" y="464.60" font-size="9.6" font-weight="normal" text-anchor="middle" fill="#2e75b6" stroke="#2e75b6" stroke-width="0.06" font-family='"Liberation Sans", sans-serif' >88% reduced</text>
<text x="574.00" y="476.90" font-size="9.6" font-weight="normal" text-anchor="middle" fill="#2e75b6" stroke="#2e75b6" stroke-width="0.06" font-family='"Liberation Sans", sans-serif' >standard deviation</text>
<text x="530.20" y="513.10" font-size="8.6" font-weight="normal" text-anchor="middle" fill="#000" stroke="#000" stroke-width="0.18" font-family='"Liberation Sans", sans-serif' >One-</text>
<text x="530.20" y="523.00" font-size="8.6" font-weight="normal" text-anchor="middle" fill="#000" stroke="#000" stroke-width="0.18" font-family='"Liberation Sans", sans-serif' >shoot</text>
<text x="569.90" y="513.10" font-size="8.6" font-weight="normal" text-anchor="middle" fill="#000" stroke="#000" stroke-width="0.18" font-family='"Liberation Sans", sans-serif' >Only</text>
<text x="569.90" y="523.00" font-size="8.6" font-weight="normal" text-anchor="middle" fill="#000" stroke="#000" stroke-width="0.18" font-family='"Liberation Sans", sans-serif' >coarse-tuning</text>
<text x="609.60" y="513.10" font-size="8.6" font-weight="normal" text-anchor="middle" fill="#000" stroke="#000" stroke-width="0.18" font-family='"Liberation Sans", sans-serif' >Only fine-</text>
<text x="609.60" y="523.00" font-size="8.6" font-weight="normal" text-anchor="middle" fill="#000" stroke="#000" stroke-width="0.18" font-family='"Liberation Sans", sans-serif' >tuning</text>
<text x="649.30" y="513.10" font-size="8.6" font-weight="normal" text-anchor="middle" fill="#000" stroke="#000" stroke-width="0.18" font-family='"Liberation Sans", sans-serif' >Proposed</text>
<text x="649.30" y="523.00" font-size="8.6" font-weight="normal" text-anchor="middle" fill="#000" stroke="#000" stroke-width="0.18" font-family='"Liberation Sans", sans-serif' >V<tspan font-size="6" baseline-shift="-2.2">TH</tspan>-MC</text>
</svg></body></html>
